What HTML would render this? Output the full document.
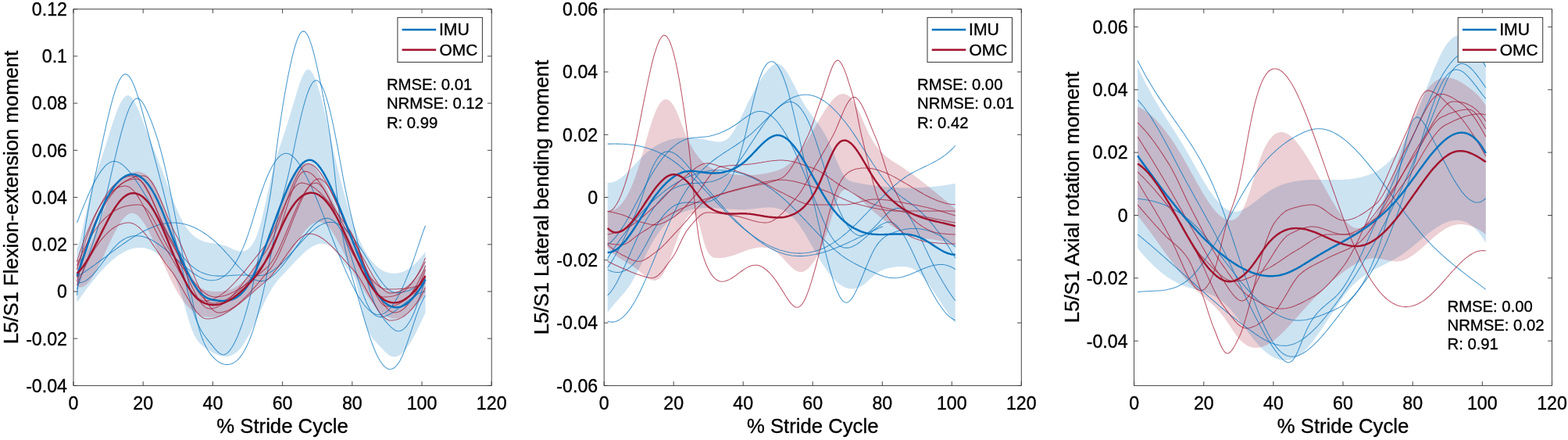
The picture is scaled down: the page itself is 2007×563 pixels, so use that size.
<!DOCTYPE html><html><head><meta charset="utf-8"><style>html,body{margin:0;padding:0;background:#fff;}svg{display:block;}text{font-family:"Liberation Sans",Arial,Helvetica,sans-serif;fill:#000;stroke:#000;stroke-width:0.35px;}</style></head><body>
<svg width="2007" height="563" viewBox="0 0 2007 563">
<rect width="2007" height="563" fill="#fff"/>
<defs><clipPath id="c0"><rect x="94.0" y="11.7" width="535.2" height="481.7"/></clipPath></defs>
<g clip-path="url(#c0)">
<path d="M98.5 319.0L100.5 313.1 102.5 305.9 104.5 297.8 106.5 289.0 108.5 279.8 110.5 270.5 112.5 261.4 114.5 252.7 116.5 244.7 118.5 237.4 120.5 230.6 122.5 224.2 124.5 218.1 126.5 212.1 128.5 206.3 130.5 200.4 132.5 194.4 134.5 188.2 136.5 181.9 138.5 175.4 140.5 169.0 142.5 162.7 144.5 156.6 146.5 150.7 148.5 145.2 150.5 140.0 152.5 135.4 154.5 131.3 156.5 127.9 158.5 125.1 160.5 123.2 162.5 122.2 164.5 122.1 166.5 123.0 168.5 124.8 170.5 127.4 172.5 130.8 174.5 134.7 176.5 139.1 178.5 143.9 180.5 149.0 182.5 154.2 184.5 159.5 186.5 164.8 188.5 170.0 190.5 175.1 192.5 180.2 194.5 185.2 196.5 190.3 198.5 195.3 200.5 200.3 202.5 205.4 204.5 210.5 206.5 215.6 208.5 220.8 210.5 226.1 212.5 231.4 214.5 236.8 216.5 242.3 218.5 247.7 220.5 253.0 222.5 258.2 224.5 263.3 226.5 268.2 228.5 272.8 230.5 277.1 232.5 281.1 234.5 284.7 236.5 288.1 238.5 291.1 240.5 293.8 242.5 296.3 244.5 298.5 246.5 300.4 248.5 302.2 250.5 303.7 252.5 305.0 254.5 306.2 256.5 307.2 258.5 308.0 260.5 308.7 262.5 309.4 264.5 309.9 266.5 310.3 268.5 310.7 270.5 311.0 272.5 311.3 274.5 311.6 276.5 311.9 278.5 312.2 280.5 312.5 282.5 312.9 284.5 313.4 286.5 313.9 288.5 314.5 290.5 315.3 292.5 316.1 294.5 317.0 296.5 318.0 298.5 318.9 300.5 319.7 302.5 320.5 304.5 321.1 306.5 321.5 308.5 321.7 310.5 321.6 312.5 321.2 314.5 320.5 316.5 319.4 318.5 317.9 320.5 315.8 322.5 313.3 324.5 310.2 326.5 306.4 328.5 301.8 330.5 296.3 332.5 289.8 334.5 282.4 336.5 274.1 338.5 265.4 340.5 256.4 342.5 247.3 344.5 238.4 346.5 229.7 348.5 221.3 350.5 213.4 352.5 206.0 354.5 199.1 356.5 192.6 358.5 186.4 360.5 180.4 362.5 174.4 364.5 168.4 366.5 162.3 368.5 156.0 370.5 149.5 372.5 143.0 374.5 136.3 376.5 129.6 378.5 122.9 380.5 116.3 382.5 110.0 384.5 104.2 386.5 99.0 388.5 94.8 390.5 91.5 392.5 89.5 394.5 88.9 396.5 89.6 398.5 91.5 400.5 94.5 402.5 98.5 404.5 103.5 406.5 109.3 408.5 115.8 410.5 122.9 412.5 130.6 414.5 138.7 416.5 147.2 418.5 155.9 420.5 164.7 422.5 173.6 424.5 182.5 426.5 191.2 428.5 199.8 430.5 208.2 432.5 216.5 434.5 224.6 436.5 232.6 438.5 240.3 440.5 247.8 442.5 255.0 444.5 262.1 446.5 268.8 448.5 275.3 450.5 281.5 452.5 287.4 454.5 293.0 456.5 298.2 458.5 303.2 460.5 307.8 462.5 312.1 464.5 316.2 466.5 320.0 468.5 323.4 470.5 326.7 472.5 329.7 474.5 332.4 476.5 334.9 478.5 337.1 480.5 339.2 482.5 341.0 484.5 342.7 486.5 344.1 488.5 345.4 490.5 346.5 492.5 347.4 494.5 348.2 496.5 348.8 498.5 349.3 500.5 349.6 502.5 349.8 504.5 349.9 506.5 349.8 508.5 349.6 510.5 349.3 512.5 348.8 514.5 348.2 516.5 347.4 518.5 346.5 520.5 345.5 522.5 344.3 524.5 343.0 526.5 341.5 528.5 339.9 530.5 338.2 532.5 336.3 534.5 334.3 536.5 332.1 538.5 329.8 540.5 327.3 542.5 324.7 544.5 322.0L544.5 399.7 542.5 404.2 540.5 408.7 538.5 413.1 536.5 417.3 534.5 421.5 532.5 425.4 530.5 429.3 528.5 432.9 526.5 436.4 524.5 439.6 522.5 442.6 520.5 445.4 518.5 447.9 516.5 450.1 514.5 452.1 512.5 453.7 510.5 455.0 508.5 455.9 506.5 456.5 504.5 456.6 502.5 456.4 500.5 455.8 498.5 454.7 496.5 453.3 494.5 451.6 492.5 449.7 490.5 447.7 488.5 445.5 486.5 443.3 484.5 441.2 482.5 439.1 480.5 437.1 478.5 434.9 476.5 432.4 474.5 429.4 472.5 425.8 470.5 421.5 468.5 416.2 466.5 409.9 464.5 402.4 462.5 393.6 460.5 383.7 458.5 373.8 456.5 365.0 454.5 358.2 452.5 353.5 450.5 350.3 448.5 347.9 446.5 346.0 444.5 343.8 442.5 341.2 440.5 338.3 438.5 335.1 436.5 331.8 434.5 328.6 432.5 325.6 430.5 322.8 428.5 320.4 426.5 318.3 424.5 316.6 422.5 315.1 420.5 313.9 418.5 313.0 416.5 312.3 414.5 311.9 412.5 311.7 410.5 311.8 408.5 312.1 406.5 312.5 404.5 313.2 402.5 314.1 400.5 315.1 398.5 316.2 396.5 317.6 394.5 319.0 392.5 320.6 390.5 322.3 388.5 324.1 386.5 325.9 384.5 327.9 382.5 329.9 380.5 331.9 378.5 334.0 376.5 336.2 374.5 338.3 372.5 340.4 370.5 342.6 368.5 344.7 366.5 346.8 364.5 348.9 362.5 351.0 360.5 353.1 358.5 355.3 356.5 357.6 354.5 360.1 352.5 362.7 350.5 365.5 348.5 368.5 346.5 371.8 344.5 375.3 342.5 379.0 340.5 382.9 338.5 387.0 336.5 391.1 334.5 395.4 332.5 399.7 330.5 404.0 328.5 408.3 326.5 412.6 324.5 416.9 322.5 421.0 320.5 425.0 318.5 428.9 316.5 432.6 314.5 436.1 312.5 439.3 310.5 442.3 308.5 444.9 306.5 447.3 304.5 449.3 302.5 451.1 300.5 452.5 298.5 453.7 296.5 454.7 294.5 455.4 292.5 455.9 290.5 456.2 288.5 456.3 286.5 456.1 284.5 455.8 282.5 455.4 280.5 454.8 278.5 454.1 276.5 453.2 274.5 452.2 272.5 451.2 270.5 450.0 268.5 448.8 266.5 447.5 264.5 446.2 262.5 444.8 260.5 443.4 258.5 441.8 256.5 440.0 254.5 437.9 252.5 435.3 250.5 432.2 248.5 428.5 246.5 424.1 244.5 418.8 242.5 412.7 240.5 406.0 238.5 398.9 236.5 391.7 234.5 384.8 232.5 378.3 230.5 372.3 228.5 366.7 226.5 361.6 224.5 356.8 222.5 352.4 220.5 348.4 218.5 344.8 216.5 341.4 214.5 338.4 212.5 335.6 210.5 333.1 208.5 330.9 206.5 328.9 204.5 327.1 202.5 325.5 200.5 324.0 198.5 322.7 196.5 321.6 194.5 320.5 192.5 319.6 190.5 318.9 188.5 318.2 186.5 317.7 184.5 317.3 182.5 317.1 180.5 316.9 178.5 316.9 176.5 317.0 174.5 317.2 172.5 317.5 170.5 317.9 168.5 318.4 166.5 319.1 164.5 319.8 162.5 320.6 160.5 321.6 158.5 322.6 156.5 323.7 154.5 324.9 152.5 326.2 150.5 327.6 148.5 329.1 146.5 330.7 144.5 332.3 142.5 334.0 140.5 335.8 138.5 337.7 136.5 339.6 134.5 341.6 132.5 343.7 130.5 345.8 128.5 348.0 126.5 350.3 124.5 352.6 122.5 355.0 120.5 357.4 118.5 359.9 116.5 362.4 114.5 365.0 112.5 367.6 110.5 370.3 108.5 373.0 106.5 375.7 104.5 378.5 102.5 381.3 100.5 384.2 98.5 387.1Z" fill="#0072BD" fill-opacity="0.2" stroke="none"/>
<path d="M98.5 332.0L100.5 332.2 102.5 331.6 104.5 330.2 106.5 328.3 108.5 325.7 110.5 322.6 112.5 319.0 114.5 315.0 116.5 310.7 118.5 306.0 120.5 301.1 122.5 296.1 124.5 290.9 126.5 285.6 128.5 280.4 130.5 275.2 132.5 270.1 134.5 265.2 136.5 260.5 138.5 256.1 140.5 252.0 142.5 248.2 144.5 244.6 146.5 241.4 148.5 238.4 150.5 235.6 152.5 233.1 154.5 230.8 156.5 228.8 158.5 226.9 160.5 225.3 162.5 224.0 164.5 222.8 166.5 221.8 168.5 221.0 170.5 220.4 172.5 219.9 174.5 219.7 176.5 219.6 178.5 219.8 180.5 220.2 182.5 220.9 184.5 221.8 186.5 223.0 188.5 224.6 190.5 226.5 192.5 228.7 194.5 231.3 196.5 234.3 198.5 237.7 200.5 241.4 202.5 245.7 204.5 250.2 206.5 255.1 208.5 260.3 210.5 265.6 212.5 271.1 214.5 276.8 216.5 282.4 218.5 288.1 220.5 293.8 222.5 299.4 224.5 304.9 226.5 310.4 228.5 315.7 230.5 320.9 232.5 326.0 234.5 330.9 236.5 335.6 238.5 340.1 240.5 344.4 242.5 348.4 244.5 352.2 246.5 355.6 248.5 358.8 250.5 361.6 252.5 364.1 254.5 366.2 256.5 367.9 258.5 369.3 260.5 370.3 262.5 371.1 264.5 371.7 266.5 372.1 268.5 372.4 270.5 372.6 272.5 372.8 274.5 372.9 276.5 373.0 278.5 373.0 280.5 373.0 282.5 372.9 284.5 372.8 286.5 372.5 288.5 372.2 290.5 371.8 292.5 371.2 294.5 370.6 296.5 369.9 298.5 369.0 300.5 368.0 302.5 366.8 304.5 365.6 306.5 364.1 308.5 362.5 310.5 360.8 312.5 358.8 314.5 356.7 316.5 354.5 318.5 352.0 320.5 349.3 322.5 346.4 324.5 343.3 326.5 340.0 328.5 336.5 330.5 332.7 332.5 328.7 334.5 324.5 336.5 319.9 338.5 315.2 340.5 310.2 342.5 305.1 344.5 299.8 346.5 294.3 348.5 288.8 350.5 283.3 352.5 277.7 354.5 272.1 356.5 266.6 358.5 261.2 360.5 255.9 362.5 250.7 364.5 245.7 366.5 240.9 368.5 236.4 370.5 232.2 372.5 228.2 374.5 224.6 376.5 221.4 378.5 218.5 380.5 216.0 382.5 213.9 384.5 212.2 386.5 210.8 388.5 209.8 390.5 209.3 392.5 209.1 394.5 209.4 396.5 210.0 398.5 211.1 400.5 212.6 402.5 214.5 404.5 216.9 406.5 219.6 408.5 222.8 410.5 226.2 412.5 229.8 414.5 233.7 416.5 237.8 418.5 241.9 420.5 246.1 422.5 250.3 424.5 254.6 426.5 258.8 428.5 263.1 430.5 267.4 432.5 271.6 434.5 275.9 436.5 280.1 438.5 284.3 440.5 288.5 442.5 292.7 444.5 296.8 446.5 301.0 448.5 305.0 450.5 309.0 452.5 313.0 454.5 316.9 456.5 320.8 458.5 324.6 460.5 328.3 462.5 331.9 464.5 335.5 466.5 339.0 468.5 342.3 470.5 345.6 472.5 348.7 474.5 351.7 476.5 354.5 478.5 357.2 480.5 359.6 482.5 361.9 484.5 364.0 486.5 365.9 488.5 367.5 490.5 369.0 492.5 370.2 494.5 371.3 496.5 372.1 498.5 372.7 500.5 373.2 502.5 373.5 504.5 373.5 506.5 373.4 508.5 373.1 510.5 372.7 512.5 372.1 514.5 371.3 516.5 370.3 518.5 369.2 520.5 367.9 522.5 366.4 524.5 364.9 526.5 363.1 528.5 361.2 530.5 359.2 532.5 357.0 534.5 354.7 536.5 352.3 538.5 349.7 540.5 347.0 542.5 344.2 544.5 341.3L544.5 376.1 542.5 378.7 540.5 381.2 538.5 383.7 536.5 386.1 534.5 388.4 532.5 390.7 530.5 392.8 528.5 394.9 526.5 396.8 524.5 398.6 522.5 400.2 520.5 401.8 518.5 403.1 516.5 404.3 514.5 405.4 512.5 406.2 510.5 406.9 508.5 407.3 506.5 407.6 504.5 407.6 502.5 407.4 500.5 407.0 498.5 406.3 496.5 405.5 494.5 404.5 492.5 403.2 490.5 401.8 488.5 400.2 486.5 398.5 484.5 396.6 482.5 394.5 480.5 392.2 478.5 389.8 476.5 387.3 474.5 384.6 472.5 381.8 470.5 378.9 468.5 375.9 466.5 372.7 464.5 369.5 462.5 366.1 460.5 362.7 458.5 359.1 456.5 355.5 454.5 351.9 452.5 348.1 450.5 344.3 448.5 340.5 446.5 336.6 444.5 332.6 442.5 328.6 440.5 324.6 438.5 320.6 436.5 316.6 434.5 312.7 432.5 308.9 430.5 305.2 428.5 301.7 426.5 298.5 424.5 295.5 422.5 292.8 420.5 290.4 418.5 288.4 416.5 286.8 414.5 285.6 412.5 284.7 410.5 284.2 408.5 284.0 406.5 284.1 404.5 284.5 402.5 285.3 400.5 286.3 398.5 287.6 396.5 289.1 394.5 291.0 392.5 293.0 390.5 295.3 388.5 297.8 386.5 300.5 384.5 303.4 382.5 306.4 380.5 309.5 378.5 312.6 376.5 315.8 374.5 319.0 372.5 322.1 370.5 325.2 368.5 328.1 366.5 331.0 364.5 333.7 362.5 336.2 360.5 338.6 358.5 341.0 356.5 343.2 354.5 345.3 352.5 347.3 350.5 349.3 348.5 351.2 346.5 353.0 344.5 354.8 342.5 356.5 340.5 358.3 338.5 360.0 336.5 361.6 334.5 363.3 332.5 365.0 330.5 366.8 328.5 368.5 326.5 370.3 324.5 372.1 322.5 374.0 320.5 375.8 318.5 377.7 316.5 379.5 314.5 381.4 312.5 383.2 310.5 385.0 308.5 386.8 306.5 388.6 304.5 390.2 302.5 391.9 300.5 393.5 298.5 395.0 296.5 396.4 294.5 397.8 292.5 399.0 290.5 400.2 288.5 401.2 286.5 402.2 284.5 403.0 282.5 403.7 280.5 404.3 278.5 404.8 276.5 405.3 274.5 405.6 272.5 405.8 270.5 405.8 268.5 405.8 266.5 405.7 264.5 405.5 262.5 405.2 260.5 404.7 258.5 404.2 256.5 403.4 254.5 402.6 252.5 401.6 250.5 400.4 248.5 399.1 246.5 397.7 244.5 396.0 242.5 394.2 240.5 392.2 238.5 390.0 236.5 387.7 234.5 385.1 232.5 382.3 230.5 379.4 228.5 376.2 226.5 372.8 224.5 369.2 222.5 365.4 220.5 361.5 218.5 357.4 216.5 353.3 214.5 349.0 212.5 344.6 210.5 340.2 208.5 335.7 206.5 331.2 204.5 326.6 202.5 322.1 200.5 317.5 198.5 313.1 196.5 308.7 194.5 304.4 192.5 300.3 190.5 296.4 188.5 292.6 186.5 289.1 184.5 285.8 182.5 282.9 180.5 280.2 178.5 277.9 176.5 276.0 174.5 274.5 172.5 273.4 170.5 272.8 168.5 272.7 166.5 273.1 164.5 273.9 162.5 275.3 160.5 277.0 158.5 279.1 156.5 281.6 154.5 284.4 152.5 287.4 150.5 290.8 148.5 294.4 146.5 298.1 144.5 302.1 142.5 306.2 140.5 310.3 138.5 314.6 136.5 318.9 134.5 323.2 132.5 327.5 130.5 331.7 128.5 335.8 126.5 339.8 124.5 343.7 122.5 347.4 120.5 350.9 118.5 354.1 116.5 357.1 114.5 359.8 112.5 362.1 110.5 364.0 108.5 365.6 106.5 366.7 104.5 367.4 102.5 367.5 100.5 367.2 98.5 366.3Z" fill="#A2142F" fill-opacity="0.2" stroke="none"/>
<path d="M98.5 377.7L100.5 358.5 102.5 340.8 104.5 324.6 106.5 309.7 108.5 296.0 110.5 283.4 112.5 271.7 114.5 260.8 116.5 250.5 118.5 240.7 120.5 231.2 122.5 222.0 124.5 212.8 126.5 203.6 128.5 194.3 130.5 185.0 132.5 175.7 134.5 166.6 136.5 157.7 138.5 149.2 140.5 140.9 142.5 133.1 144.5 125.9 146.5 119.2 148.5 113.1 150.5 107.8 152.5 103.3 154.5 99.7 156.5 97.0 158.5 95.3 160.5 94.8 162.5 95.3 164.5 96.9 166.5 99.4 168.5 102.8 170.5 106.9 172.5 111.8 174.5 117.3 176.5 123.3 178.5 129.8 180.5 136.7 182.5 143.9 184.5 151.3 186.5 158.8 188.5 166.4 190.5 174.0 192.5 181.5 194.5 189.0 196.5 196.6 198.5 204.1 200.5 211.7 202.5 219.3 204.5 226.9 206.5 234.7 208.5 242.5 210.5 250.4 212.5 258.4 214.5 266.5 216.5 274.6 218.5 282.8 220.5 291.1 222.5 299.3 224.5 307.6 226.5 315.9 228.5 324.3 230.5 332.6 232.5 340.9 234.5 349.3 236.5 357.5 238.5 365.6 240.5 373.5 242.5 381.2 244.5 388.4 246.5 395.3 248.5 401.6 250.5 407.3 252.5 412.5 254.5 417.0 256.5 421.0 258.5 424.5 260.5 427.7 262.5 430.5 264.5 433.2 266.5 435.7 268.5 438.1 270.5 440.6 272.5 443.1 274.5 445.6 276.5 447.9 278.5 450.0 280.5 451.7 282.5 453.0 284.5 453.8 286.5 453.9 288.5 453.3 290.5 452.1 292.5 450.2 294.5 447.9 296.5 445.0 298.5 441.7 300.5 437.9 302.5 433.8 304.5 429.2 306.5 424.3 308.5 419.0 310.5 413.3 312.5 407.2 314.5 400.6 316.5 393.6 318.5 386.1 320.5 378.1 322.5 369.7 324.5 360.7 326.5 351.3 328.5 341.2 330.5 330.7 332.5 320.0 334.5 309.2 336.5 298.8 338.5 288.8 340.5 279.0 342.5 269.0 344.5 258.2 346.5 246.2 348.5 232.7 350.5 217.8 352.5 202.3 354.5 187.0 356.5 172.3 358.5 158.3 360.5 145.0 362.5 132.3 364.5 120.4 366.5 109.1 368.5 98.5 370.5 88.6 372.5 79.4 374.5 70.9 376.5 63.2 378.5 56.5 380.5 50.7 382.5 46.0 384.5 42.6 386.5 40.5 388.5 39.9 390.5 40.7 392.5 43.0 394.5 46.6 396.5 51.4 398.5 57.2 400.5 64.0 402.5 71.5 404.5 79.8 406.5 88.5 408.5 97.8 410.5 107.5 412.5 117.5 414.5 127.9 416.5 138.4 418.5 149.3 420.5 161.0 422.5 173.8 424.5 188.3 426.5 204.8 428.5 223.1 430.5 241.7 432.5 259.0 434.5 274.5 436.5 288.4 438.5 300.8 440.5 311.9 442.5 321.9 444.5 330.9 446.5 339.1 448.5 346.7 450.5 353.8 452.5 360.7 454.5 367.5 456.5 374.4 458.5 381.3 460.5 388.3 462.5 395.3 464.5 402.2 466.5 409.1 468.5 415.7 470.5 422.2 472.5 428.4 474.5 434.4 476.5 440.0 478.5 445.2 480.5 450.0 482.5 454.4 484.5 458.3 486.5 461.8 488.5 464.8 490.5 467.3 492.5 469.3 494.5 470.8 496.5 471.9 498.5 472.4 500.5 472.3 502.5 471.8 504.5 470.7 506.5 469.0 508.5 466.7 510.5 463.9 512.5 460.5 514.5 456.5 516.5 451.8 518.5 446.7 520.5 441.1 522.5 435.2 524.5 429.1 526.5 422.9 528.5 416.8 530.5 410.8 532.5 405.0 534.5 399.6 536.5 394.4 538.5 389.6 540.5 385.3 542.5 381.3 544.5 377.9" fill="none" stroke="#0072BD" stroke-width="1.05" stroke-opacity="0.72"/>
<path d="M98.5 369.8L100.5 363.8 102.5 357.9 104.5 352.1 106.5 346.5 108.5 340.9 110.5 335.3 112.5 329.7 114.5 324.0 116.5 318.2 118.5 312.4 120.5 306.3 122.5 300.0 124.5 293.5 126.5 286.7 128.5 279.6 130.5 272.1 132.5 264.3 134.5 256.2 136.5 247.9 138.5 239.4 140.5 230.8 142.5 222.2 144.5 213.6 146.5 205.1 148.5 196.7 150.5 188.4 152.5 180.4 154.5 172.8 156.5 165.4 158.5 158.5 160.5 152.1 162.5 146.2 164.5 140.9 166.5 136.4 168.5 132.5 170.5 129.5 172.5 127.3 174.5 126.1 176.5 125.9 178.5 126.8 180.5 128.6 182.5 131.2 184.5 134.6 186.5 138.5 188.5 142.8 190.5 147.4 192.5 152.3 194.5 157.4 196.5 162.8 198.5 168.6 200.5 174.7 202.5 181.2 204.5 188.0 206.5 195.3 208.5 203.0 210.5 211.2 212.5 219.7 214.5 228.7 216.5 238.0 218.5 247.7 220.5 257.5 222.5 267.7 224.5 278.0 226.5 288.5 228.5 299.0 230.5 309.4 232.5 319.7 234.5 329.6 236.5 339.2 238.5 348.5 240.5 357.7 242.5 366.8 244.5 376.0 246.5 385.3 248.5 394.5 250.5 403.4 252.5 411.8 254.5 419.4 256.5 426.1 258.5 432.0 260.5 437.1 262.5 441.6 264.5 445.4 266.5 448.8 268.5 451.7 270.5 454.3 272.5 456.6 274.5 458.7 276.5 460.6 278.5 462.1 280.5 463.5 282.5 464.6 284.5 465.4 286.5 466.0 288.5 466.4 290.5 466.5 292.5 466.4 294.5 466.1 296.5 465.5 298.5 464.6 300.5 463.4 302.5 461.9 304.5 460.1 306.5 457.9 308.5 455.4 310.5 452.5 312.5 449.2 314.5 445.6 316.5 441.5 318.5 436.9 320.5 432.0 322.5 426.6 324.5 420.7 326.5 414.3 328.5 407.4 330.5 400.1 332.5 392.4 334.5 384.2 336.5 375.6 338.5 366.6 340.5 357.2 342.5 347.4 344.5 337.3 346.5 326.8 348.5 316.0 350.5 305.0 352.5 294.1 354.5 283.6 356.5 273.9 358.5 265.1 360.5 257.0 362.5 249.4 364.5 241.9 366.5 234.3 368.5 226.3 370.5 217.6 372.5 208.4 374.5 198.8 376.5 189.1 378.5 179.5 380.5 170.1 382.5 161.0 384.5 152.3 386.5 144.0 388.5 136.3 390.5 129.1 392.5 122.7 394.5 117.0 396.5 112.2 398.5 108.3 400.5 105.3 402.5 103.5 404.5 102.8 406.5 103.2 408.5 104.8 410.5 107.4 412.5 111.1 414.5 115.6 416.5 121.1 418.5 127.4 420.5 134.5 422.5 142.3 424.5 150.8 426.5 160.0 428.5 169.7 430.5 179.9 432.5 190.5 434.5 201.5 436.5 212.6 438.5 223.6 440.5 234.3 442.5 244.4 444.5 253.9 446.5 262.9 448.5 271.6 450.5 280.1 452.5 288.4 454.5 296.6 456.5 305.0 458.5 313.4 460.5 321.8 462.5 330.2 464.5 338.3 466.5 346.3 468.5 354.0 470.5 361.4 472.5 368.3 474.5 374.8 476.5 380.7 478.5 386.1 480.5 390.8 482.5 394.9 484.5 398.5 486.5 401.7 488.5 404.6 490.5 407.3 492.5 409.8 494.5 412.2 496.5 414.6 498.5 416.7 500.5 418.7 502.5 420.4 504.5 421.8 506.5 422.9 508.5 423.5 510.5 423.7 512.5 423.4 514.5 422.5 516.5 421.2 518.5 419.4 520.5 417.1 522.5 414.3 524.5 411.1 526.5 407.4 528.5 403.3 530.5 398.7 532.5 393.8 534.5 388.4 536.5 382.7 538.5 376.5 540.5 370.0 542.5 363.2 544.5 356.0" fill="none" stroke="#0072BD" stroke-width="1.05" stroke-opacity="0.72"/>
<path d="M98.5 285.1L100.5 280.0 102.5 274.9 104.5 269.9 106.5 265.0 108.5 260.1 110.5 255.4 112.5 250.7 114.5 246.2 116.5 241.9 118.5 237.8 120.5 233.8 122.5 230.0 124.5 226.5 126.5 223.2 128.5 220.1 130.5 217.3 132.5 214.8 134.5 212.6 136.5 210.7 138.5 209.1 140.5 207.9 142.5 207.0 144.5 206.6 146.5 206.4 148.5 206.7 150.5 207.2 152.5 208.1 154.5 209.2 156.5 210.6 158.5 212.2 160.5 214.1 162.5 216.2 164.5 218.4 166.5 220.8 168.5 223.3 170.5 226.0 172.5 228.7 174.5 231.6 176.5 234.6 178.5 237.6 180.5 240.7 182.5 243.9 184.5 247.2 186.5 250.5 188.5 253.9 190.5 257.3 192.5 260.8 194.5 264.3 196.5 267.8 198.5 271.3 200.5 274.9 202.5 278.4 204.5 281.9 206.5 285.5 208.5 288.9 210.5 292.4 212.5 295.8 214.5 299.2 216.5 302.5 218.5 305.8 220.5 309.0 222.5 312.2 224.5 315.2 226.5 318.2 228.5 321.0 230.5 323.8 232.5 326.5 234.5 329.0 236.5 331.4 238.5 333.7 240.5 335.9 242.5 337.9 244.5 339.7 246.5 341.4 248.5 342.9 250.5 344.4 252.5 345.7 254.5 346.8 256.5 347.9 258.5 348.8 260.5 349.6 262.5 350.3 264.5 350.9 266.5 351.5 268.5 351.9 270.5 352.3 272.5 352.6 274.5 352.8 276.5 353.0 278.5 353.1 280.5 353.1 282.5 353.2 284.5 353.1 286.5 353.1 288.5 353.0 290.5 352.9 292.5 352.7 294.5 352.6 296.5 352.5 298.5 352.3 300.5 352.2 302.5 352.1 304.5 352.0 306.5 351.9 308.5 351.9 310.5 351.9 312.5 351.9 314.5 352.0 316.5 352.1 318.5 352.3 320.5 352.4 322.5 352.6 324.5 352.7 326.5 352.8 328.5 352.8 330.5 352.8 332.5 352.6 334.5 352.4 336.5 352.0 338.5 351.5 340.5 350.9 342.5 350.1 344.5 349.1 346.5 348.0 348.5 346.8 350.5 345.4 352.5 343.9 354.5 342.4 356.5 340.7 358.5 338.9 360.5 337.0 362.5 335.0 364.5 333.0 366.5 330.9 368.5 328.8 370.5 326.6 372.5 324.4 374.5 322.2 376.5 319.9 378.5 317.6 380.5 315.4 382.5 313.1 384.5 310.9 386.5 308.7 388.5 306.6 390.5 304.4 392.5 302.4 394.5 300.4 396.5 298.5 398.5 296.6 400.5 294.9 402.5 293.3 404.5 291.7 406.5 290.3 408.5 289.0 410.5 287.9 412.5 286.9 414.5 286.0 416.5 285.3 418.5 284.8 420.5 284.5 422.5 284.3 424.5 284.4 426.5 284.6 428.5 285.1 430.5 285.8 432.5 286.6 434.5 287.7 436.5 289.0 438.5 290.4 440.5 292.0 442.5 293.8 444.5 295.8 446.5 297.9 448.5 300.1 450.5 302.5 452.5 305.0 454.5 307.6 456.5 310.3 458.5 313.1 460.5 316.1 462.5 319.1 464.5 322.2 466.5 325.4 468.5 328.7 470.5 332.0 472.5 335.4 474.5 338.8 476.5 342.2 478.5 345.6 480.5 348.9 482.5 352.1 484.5 355.2 486.5 358.1 488.5 360.9 490.5 363.5 492.5 365.9 494.5 368.0 496.5 369.8 498.5 371.3 500.5 372.5 502.5 373.4 504.5 374.0 506.5 374.4 508.5 374.6 510.5 374.5 512.5 374.4 514.5 374.1 516.5 373.6 518.5 373.2 520.5 372.6 522.5 371.9 524.5 371.2 526.5 370.3 528.5 369.4 530.5 368.4 532.5 367.2 534.5 366.0 536.5 364.7 538.5 363.3 540.5 361.8 542.5 360.2 544.5 358.5" fill="none" stroke="#0072BD" stroke-width="1.05" stroke-opacity="0.72"/>
<path d="M98.5 354.0L100.5 352.8 102.5 351.6 104.5 350.3 106.5 349.0 108.5 347.7 110.5 346.3 112.5 345.0 114.5 343.6 116.5 342.2 118.5 340.8 120.5 339.4 122.5 337.9 124.5 336.5 126.5 335.0 128.5 333.5 130.5 332.0 132.5 330.5 134.5 329.1 136.5 327.6 138.5 326.1 140.5 324.6 142.5 323.1 144.5 321.6 146.5 320.2 148.5 318.7 150.5 317.2 152.5 315.8 154.5 314.4 156.5 312.9 158.5 311.5 160.5 310.2 162.5 308.8 164.5 307.4 166.5 306.1 168.5 304.8 170.5 303.6 172.5 302.3 174.5 301.1 176.5 299.9 178.5 298.8 180.5 297.7 182.5 296.6 184.5 295.5 186.5 294.5 188.5 293.6 190.5 292.7 192.5 291.8 194.5 290.9 196.5 290.2 198.5 289.4 200.5 288.7 202.5 288.1 204.5 287.5 206.5 287.0 208.5 286.5 210.5 286.1 212.5 285.8 214.5 285.5 216.5 285.3 218.5 285.1 220.5 285.0 222.5 285.0 224.5 285.1 226.5 285.2 228.5 285.4 230.5 285.6 232.5 286.0 234.5 286.4 236.5 286.8 238.5 287.4 240.5 288.0 242.5 288.6 244.5 289.4 246.5 290.2 248.5 291.1 250.5 292.0 252.5 293.0 254.5 294.1 256.5 295.2 258.5 296.4 260.5 297.7 262.5 299.0 264.5 300.4 266.5 301.9 268.5 303.4 270.5 305.0 272.5 306.7 274.5 308.4 276.5 310.2 278.5 312.1 280.5 314.0 282.5 316.0 284.5 318.0 286.5 320.1 288.5 322.3 290.5 324.5 292.5 326.7 294.5 329.0 296.5 331.3 298.5 333.6 300.5 335.9 302.5 338.1 304.5 340.3 306.5 342.5 308.5 344.5 310.5 346.5 312.5 348.5 314.5 350.3 316.5 351.9 318.5 353.5 320.5 354.9 322.5 356.2 324.5 357.2 326.5 358.1 328.5 358.8 330.5 359.3 332.5 359.6 334.5 359.6 336.5 359.4 338.5 358.9 340.5 358.2 342.5 357.3 344.5 356.2 346.5 354.8 348.5 353.3 350.5 351.7 352.5 349.8 354.5 347.9 356.5 345.7 358.5 343.5 360.5 341.1 362.5 338.7 364.5 336.2 366.5 333.5 368.5 330.9 370.5 328.1 372.5 325.4 374.5 322.6 376.5 319.7 378.5 316.9 380.5 314.1 382.5 311.3 384.5 308.6 386.5 305.9 388.5 303.2 390.5 300.6 392.5 298.1 394.5 295.7 396.5 293.4 398.5 291.2 400.5 289.1 402.5 287.2 404.5 285.5 406.5 283.9 408.5 282.5 410.5 281.3 412.5 280.4 414.5 279.7 416.5 279.4 418.5 279.3 420.5 279.5 422.5 280.1 424.5 281.0 426.5 282.3 428.5 283.9 430.5 286.0 432.5 288.6 434.5 291.5 436.5 295.0 438.5 298.9 440.5 303.4 442.5 308.3 444.5 313.7 446.5 319.4 448.5 325.4 450.5 331.7 452.5 338.1 454.5 344.5 456.5 351.0 458.5 357.4 460.5 363.6 462.5 369.6 464.5 375.4 466.5 380.7 468.5 385.7 470.5 390.1 472.5 394.0 474.5 397.3 476.5 399.9 478.5 401.9 480.5 403.5 482.5 404.6 484.5 405.3 486.5 405.6 488.5 405.6 490.5 405.3 492.5 404.8 494.5 404.1 496.5 403.3 498.5 402.3 500.5 401.2 502.5 400.0 504.5 398.7 506.5 397.3 508.5 395.8 510.5 394.3 512.5 392.7 514.5 391.1 516.5 389.5 518.5 387.8 520.5 386.2 522.5 384.6 524.5 383.1 526.5 381.6 528.5 380.2 530.5 378.8 532.5 377.6 534.5 376.4 536.5 375.4 538.5 374.5 540.5 373.8 542.5 373.2 544.5 372.8" fill="none" stroke="#0072BD" stroke-width="1.05" stroke-opacity="0.72"/>
<path d="M98.5 361.1L100.5 361.5 102.5 361.6 104.5 361.3 106.5 360.7 108.5 359.9 110.5 358.7 112.5 357.3 114.5 355.7 116.5 353.9 118.5 351.8 120.5 349.7 122.5 347.3 124.5 344.9 126.5 342.3 128.5 339.7 130.5 337.0 132.5 334.3 134.5 331.6 136.5 328.9 138.5 326.3 140.5 323.7 142.5 321.1 144.5 318.7 146.5 316.4 148.5 314.3 150.5 312.3 152.5 310.5 154.5 308.9 156.5 307.5 158.5 306.2 160.5 305.1 162.5 304.1 164.5 303.4 166.5 302.7 168.5 302.2 170.5 301.9 172.5 301.7 174.5 301.6 176.5 301.7 178.5 301.9 180.5 302.2 182.5 302.6 184.5 303.2 186.5 303.8 188.5 304.5 190.5 305.4 192.5 306.3 194.5 307.3 196.5 308.5 198.5 309.6 200.5 310.9 202.5 312.2 204.5 313.6 206.5 315.1 208.5 316.6 210.5 318.2 212.5 319.8 214.5 321.4 216.5 323.1 218.5 324.8 220.5 326.6 222.5 328.4 224.5 330.2 226.5 332.0 228.5 333.8 230.5 335.5 232.5 337.3 234.5 339.1 236.5 340.8 238.5 342.5 240.5 344.2 242.5 345.7 244.5 347.3 246.5 348.8 248.5 350.2 250.5 351.5 252.5 352.7 254.5 353.9 256.5 354.9 258.5 355.9 260.5 356.7 262.5 357.4 264.5 358.0 266.5 358.4 268.5 358.7 270.5 358.8 272.5 358.8 274.5 358.6 276.5 358.3 278.5 357.7 280.5 357.0 282.5 356.1 284.5 354.9 286.5 353.6 288.5 352.1 290.5 350.3 292.5 348.3 294.5 346.0 296.5 343.5 298.5 340.8 300.5 337.7 302.5 334.5 304.5 330.9 306.5 327.0 308.5 322.9 310.5 318.4 312.5 313.6 314.5 308.5 316.5 303.1 318.5 297.4 320.5 291.3 322.5 284.9 324.5 278.2 326.5 271.5 328.5 264.9 330.5 258.3 332.5 252.0 334.5 246.0 336.5 240.3 338.5 234.9 340.5 229.8 342.5 225.0 344.5 220.5 346.5 216.4 348.5 212.7 350.5 209.2 352.5 206.2 354.5 203.6 356.5 201.3 358.5 199.4 360.5 198.0 362.5 196.9 364.5 196.3 366.5 196.2 368.5 196.4 370.5 197.2 372.5 198.3 374.5 199.8 376.5 201.7 378.5 203.9 380.5 206.4 382.5 209.2 384.5 212.2 386.5 215.5 388.5 219.0 390.5 222.7 392.5 226.5 394.5 230.5 396.5 234.7 398.5 238.9 400.5 243.4 402.5 247.9 404.5 252.5 406.5 257.3 408.5 262.1 410.5 267.0 412.5 271.9 414.5 276.9 416.5 282.0 418.5 287.0 420.5 292.1 422.5 297.3 424.5 302.4 426.5 307.5 428.5 312.5 430.5 317.6 432.5 322.6 434.5 327.5 436.5 332.4 438.5 337.2 440.5 341.9 442.5 346.5 444.5 351.0 446.5 355.4 448.5 359.7 450.5 363.8 452.5 367.8 454.5 371.6 456.5 375.2 458.5 378.7 460.5 381.9 462.5 385.0 464.5 387.8 466.5 390.5 468.5 392.9 470.5 395.0 472.5 396.9 474.5 398.6 476.5 400.0 478.5 401.1 480.5 401.9 482.5 402.5 484.5 402.7 486.5 402.7 488.5 402.3 490.5 401.6 492.5 400.6 494.5 399.2 496.5 397.5 498.5 395.4 500.5 393.1 502.5 390.4 504.5 387.5 506.5 384.3 508.5 380.9 510.5 377.3 512.5 373.4 514.5 369.4 516.5 365.1 518.5 360.6 520.5 355.9 522.5 351.0 524.5 345.9 526.5 340.5 528.5 335.0 530.5 329.3 532.5 323.4 534.5 317.4 536.5 311.4 538.5 305.5 540.5 299.6 542.5 294.0 544.5 288.7" fill="none" stroke="#0072BD" stroke-width="1.05" stroke-opacity="0.72"/>
<path d="M98.5 345.0L100.5 337.8 102.5 330.8 104.5 324.1 106.5 317.6 108.5 311.4 110.5 305.4 112.5 299.7 114.5 294.2 116.5 288.9 118.5 283.9 120.5 279.1 122.5 274.5 124.5 270.2 126.5 266.1 128.5 262.2 130.5 258.5 132.5 255.0 134.5 251.7 136.5 248.6 138.5 245.8 140.5 243.1 142.5 240.6 144.5 238.4 146.5 236.3 148.5 234.4 150.5 232.7 152.5 231.1 154.5 229.8 156.5 228.6 158.5 227.6 160.5 226.8 162.5 226.1 164.5 225.6 166.5 225.2 168.5 225.0 170.5 225.0 172.5 225.4 174.5 226.3 176.5 227.7 178.5 229.5 180.5 231.7 182.5 234.3 184.5 237.2 186.5 240.4 188.5 243.9 190.5 247.6 192.5 251.6 194.5 255.7 196.5 259.9 198.5 264.2 200.5 268.6 202.5 273.1 204.5 277.5 206.5 281.9 208.5 286.3 210.5 290.5 212.5 294.6 214.5 298.6 216.5 302.3 218.5 305.9 220.5 309.6 222.5 313.5 224.5 317.7 226.5 322.1 228.5 326.6 230.5 331.2 232.5 336.0 234.5 340.8 236.5 345.6 238.5 350.3 240.5 355.0 242.5 359.7 244.5 364.2 246.5 368.5 248.5 372.6 250.5 376.5 252.5 380.2 254.5 383.5 256.5 386.4 258.5 389.0 260.5 391.2 262.5 392.9 264.5 394.1 266.5 394.8 268.5 395.0 270.5 394.9 272.5 394.5 274.5 394.1 276.5 393.4 278.5 392.6 280.5 391.6 282.5 390.5 284.5 389.3 286.5 387.9 288.5 386.4 290.5 384.8 292.5 383.0 294.5 381.1 296.5 379.2 298.5 377.1 300.5 374.9 302.5 372.7 304.5 370.3 306.5 367.9 308.5 365.5 310.5 362.9 312.5 360.3 314.5 357.7 316.5 355.0 318.5 352.3 320.5 349.5 322.5 346.7 324.5 343.9 326.5 341.1 328.5 338.2 330.5 335.4 332.5 332.5 334.5 329.7 336.5 326.9 338.5 324.1 340.5 321.3 342.5 318.2 344.5 314.6 346.5 310.6 348.5 306.3 350.5 301.6 352.5 296.7 354.5 291.5 356.5 286.2 358.5 280.7 360.5 275.1 362.5 269.5 364.5 263.9 366.5 258.3 368.5 252.8 370.5 247.5 372.5 242.3 374.5 237.3 376.5 232.6 378.5 228.2 380.5 224.2 382.5 220.6 384.5 217.4 386.5 214.7 388.5 212.5 390.5 210.9 392.5 209.9 394.5 209.6 396.5 209.8 398.5 210.5 400.5 211.5 402.5 213.0 404.5 214.7 406.5 216.8 408.5 219.2 410.5 221.9 412.5 224.9 414.5 228.1 416.5 231.5 418.5 235.1 420.5 238.8 422.5 242.8 424.5 246.8 426.5 251.0 428.5 255.2 430.5 259.5 432.5 263.8 434.5 268.2 436.5 272.5 438.5 276.8 440.5 281.1 442.5 285.3 444.5 289.4 446.5 293.4 448.5 297.2 450.5 300.9 452.5 304.9 454.5 309.2 456.5 313.9 458.5 318.8 460.5 323.9 462.5 329.2 464.5 334.6 466.5 340.1 468.5 345.5 470.5 350.9 472.5 356.2 474.5 361.4 476.5 366.3 478.5 370.9 480.5 375.3 482.5 379.2 484.5 382.7 486.5 385.8 488.5 388.3 490.5 390.2 492.5 391.4 494.5 392.0 496.5 392.0 498.5 391.9 500.5 391.7 502.5 391.4 504.5 390.9 506.5 390.4 508.5 389.7 510.5 388.8 512.5 387.8 514.5 386.6 516.5 385.2 518.5 383.6 520.5 381.8 522.5 379.8 524.5 377.6 526.5 375.1 528.5 372.4 530.5 369.4 532.5 366.1 534.5 362.5 536.5 358.7 538.5 354.5 540.5 350.0 542.5 345.2 544.5 340.0" fill="none" stroke="#A2142F" stroke-width="1.05" stroke-opacity="0.72"/>
<path d="M98.5 360.0L100.5 352.4 102.5 345.0 104.5 338.0 106.5 331.2 108.5 324.6 110.5 318.3 112.5 312.3 114.5 306.5 116.5 301.0 118.5 295.7 120.5 290.7 122.5 285.8 124.5 281.3 126.5 276.9 128.5 272.7 130.5 268.8 132.5 265.0 134.5 261.5 136.5 258.2 138.5 255.0 140.5 252.1 142.5 249.3 144.5 246.7 146.5 244.3 148.5 242.0 150.5 239.9 152.5 238.0 154.5 236.2 156.5 234.6 158.5 233.1 160.5 231.8 162.5 230.6 164.5 229.5 166.5 228.6 168.5 227.8 170.5 227.1 172.5 226.5 174.5 226.0 176.5 225.6 178.5 225.3 180.5 225.1 182.5 225.0 184.5 225.0 186.5 225.5 188.5 226.7 190.5 228.5 192.5 230.8 194.5 233.6 196.5 236.8 198.5 240.5 200.5 244.4 202.5 248.7 204.5 253.2 206.5 257.8 208.5 262.6 210.5 267.4 212.5 272.3 214.5 277.2 216.5 281.9 218.5 286.5 220.5 291.0 222.5 295.2 224.5 299.1 226.5 302.8 228.5 306.8 230.5 310.9 232.5 315.3 234.5 319.8 236.5 324.4 238.5 329.1 240.5 333.9 242.5 338.8 244.5 343.6 246.5 348.4 248.5 353.2 250.5 357.9 252.5 362.5 254.5 367.0 256.5 371.3 258.5 375.4 260.5 379.3 262.5 383.0 264.5 386.4 266.5 389.4 268.5 392.2 270.5 394.6 272.5 396.5 274.5 398.1 276.5 399.2 278.5 399.9 280.5 400.0 282.5 399.9 284.5 399.6 286.5 399.1 288.5 398.5 290.5 397.8 292.5 396.9 294.5 395.9 296.5 394.8 298.5 393.5 300.5 392.2 302.5 390.7 304.5 389.1 306.5 387.5 308.5 385.7 310.5 383.9 312.5 381.9 314.5 379.9 316.5 377.9 318.5 375.8 320.5 373.6 322.5 371.4 324.5 369.1 326.5 366.8 328.5 364.5 330.5 362.2 332.5 359.8 334.5 357.4 336.5 355.0 338.5 352.7 340.5 350.3 342.5 347.9 344.5 345.6 346.5 343.1 348.5 340.3 350.5 337.2 352.5 333.7 354.5 330.0 356.5 325.9 358.5 321.7 360.5 317.2 362.5 312.6 364.5 307.8 366.5 302.9 368.5 298.0 370.5 293.0 372.5 288.0 374.5 282.9 376.5 278.0 378.5 273.1 380.5 268.3 382.5 263.6 384.5 259.1 386.5 254.8 388.5 250.7 390.5 246.9 392.5 243.3 394.5 240.1 396.5 237.2 398.5 234.7 400.5 232.6 402.5 230.9 404.5 229.7 406.5 229.0 408.5 228.8 410.5 229.2 412.5 230.2 414.5 231.8 416.5 233.8 418.5 236.4 420.5 239.3 422.5 242.7 424.5 246.4 426.5 250.4 428.5 254.6 430.5 259.1 432.5 263.8 434.5 268.6 436.5 273.5 438.5 278.5 440.5 283.5 442.5 288.4 444.5 293.3 446.5 298.1 448.5 302.7 450.5 307.1 452.5 311.3 454.5 315.3 456.5 318.9 458.5 322.6 460.5 326.5 462.5 330.6 464.5 334.8 466.5 339.1 468.5 343.5 470.5 348.0 472.5 352.4 474.5 356.9 476.5 361.3 478.5 365.6 480.5 369.8 482.5 373.9 484.5 377.8 486.5 381.4 488.5 384.9 490.5 388.0 492.5 390.9 494.5 393.4 496.5 395.6 498.5 397.4 500.5 398.7 502.5 399.6 504.5 400.0 506.5 399.9 508.5 399.6 510.5 398.9 512.5 398.0 514.5 396.8 516.5 395.3 518.5 393.5 520.5 391.4 522.5 389.1 524.5 386.5 526.5 383.6 528.5 380.4 530.5 376.9 532.5 373.2 534.5 369.2 536.5 364.9 538.5 360.3 540.5 355.5 542.5 350.4 544.5 345.0" fill="none" stroke="#A2142F" stroke-width="1.05" stroke-opacity="0.72"/>
<path d="M98.5 335.0L100.5 328.6 102.5 322.4 104.5 316.5 106.5 310.7 108.5 305.3 110.5 300.0 112.5 295.0 114.5 290.2 116.5 285.6 118.5 281.2 120.5 277.1 122.5 273.2 124.5 269.5 126.5 266.0 128.5 262.7 130.5 259.7 132.5 256.8 134.5 254.2 136.5 251.7 138.5 249.5 140.5 247.5 142.5 245.7 144.5 244.0 146.5 242.6 148.5 241.4 150.5 240.3 152.5 239.5 154.5 238.8 156.5 238.4 158.5 238.1 160.5 238.0 162.5 238.2 164.5 239.0 166.5 240.1 168.5 241.7 170.5 243.6 172.5 245.9 174.5 248.5 176.5 251.4 178.5 254.6 180.5 258.0 182.5 261.6 184.5 265.3 186.5 269.2 188.5 273.2 190.5 277.3 192.5 281.4 194.5 285.6 196.5 289.7 198.5 293.8 200.5 297.8 202.5 301.7 204.5 305.5 206.5 309.1 208.5 312.6 210.5 315.8 212.5 318.7 214.5 321.7 216.5 324.9 218.5 328.2 220.5 331.6 222.5 335.0 224.5 338.6 226.5 342.1 228.5 345.7 230.5 349.3 232.5 352.8 234.5 356.3 236.5 359.7 238.5 362.9 240.5 366.1 242.5 369.0 244.5 371.8 246.5 374.4 248.5 376.8 250.5 378.9 252.5 380.8 254.5 382.3 256.5 383.5 258.5 384.4 260.5 384.9 262.5 385.0 264.5 384.9 266.5 384.6 268.5 384.2 270.5 383.6 272.5 382.9 274.5 382.1 276.5 381.1 278.5 380.1 280.5 378.9 282.5 377.6 284.5 376.1 286.5 374.6 288.5 373.0 290.5 371.3 292.5 369.5 294.5 367.6 296.5 365.6 298.5 363.6 300.5 361.5 302.5 359.4 304.5 357.1 306.5 354.9 308.5 352.5 310.5 350.2 312.5 347.8 314.5 345.3 316.5 342.9 318.5 340.4 320.5 337.9 322.5 335.4 324.5 332.9 326.5 330.3 328.5 327.8 330.5 325.3 332.5 322.8 334.5 320.3 336.5 317.8 338.5 315.4 340.5 312.6 342.5 309.5 344.5 306.0 346.5 302.2 348.5 298.1 350.5 293.8 352.5 289.4 354.5 284.9 356.5 280.2 358.5 275.6 360.5 271.0 362.5 266.4 364.5 262.0 366.5 257.7 368.5 253.7 370.5 249.9 372.5 246.3 374.5 243.2 376.5 240.4 378.5 238.1 380.5 236.3 382.5 235.0 384.5 234.2 386.5 234.1 388.5 234.3 390.5 234.7 392.5 235.2 394.5 236.0 396.5 236.9 398.5 237.9 400.5 239.2 402.5 240.6 404.5 242.1 406.5 243.8 408.5 245.5 410.5 247.4 412.5 249.4 414.5 251.6 416.5 253.8 418.5 256.1 420.5 258.4 422.5 260.9 424.5 263.4 426.5 265.9 428.5 268.5 430.5 271.2 432.5 273.8 434.5 276.5 436.5 279.2 438.5 281.9 440.5 284.6 442.5 287.3 444.5 290.0 446.5 292.7 448.5 295.8 450.5 299.4 452.5 303.4 454.5 307.9 456.5 312.7 458.5 317.7 460.5 323.0 462.5 328.4 464.5 333.8 466.5 339.2 468.5 344.6 470.5 349.8 472.5 354.9 474.5 359.6 476.5 364.0 478.5 368.0 480.5 371.6 482.5 374.6 484.5 377.0 486.5 378.8 488.5 379.8 490.5 380.0 492.5 380.0 494.5 379.9 496.5 379.8 498.5 379.6 500.5 379.3 502.5 378.9 504.5 378.4 506.5 377.8 508.5 377.1 510.5 376.3 512.5 375.3 514.5 374.1 516.5 372.8 518.5 371.3 520.5 369.6 522.5 367.7 524.5 365.5 526.5 363.2 528.5 360.6 530.5 357.8 532.5 354.7 534.5 351.3 536.5 347.7 538.5 343.7 540.5 339.5 542.5 334.9 544.5 330.0" fill="none" stroke="#A2142F" stroke-width="1.05" stroke-opacity="0.72"/>
<path d="M98.5 355.0L100.5 347.5 102.5 340.2 104.5 333.2 106.5 326.5 108.5 320.0 110.5 313.9 112.5 308.0 114.5 302.3 116.5 296.9 118.5 291.7 120.5 286.8 122.5 282.1 124.5 277.7 126.5 273.4 128.5 269.4 130.5 265.7 132.5 262.1 134.5 258.8 136.5 255.6 138.5 252.7 140.5 249.9 142.5 247.4 144.5 245.0 146.5 242.8 148.5 240.8 150.5 239.0 152.5 237.3 154.5 235.8 156.5 234.5 158.5 233.3 160.5 232.3 162.5 231.4 164.5 230.7 166.5 230.1 168.5 229.6 170.5 229.3 172.5 229.1 174.5 229.0 176.5 229.2 178.5 230.0 180.5 231.5 182.5 233.4 184.5 235.9 186.5 238.9 188.5 242.3 190.5 246.0 192.5 250.1 194.5 254.4 196.5 259.0 198.5 263.7 200.5 268.5 202.5 273.4 204.5 278.3 206.5 283.3 208.5 288.1 210.5 292.8 212.5 297.3 214.5 301.7 216.5 305.7 218.5 309.4 220.5 312.8 222.5 316.2 224.5 319.7 226.5 323.4 228.5 327.2 230.5 331.0 232.5 334.9 234.5 338.8 236.5 342.7 238.5 346.6 240.5 350.4 242.5 354.2 244.5 357.9 246.5 361.5 248.5 365.0 250.5 368.3 252.5 371.4 254.5 374.4 256.5 377.1 258.5 379.5 260.5 381.7 262.5 383.6 264.5 385.2 266.5 386.5 268.5 387.4 270.5 387.9 272.5 388.0 274.5 387.9 276.5 387.7 278.5 387.3 280.5 386.8 282.5 386.2 284.5 385.5 286.5 384.7 288.5 383.8 290.5 382.8 292.5 381.6 294.5 380.4 296.5 379.1 298.5 377.7 300.5 376.2 302.5 374.6 304.5 372.9 306.5 371.2 308.5 369.4 310.5 367.5 312.5 365.6 314.5 363.6 316.5 361.6 318.5 359.5 320.5 357.3 322.5 355.1 324.5 352.9 326.5 350.6 328.5 348.3 330.5 345.9 332.5 343.5 334.5 341.1 336.5 338.7 338.5 336.3 340.5 333.8 342.5 331.4 344.5 328.4 346.5 324.7 348.5 320.4 350.5 315.6 352.5 310.3 354.5 304.7 356.5 298.7 358.5 292.5 360.5 286.2 362.5 279.7 364.5 273.2 366.5 266.8 368.5 260.4 370.5 254.3 372.5 248.4 374.5 242.9 376.5 237.8 378.5 233.1 380.5 229.0 382.5 225.5 384.5 222.7 386.5 220.7 388.5 219.5 390.5 219.2 392.5 219.5 394.5 220.1 396.5 221.1 398.5 222.4 400.5 223.9 402.5 225.8 404.5 228.0 406.5 230.4 408.5 233.0 410.5 235.8 412.5 238.8 414.5 242.0 416.5 245.3 418.5 248.7 420.5 252.3 422.5 256.0 424.5 259.7 426.5 263.5 428.5 267.3 430.5 271.1 432.5 274.9 434.5 278.7 436.5 282.4 438.5 286.1 440.5 289.7 442.5 293.2 444.5 296.5 446.5 299.8 448.5 302.8 450.5 305.7 452.5 308.7 454.5 311.9 456.5 315.2 458.5 318.7 460.5 322.2 462.5 325.9 464.5 329.6 466.5 333.3 468.5 337.1 470.5 340.8 472.5 344.4 474.5 348.0 476.5 351.4 478.5 354.8 480.5 357.9 482.5 360.9 484.5 363.7 486.5 366.2 488.5 368.5 490.5 370.4 492.5 372.1 494.5 373.4 496.5 374.3 498.5 374.9 500.5 375.0 502.5 374.9 504.5 374.7 506.5 374.3 508.5 373.8 510.5 373.1 512.5 372.3 514.5 371.3 516.5 370.2 518.5 368.9 520.5 367.4 522.5 365.8 524.5 364.0 526.5 362.0 528.5 359.8 530.5 357.4 532.5 354.8 534.5 352.1 536.5 349.1 538.5 345.9 540.5 342.5 542.5 338.8 544.5 335.0" fill="none" stroke="#A2142F" stroke-width="1.05" stroke-opacity="0.72"/>
<path d="M98.5 365.0L100.5 360.1 102.5 355.3 104.5 350.7 106.5 346.3 108.5 342.1 110.5 338.0 112.5 334.0 114.5 330.2 116.5 326.6 118.5 323.2 120.5 319.9 122.5 316.7 124.5 313.7 126.5 310.9 128.5 308.2 130.5 305.7 132.5 303.3 134.5 301.1 136.5 299.0 138.5 297.1 140.5 295.3 142.5 293.7 144.5 292.2 146.5 290.8 148.5 289.6 150.5 288.6 152.5 287.6 154.5 286.9 156.5 286.2 158.5 285.7 160.5 285.3 162.5 285.1 164.5 285.0 166.5 285.1 168.5 285.5 170.5 286.2 172.5 287.1 174.5 288.4 176.5 289.8 178.5 291.5 180.5 293.5 182.5 295.5 184.5 297.8 186.5 300.2 188.5 302.8 190.5 305.5 192.5 308.3 194.5 311.1 196.5 314.1 198.5 317.0 200.5 320.0 202.5 323.1 204.5 326.1 206.5 329.1 208.5 332.0 210.5 334.9 212.5 337.8 214.5 340.5 216.5 343.1 218.5 345.6 220.5 348.3 222.5 351.1 224.5 354.2 226.5 357.4 228.5 360.8 230.5 364.3 232.5 367.8 234.5 371.4 236.5 375.0 238.5 378.5 240.5 382.0 242.5 385.4 244.5 388.7 246.5 391.8 248.5 394.8 250.5 397.5 252.5 400.0 254.5 402.2 256.5 404.1 258.5 405.7 260.5 406.9 262.5 407.6 264.5 408.0 266.5 408.0 268.5 407.8 270.5 407.6 272.5 407.2 274.5 406.7 276.5 406.2 278.5 405.5 280.5 404.8 282.5 403.9 284.5 403.0 286.5 402.0 288.5 400.9 290.5 399.8 292.5 398.6 294.5 397.3 296.5 395.9 298.5 394.6 300.5 393.1 302.5 391.6 304.5 390.1 306.5 388.5 308.5 386.9 310.5 385.3 312.5 383.6 314.5 381.9 316.5 380.2 318.5 378.5 320.5 376.7 322.5 375.0 324.5 373.2 326.5 371.5 328.5 369.7 330.5 368.0 332.5 366.3 334.5 364.6 336.5 362.9 338.5 361.2 340.5 359.6 342.5 357.8 344.5 355.8 346.5 353.6 348.5 351.3 350.5 348.8 352.5 346.2 354.5 343.5 356.5 340.7 358.5 337.9 360.5 335.0 362.5 332.1 364.5 329.2 366.5 326.3 368.5 323.5 370.5 320.7 372.5 318.0 374.5 315.4 376.5 312.9 378.5 310.5 380.5 308.3 382.5 306.3 384.5 304.5 386.5 303.0 388.5 301.6 390.5 300.6 392.5 299.8 394.5 299.3 396.5 299.1 398.5 299.2 400.5 299.5 402.5 300.0 404.5 300.7 406.5 301.5 408.5 302.5 410.5 303.7 412.5 305.0 414.5 306.4 416.5 307.9 418.5 309.6 420.5 311.3 422.5 313.2 424.5 315.1 426.5 317.1 428.5 319.2 430.5 321.3 432.5 323.5 434.5 325.7 436.5 327.9 438.5 330.2 440.5 332.4 442.5 334.7 444.5 336.9 446.5 339.1 448.5 341.3 450.5 343.4 452.5 345.5 454.5 347.8 456.5 350.4 458.5 353.3 460.5 356.3 462.5 359.6 464.5 363.0 466.5 366.5 468.5 370.1 470.5 373.7 472.5 377.4 474.5 381.0 476.5 384.6 478.5 388.1 480.5 391.4 482.5 394.6 484.5 397.5 486.5 400.3 488.5 402.8 490.5 404.9 492.5 406.8 494.5 408.2 496.5 409.3 498.5 409.9 500.5 410.0 502.5 409.9 504.5 409.6 506.5 409.2 508.5 408.7 510.5 408.0 512.5 407.1 514.5 406.1 516.5 404.8 518.5 403.5 520.5 401.9 522.5 400.2 524.5 398.2 526.5 396.1 528.5 393.8 530.5 391.3 532.5 388.6 534.5 385.7 536.5 382.6 538.5 379.3 540.5 375.7 542.5 372.0 544.5 368.0" fill="none" stroke="#A2142F" stroke-width="1.05" stroke-opacity="0.72"/>
<path d="M98.5 340.0L100.5 335.0 102.5 330.3 104.5 325.7 106.5 321.4 108.5 317.2 110.5 313.2 112.5 309.5 114.5 305.9 116.5 302.5 118.5 299.2 120.5 296.2 122.5 293.3 124.5 290.5 126.5 288.0 128.5 285.5 130.5 283.3 132.5 281.1 134.5 279.1 136.5 277.3 138.5 275.6 140.5 274.0 142.5 272.5 144.5 271.1 146.5 269.9 148.5 268.8 150.5 267.7 152.5 266.8 154.5 266.0 156.5 265.3 158.5 264.6 160.5 264.0 162.5 263.6 164.5 263.2 166.5 262.8 168.5 262.5 170.5 262.3 172.5 262.2 174.5 262.1 176.5 262.0 178.5 262.0 180.5 262.4 182.5 263.4 184.5 264.8 186.5 266.6 188.5 268.8 190.5 271.4 192.5 274.3 194.5 277.5 196.5 280.9 198.5 284.5 200.5 288.2 202.5 292.1 204.5 296.0 206.5 300.0 208.5 304.0 210.5 307.9 212.5 311.7 214.5 315.4 216.5 319.0 218.5 322.3 220.5 325.3 222.5 328.1 224.5 330.6 226.5 333.0 228.5 335.5 230.5 338.1 232.5 340.7 234.5 343.3 236.5 346.0 238.5 348.6 240.5 351.2 242.5 353.9 244.5 356.4 246.5 358.9 248.5 361.4 250.5 363.7 252.5 366.0 254.5 368.1 256.5 370.1 258.5 372.0 260.5 373.7 262.5 375.2 264.5 376.5 266.5 377.7 268.5 378.6 270.5 379.3 272.5 379.8 274.5 380.0 276.5 380.0 278.5 379.8 280.5 379.6 282.5 379.3 284.5 378.9 286.5 378.4 288.5 377.9 290.5 377.2 292.5 376.5 294.5 375.7 296.5 374.8 298.5 373.9 300.5 372.9 302.5 371.8 304.5 370.6 306.5 369.5 308.5 368.2 310.5 366.9 312.5 365.6 314.5 364.2 316.5 362.8 318.5 361.3 320.5 359.8 322.5 358.2 324.5 356.7 326.5 355.0 328.5 353.4 330.5 351.8 332.5 350.1 334.5 348.4 336.5 346.7 338.5 345.0 340.5 343.3 342.5 341.6 344.5 339.5 346.5 337.0 348.5 334.2 350.5 331.0 352.5 327.5 354.5 323.7 356.5 319.7 358.5 315.5 360.5 311.0 362.5 306.5 364.5 301.8 366.5 297.0 368.5 292.2 370.5 287.4 372.5 282.5 374.5 277.7 376.5 273.0 378.5 268.5 380.5 264.0 382.5 259.8 384.5 255.7 386.5 251.9 388.5 248.4 390.5 245.2 392.5 242.3 394.5 239.8 396.5 237.7 398.5 236.0 400.5 234.8 402.5 234.2 404.5 234.0 406.5 234.5 408.5 235.6 410.5 237.3 412.5 239.6 414.5 242.3 416.5 245.5 418.5 249.1 420.5 253.0 422.5 257.2 424.5 261.7 426.5 266.4 428.5 271.3 430.5 276.3 432.5 281.4 434.5 286.5 436.5 291.6 438.5 296.6 440.5 301.5 442.5 306.3 444.5 310.9 446.5 315.3 448.5 319.3 450.5 323.1 452.5 326.4 454.5 329.3 456.5 332.0 458.5 334.6 460.5 337.3 462.5 340.1 464.5 342.8 466.5 345.5 468.5 348.2 470.5 350.9 472.5 353.4 474.5 355.9 476.5 358.2 478.5 360.4 480.5 362.4 482.5 364.2 484.5 365.8 486.5 367.2 488.5 368.3 490.5 369.2 492.5 369.7 494.5 370.0 496.5 370.0 498.5 370.0 500.5 370.0 502.5 370.0 504.5 369.9 506.5 369.9 508.5 369.8 510.5 369.8 512.5 369.6 514.5 369.5 516.5 369.3 518.5 369.1 520.5 368.9 522.5 368.6 524.5 368.3 526.5 367.9 528.5 367.5 530.5 367.0 532.5 366.5 534.5 365.9 536.5 365.3 538.5 364.6 540.5 363.8 542.5 362.9 544.5 362.0" fill="none" stroke="#A2142F" stroke-width="1.05" stroke-opacity="0.72"/>
<path d="M98.5 352.9L100.5 347.4 102.5 341.7 104.5 336.0 106.5 330.2 108.5 324.4 110.5 318.6 112.5 312.8 114.5 307.1 116.5 301.5 118.5 295.9 120.5 290.6 122.5 285.3 124.5 280.3 126.5 275.4 128.5 270.8 130.5 266.3 132.5 262.1 134.5 258.0 136.5 254.2 138.5 250.6 140.5 247.2 142.5 244.0 144.5 241.0 146.5 238.3 148.5 235.8 150.5 233.5 152.5 231.4 154.5 229.5 156.5 227.9 158.5 226.5 160.5 225.3 162.5 224.4 164.5 223.7 166.5 223.2 168.5 223.0 170.5 223.1 172.5 223.3 174.5 223.8 176.5 224.6 178.5 225.6 180.5 226.9 182.5 228.4 184.5 230.2 186.5 232.3 188.5 234.6 190.5 237.1 192.5 240.0 194.5 243.1 196.5 246.5 198.5 250.1 200.5 254.1 202.5 258.3 204.5 262.7 206.5 267.3 208.5 272.1 210.5 277.1 212.5 282.1 214.5 287.2 216.5 292.4 218.5 297.6 220.5 302.7 222.5 307.8 224.5 312.9 226.5 317.8 228.5 322.7 230.5 327.5 232.5 332.2 234.5 336.8 236.5 341.2 238.5 345.5 240.5 349.6 242.5 353.5 244.5 357.3 246.5 360.8 248.5 364.1 250.5 367.1 252.5 369.9 254.5 372.5 256.5 374.8 258.5 376.7 260.5 378.4 262.5 379.8 264.5 381.0 266.5 381.9 268.5 382.6 270.5 383.2 272.5 383.7 274.5 384.1 276.5 384.3 278.5 384.6 280.5 384.8 282.5 384.9 284.5 385.0 286.5 385.0 288.5 384.9 290.5 384.7 292.5 384.4 294.5 384.0 296.5 383.4 298.5 382.7 300.5 381.7 302.5 380.6 304.5 379.3 306.5 377.8 308.5 376.0 310.5 374.0 312.5 371.7 314.5 369.1 316.5 366.3 318.5 363.2 320.5 359.7 322.5 356.0 324.5 352.1 326.5 347.9 328.5 343.4 330.5 338.8 332.5 334.0 334.5 329.1 336.5 324.0 338.5 318.8 340.5 313.5 342.5 308.1 344.5 302.7 346.5 297.2 348.5 291.7 350.5 286.2 352.5 280.7 354.5 275.3 356.5 269.9 358.5 264.6 360.5 259.4 362.5 254.3 364.5 249.4 366.5 244.6 368.5 240.0 370.5 235.6 372.5 231.4 374.5 227.5 376.5 223.8 378.5 220.3 380.5 217.2 382.5 214.4 384.5 211.9 386.5 209.7 388.5 207.9 390.5 206.5 392.5 205.5 394.5 204.9 396.5 204.7 398.5 204.9 400.5 205.7 402.5 206.9 404.5 208.5 406.5 210.5 408.5 212.9 410.5 215.6 412.5 218.6 414.5 221.9 416.5 225.5 418.5 229.3 420.5 233.3 422.5 237.4 424.5 241.7 426.5 246.2 428.5 250.8 430.5 255.5 432.5 260.3 434.5 265.2 436.5 270.2 438.5 275.2 440.5 280.3 442.5 285.5 444.5 290.6 446.5 295.8 448.5 301.0 450.5 306.1 452.5 311.2 454.5 316.3 456.5 321.3 458.5 326.3 460.5 331.1 462.5 335.9 464.5 340.6 466.5 345.1 468.5 349.5 470.5 353.8 472.5 357.9 474.5 361.8 476.5 365.5 478.5 369.0 480.5 372.3 482.5 375.4 484.5 378.2 486.5 380.8 488.5 383.1 490.5 385.2 492.5 387.1 494.5 388.7 496.5 390.0 498.5 391.1 500.5 392.0 502.5 392.7 504.5 393.1 506.5 393.3 508.5 393.3 510.5 393.0 512.5 392.6 514.5 391.9 516.5 391.0 518.5 389.9 520.5 388.6 522.5 387.1 524.5 385.4 526.5 383.4 528.5 381.3 530.5 379.0 532.5 376.5 534.5 373.8 536.5 370.9 538.5 367.9 540.5 364.6 542.5 361.2 544.5 357.6" fill="none" stroke="#0072BD" stroke-width="2.45" stroke-linejoin="round"/>
<path d="M98.5 349.9L100.5 348.0 102.5 345.9 104.5 343.4 106.5 340.7 108.5 337.8 110.5 334.7 112.5 331.4 114.5 327.9 116.5 324.3 118.5 320.5 120.5 316.7 122.5 312.7 124.5 308.7 126.5 304.7 128.5 300.7 130.5 296.6 132.5 292.6 134.5 288.7 136.5 284.8 138.5 280.9 140.5 277.2 142.5 273.7 144.5 270.2 146.5 267.0 148.5 263.9 150.5 261.1 152.5 258.4 154.5 256.1 156.5 254.0 158.5 252.2 160.5 250.7 162.5 249.4 164.5 248.4 166.5 247.7 168.5 247.3 170.5 247.1 172.5 247.2 174.5 247.6 176.5 248.3 178.5 249.2 180.5 250.3 182.5 251.8 184.5 253.5 186.5 255.4 188.5 257.6 190.5 260.1 192.5 262.8 194.5 265.8 196.5 269.0 198.5 272.5 200.5 276.2 202.5 280.1 204.5 284.3 206.5 288.6 208.5 293.1 210.5 297.7 212.5 302.5 214.5 307.3 216.5 312.2 218.5 317.1 220.5 322.0 222.5 326.9 224.5 331.8 226.5 336.6 228.5 341.3 230.5 345.9 232.5 350.3 234.5 354.6 236.5 358.7 238.5 362.6 240.5 366.3 242.5 369.6 244.5 372.7 246.5 375.5 248.5 377.9 250.5 380.1 252.5 382.0 254.5 383.7 256.5 385.1 258.5 386.3 260.5 387.4 262.5 388.2 264.5 388.9 266.5 389.4 268.5 389.8 270.5 390.0 272.5 390.2 274.5 390.1 276.5 390.0 278.5 389.7 280.5 389.4 282.5 388.9 284.5 388.2 286.5 387.5 288.5 386.7 290.5 385.7 292.5 384.7 294.5 383.6 296.5 382.3 298.5 381.0 300.5 379.6 302.5 378.1 304.5 376.5 306.5 374.8 308.5 373.0 310.5 371.2 312.5 369.3 314.5 367.4 316.5 365.3 318.5 363.2 320.5 361.1 322.5 358.9 324.5 356.6 326.5 354.1 328.5 351.6 330.5 349.0 332.5 346.2 334.5 343.2 336.5 340.0 338.5 336.7 340.5 333.1 342.5 329.3 344.5 325.4 346.5 321.2 348.5 317.0 350.5 312.6 352.5 308.1 354.5 303.6 356.5 299.1 358.5 294.6 360.5 290.1 362.5 285.8 364.5 281.6 366.5 277.6 368.5 273.8 370.5 270.3 372.5 267.0 374.5 264.0 376.5 261.2 378.5 258.6 380.5 256.3 382.5 254.3 384.5 252.5 386.5 250.9 388.5 249.6 390.5 248.6 392.5 247.7 394.5 247.2 396.5 246.8 398.5 246.7 400.5 246.9 402.5 247.2 404.5 247.9 406.5 248.7 408.5 249.8 410.5 251.2 412.5 252.7 414.5 254.5 416.5 256.6 418.5 258.9 420.5 261.4 422.5 264.1 424.5 267.1 426.5 270.3 428.5 273.6 430.5 277.1 432.5 280.8 434.5 284.7 436.5 288.6 438.5 292.7 440.5 296.9 442.5 301.2 444.5 305.6 446.5 310.0 448.5 314.4 450.5 318.9 452.5 323.3 454.5 327.7 456.5 332.0 458.5 336.3 460.5 340.5 462.5 344.5 464.5 348.4 466.5 352.1 468.5 355.6 470.5 359.0 472.5 362.3 474.5 365.3 476.5 368.2 478.5 370.9 480.5 373.4 482.5 375.6 484.5 377.7 486.5 379.6 488.5 381.2 490.5 382.7 492.5 384.0 494.5 385.0 496.5 385.9 498.5 386.5 500.5 387.0 502.5 387.3 504.5 387.4 506.5 387.3 508.5 387.0 510.5 386.6 512.5 385.9 514.5 385.1 516.5 384.1 518.5 382.9 520.5 381.6 522.5 380.1 524.5 378.4 526.5 376.6 528.5 374.6 530.5 372.4 532.5 370.1 534.5 367.6 536.5 365.0 538.5 362.3 540.5 359.3 542.5 356.3 544.5 353.0" fill="none" stroke="#A2142F" stroke-width="2.45" stroke-linejoin="round"/>
</g>
<rect x="94.0" y="11.7" width="535.2" height="481.7" fill="none" stroke="#333333" stroke-width="0.9"/>
<text x="94.0" y="523.5" font-size="23.2" text-anchor="middle">0</text>
<text x="183.2" y="523.5" font-size="23.2" text-anchor="middle">20</text>
<text x="272.4" y="523.5" font-size="23.2" text-anchor="middle">40</text>
<text x="361.6" y="523.5" font-size="23.2" text-anchor="middle">60</text>
<text x="450.8" y="523.5" font-size="23.2" text-anchor="middle">80</text>
<text x="540.0" y="523.5" font-size="23.2" text-anchor="middle">100</text>
<text x="629.2" y="523.5" font-size="23.2" text-anchor="middle">120</text>
<text x="86.0" y="20.0" font-size="23.2" text-anchor="end">0.12</text>
<text x="86.0" y="80.2" font-size="23.2" text-anchor="end">0.1</text>
<text x="86.0" y="140.4" font-size="23.2" text-anchor="end">0.08</text>
<text x="86.0" y="200.6" font-size="23.2" text-anchor="end">0.06</text>
<text x="86.0" y="260.8" font-size="23.2" text-anchor="end">0.04</text>
<text x="86.0" y="321.1" font-size="23.2" text-anchor="end">0.02</text>
<text x="86.0" y="381.3" font-size="23.2" text-anchor="end">0</text>
<text x="86.0" y="441.5" font-size="23.2" text-anchor="end">-0.02</text>
<text x="86.0" y="501.7" font-size="23.2" text-anchor="end">-0.04</text>
<path d="M94.0 493.4V488.1M94.0 11.7V17.0M183.2 493.4V488.1M183.2 11.7V17.0M272.4 493.4V488.1M272.4 11.7V17.0M361.6 493.4V488.1M361.6 11.7V17.0M450.8 493.4V488.1M450.8 11.7V17.0M540.0 493.4V488.1M540.0 11.7V17.0M629.2 493.4V488.1M629.2 11.7V17.0M94.0 11.7H99.3M629.2 11.7H623.9M94.0 71.9H99.3M629.2 71.9H623.9M94.0 132.1H99.3M629.2 132.1H623.9M94.0 192.3H99.3M629.2 192.3H623.9M94.0 252.5H99.3M629.2 252.5H623.9M94.0 312.8H99.3M629.2 312.8H623.9M94.0 373.0H99.3M629.2 373.0H623.9M94.0 433.2H99.3M629.2 433.2H623.9M94.0 493.4H99.3M629.2 493.4H623.9" stroke="#333333" stroke-width="0.9" fill="none"/>
<text x="361.6" y="554.3" font-size="25.7" text-anchor="middle">% Stride Cycle</text>
<text transform="translate(22.8 252.5) rotate(-90)" font-size="25.7" text-anchor="middle">L5/S1 Flexion-extension moment</text>
<rect x="508.9" y="22.4" width="108.5" height="57.2" fill="#fff" stroke="#333333" stroke-width="1"/>
<path d="M514.6 38H558.2" stroke="#0072BD" stroke-width="2.6"/>
<path d="M514.6 63.7H558.2" stroke="#A2142F" stroke-width="2.6"/>
<text x="561.9" y="44.9" font-size="21.2">IMU</text>
<text x="562.5" y="71.4" font-size="20.9">OMC</text>
<text x="494.9" y="115.3" font-size="20.3">RMSE: 0.01</text>
<text x="494.9" y="139.4" font-size="20.3">NRMSE: 0.12</text>
<text x="494.9" y="163.5" font-size="20.3">R: 0.99</text>
<defs><clipPath id="c1"><rect x="773.2" y="11.7" width="534.1" height="481.7"/></clipPath></defs>
<g clip-path="url(#c1)">
<path d="M777.7 233.5L779.7 233.7 781.7 233.7 783.7 233.3 785.7 232.8 787.7 232.0 789.7 231.0 791.7 229.8 793.7 228.4 795.7 226.9 797.7 225.3 799.8 223.5 801.8 221.6 803.8 219.7 805.8 217.6 807.8 215.5 809.8 213.4 811.8 211.2 813.8 209.1 815.8 206.9 817.8 204.8 819.8 202.7 821.8 200.7 823.8 198.8 825.8 196.9 827.8 195.1 829.8 193.5 831.8 191.9 833.8 190.4 835.8 189.0 837.8 187.7 839.9 186.5 841.9 185.3 843.9 184.2 845.9 183.2 847.9 182.3 849.9 181.5 851.9 180.7 853.9 180.0 855.9 179.3 857.9 178.8 859.9 178.2 861.9 177.8 863.9 177.4 865.9 177.1 867.9 176.8 869.9 176.5 871.9 176.4 873.9 176.2 875.9 176.2 877.9 176.1 880.0 176.1 882.0 176.2 884.0 176.3 886.0 176.4 888.0 176.5 890.0 176.7 892.0 177.0 894.0 177.2 896.0 177.5 898.0 177.8 900.0 178.1 902.0 178.5 904.0 178.9 906.0 179.3 908.0 179.7 910.0 180.1 912.0 180.5 914.0 180.9 916.0 181.2 918.0 181.4 920.1 181.5 922.1 181.4 924.1 181.1 926.1 180.5 928.1 179.6 930.1 178.4 932.1 176.8 934.1 174.8 936.1 172.3 938.1 169.5 940.1 166.2 942.1 162.7 944.1 158.9 946.1 154.9 948.1 150.8 950.1 146.6 952.1 142.4 954.1 138.3 956.1 134.1 958.1 130.1 960.2 126.1 962.2 122.2 964.2 118.3 966.2 114.6 968.2 111.0 970.2 107.6 972.2 104.2 974.2 101.1 976.2 98.1 978.2 95.2 980.2 92.6 982.2 90.1 984.2 87.9 986.2 85.9 988.2 84.1 990.2 82.8 992.2 81.9 994.2 81.5 996.2 81.6 998.2 82.4 1000.2 83.8 1002.3 85.6 1004.3 88.0 1006.3 90.7 1008.3 93.8 1010.3 97.2 1012.3 100.9 1014.3 104.7 1016.3 108.6 1018.3 112.6 1020.3 116.6 1022.3 120.6 1024.3 124.5 1026.3 128.2 1028.3 131.8 1030.3 135.0 1032.3 138.1 1034.3 141.0 1036.3 143.8 1038.3 146.5 1040.3 149.1 1042.4 151.8 1044.4 154.4 1046.4 157.1 1048.4 159.9 1050.4 162.8 1052.4 165.9 1054.4 169.2 1056.4 172.8 1058.4 176.6 1060.4 180.8 1062.4 185.2 1064.4 189.9 1066.4 194.7 1068.4 199.6 1070.4 204.4 1072.4 209.1 1074.4 213.5 1076.4 217.6 1078.4 221.4 1080.4 224.6 1082.5 227.2 1084.5 229.2 1086.5 230.7 1088.5 231.7 1090.5 232.5 1092.5 233.0 1094.5 233.4 1096.5 233.8 1098.5 234.2 1100.5 234.6 1102.5 235.0 1104.5 235.3 1106.5 235.7 1108.5 236.0 1110.5 236.3 1112.5 236.6 1114.5 236.9 1116.5 237.2 1118.5 237.5 1120.5 237.7 1122.6 238.0 1124.6 238.2 1126.6 238.4 1128.6 238.6 1130.6 238.8 1132.6 239.0 1134.6 239.2 1136.6 239.4 1138.6 239.5 1140.6 239.7 1142.6 239.8 1144.6 239.9 1146.6 240.0 1148.6 240.1 1150.6 240.2 1152.6 240.2 1154.6 240.3 1156.6 240.3 1158.6 240.4 1160.6 240.4 1162.7 240.4 1164.7 240.4 1166.7 240.4 1168.7 240.3 1170.7 240.3 1172.7 240.2 1174.7 240.2 1176.7 240.1 1178.7 240.0 1180.7 239.9 1182.7 239.8 1184.7 239.6 1186.7 239.5 1188.7 239.3 1190.7 239.2 1192.7 239.0 1194.7 238.8 1196.7 238.6 1198.7 238.4 1200.7 238.1 1202.8 237.9 1204.8 237.6 1206.8 237.4 1208.8 237.1 1210.8 236.8 1212.8 236.5 1214.8 236.1 1216.8 235.8 1218.8 235.5 1220.8 235.1 1222.8 234.7L1222.8 413.4 1220.8 411.0 1218.8 408.4 1216.8 405.7 1214.8 402.9 1212.8 400.0 1210.8 397.0 1208.8 394.0 1206.8 390.9 1204.8 387.8 1202.8 384.7 1200.7 381.6 1198.7 378.5 1196.7 375.4 1194.7 372.4 1192.7 369.4 1190.7 366.5 1188.7 363.8 1186.7 361.1 1184.7 358.5 1182.7 356.1 1180.7 353.8 1178.7 351.7 1176.7 349.7 1174.7 348.0 1172.7 346.4 1170.7 345.1 1168.7 344.0 1166.7 343.1 1164.7 342.4 1162.7 341.9 1160.6 341.5 1158.6 341.2 1156.6 341.0 1154.6 341.0 1152.6 341.0 1150.6 341.2 1148.6 341.3 1146.6 341.5 1144.6 341.8 1142.6 342.1 1140.6 342.4 1138.6 342.8 1136.6 343.3 1134.6 343.8 1132.6 344.5 1130.6 345.2 1128.6 346.1 1126.6 347.1 1124.6 348.3 1122.6 349.6 1120.5 351.1 1118.5 352.7 1116.5 354.5 1114.5 356.4 1112.5 358.2 1110.5 360.1 1108.5 361.9 1106.5 363.5 1104.5 365.0 1102.5 366.2 1100.5 367.3 1098.5 368.1 1096.5 368.8 1094.5 369.3 1092.5 369.5 1090.5 369.6 1088.5 369.5 1086.5 369.2 1084.5 368.7 1082.5 368.0 1080.4 367.2 1078.4 366.1 1076.4 364.9 1074.4 363.5 1072.4 361.9 1070.4 360.2 1068.4 358.3 1066.4 356.2 1064.4 353.9 1062.4 351.5 1060.4 348.9 1058.4 346.2 1056.4 343.3 1054.4 340.3 1052.4 337.2 1050.4 333.9 1048.4 330.5 1046.4 327.1 1044.4 323.6 1042.4 320.1 1040.3 316.6 1038.3 313.0 1036.3 309.5 1034.3 306.0 1032.3 302.6 1030.3 299.3 1028.3 296.0 1026.3 292.9 1024.3 289.9 1022.3 287.1 1020.3 284.4 1018.3 282.0 1016.3 279.7 1014.3 277.7 1012.3 275.8 1010.3 274.1 1008.3 272.6 1006.3 271.3 1004.3 270.1 1002.3 269.1 1000.2 268.2 998.2 267.5 996.2 266.9 994.2 266.4 992.2 266.0 990.2 265.7 988.2 265.5 986.2 265.4 984.2 265.3 982.2 265.4 980.2 265.4 978.2 265.6 976.2 265.7 974.2 266.0 972.2 266.2 970.2 266.4 968.2 266.7 966.2 266.9 964.2 267.2 962.2 267.4 960.2 267.6 958.1 267.8 956.1 267.9 954.1 268.0 952.1 268.0 950.1 268.1 948.1 268.1 946.1 268.0 944.1 268.0 942.1 267.9 940.1 267.8 938.1 267.7 936.1 267.6 934.1 267.5 932.1 267.4 930.1 267.2 928.1 267.1 926.1 266.9 924.1 266.8 922.1 266.7 920.1 266.6 918.0 266.4 916.0 266.3 914.0 266.3 912.0 266.2 910.0 266.1 908.0 266.1 906.0 266.1 904.0 266.1 902.0 266.2 900.0 266.2 898.0 266.4 896.0 266.5 894.0 266.7 892.0 266.9 890.0 267.2 888.0 267.6 886.0 267.9 884.0 268.3 882.0 268.8 880.0 269.4 877.9 270.0 875.9 270.7 873.9 271.4 871.9 272.3 869.9 273.2 867.9 274.2 865.9 275.4 863.9 276.6 861.9 278.0 859.9 279.5 857.9 281.1 855.9 282.8 853.9 284.7 851.9 286.8 849.9 288.9 847.9 291.3 845.9 293.8 843.9 296.4 841.9 299.3 839.9 302.3 837.8 305.5 835.8 308.9 833.8 312.5 831.8 316.2 829.8 320.1 827.8 324.0 825.8 328.0 823.8 332.1 821.8 336.1 819.8 340.2 817.8 344.2 815.8 348.1 813.8 351.9 811.8 355.6 809.8 359.1 807.8 362.4 805.8 365.5 803.8 368.4 801.8 371.1 799.8 373.7 797.7 376.2 795.7 378.5 793.7 380.8 791.7 383.0 789.7 385.3 787.7 387.5 785.7 389.8 783.7 392.2 781.7 394.6 779.7 397.2 777.7 399.9Z" fill="#0072BD" fill-opacity="0.2" stroke="none"/>
<path d="M777.7 269.4L779.7 269.6 781.7 269.5 783.7 269.1 785.7 268.4 787.7 267.5 789.7 266.2 791.7 264.6 793.7 262.7 795.7 260.5 797.7 258.0 799.8 255.1 801.8 251.9 803.8 248.2 805.8 244.3 807.8 239.9 809.8 235.2 811.8 230.0 813.8 224.5 815.8 218.5 817.8 212.2 819.8 205.5 821.8 198.6 823.8 191.5 825.8 184.4 827.8 177.3 829.8 170.4 831.8 163.7 833.8 157.3 835.8 151.3 837.8 145.9 839.9 141.0 841.9 136.9 843.9 133.4 845.9 130.8 847.9 128.8 849.9 127.6 851.9 127.1 853.9 127.3 855.9 128.1 857.9 129.7 859.9 131.9 861.9 134.7 863.9 138.2 865.9 142.2 867.9 146.9 869.9 152.0 871.9 157.3 873.9 162.7 875.9 167.8 877.9 172.7 880.0 177.2 882.0 181.5 884.0 185.4 886.0 189.0 888.0 192.4 890.0 195.5 892.0 198.3 894.0 200.9 896.0 203.3 898.0 205.4 900.0 207.4 902.0 209.2 904.0 210.8 906.0 212.2 908.0 213.5 910.0 214.7 912.0 215.7 914.0 216.7 916.0 217.5 918.0 218.3 920.1 218.9 922.1 219.6 924.1 220.2 926.1 220.7 928.1 221.2 930.1 221.7 932.1 222.1 934.1 222.5 936.1 222.8 938.1 223.1 940.1 223.4 942.1 223.6 944.1 223.8 946.1 224.0 948.1 224.1 950.1 224.2 952.1 224.3 954.1 224.3 956.1 224.3 958.1 224.2 960.2 224.2 962.2 224.1 964.2 223.9 966.2 223.8 968.2 223.6 970.2 223.3 972.2 223.1 974.2 222.8 976.2 222.5 978.2 222.2 980.2 221.8 982.2 221.4 984.2 221.0 986.2 220.6 988.2 220.1 990.2 219.6 992.2 219.0 994.2 218.4 996.2 217.7 998.2 216.9 1000.2 216.0 1002.3 215.0 1004.3 213.9 1006.3 212.6 1008.3 211.2 1010.3 209.7 1012.3 208.0 1014.3 206.1 1016.3 204.1 1018.3 201.8 1020.3 199.4 1022.3 196.7 1024.3 193.9 1026.3 191.0 1028.3 187.9 1030.3 184.7 1032.3 181.4 1034.3 178.0 1036.3 174.6 1038.3 171.1 1040.3 167.5 1042.4 164.0 1044.4 160.5 1046.4 156.9 1048.4 153.5 1050.4 150.0 1052.4 146.7 1054.4 143.4 1056.4 140.3 1058.4 137.3 1060.4 134.4 1062.4 131.8 1064.4 129.3 1066.4 127.1 1068.4 125.1 1070.4 123.5 1072.4 122.1 1074.4 121.1 1076.4 120.4 1078.4 120.1 1080.4 120.2 1082.5 120.7 1084.5 121.6 1086.5 123.0 1088.5 124.8 1090.5 127.1 1092.5 129.9 1094.5 133.2 1096.5 136.9 1098.5 140.9 1100.5 145.2 1102.5 149.6 1104.5 154.2 1106.5 158.7 1108.5 163.2 1110.5 167.6 1112.5 171.7 1114.5 175.6 1116.5 179.2 1118.5 182.4 1120.5 185.4 1122.6 188.2 1124.6 190.7 1126.6 193.0 1128.6 195.2 1130.6 197.1 1132.6 198.9 1134.6 200.6 1136.6 202.1 1138.6 203.6 1140.6 204.9 1142.6 206.2 1144.6 207.5 1146.6 208.8 1148.6 210.0 1150.6 211.2 1152.6 212.5 1154.6 213.8 1156.6 215.1 1158.6 216.5 1160.6 217.9 1162.7 219.3 1164.7 220.7 1166.7 222.1 1168.7 223.6 1170.7 225.0 1172.7 226.5 1174.7 228.0 1176.7 229.6 1178.7 231.1 1180.7 232.7 1182.7 234.2 1184.7 235.8 1186.7 237.4 1188.7 239.0 1190.7 240.6 1192.7 242.2 1194.7 243.9 1196.7 245.5 1198.7 247.1 1200.7 248.8 1202.8 250.4 1204.8 252.1 1206.8 253.7 1208.8 255.4 1210.8 257.1 1212.8 258.7 1214.8 260.4 1216.8 262.0 1218.8 263.7 1220.8 265.3 1222.8 267.0L1222.8 314.2 1220.8 313.3 1218.8 312.5 1216.8 311.8 1214.8 311.1 1212.8 310.4 1210.8 309.9 1208.8 309.3 1206.8 308.8 1204.8 308.4 1202.8 308.0 1200.7 307.6 1198.7 307.2 1196.7 306.9 1194.7 306.6 1192.7 306.3 1190.7 306.0 1188.7 305.7 1186.7 305.4 1184.7 305.1 1182.7 304.8 1180.7 304.4 1178.7 304.1 1176.7 303.7 1174.7 303.3 1172.7 302.9 1170.7 302.4 1168.7 301.9 1166.7 301.3 1164.7 300.7 1162.7 300.0 1160.6 299.3 1158.6 298.5 1156.6 297.6 1154.6 296.7 1152.6 295.7 1150.6 294.6 1148.6 293.5 1146.6 292.3 1144.6 291.0 1142.6 289.7 1140.6 288.4 1138.6 287.0 1136.6 285.5 1134.6 284.0 1132.6 282.5 1130.6 280.9 1128.6 279.3 1126.6 277.7 1124.6 276.0 1122.6 274.3 1120.5 272.6 1118.5 270.9 1116.5 269.1 1114.5 267.3 1112.5 265.5 1110.5 263.7 1108.5 261.9 1106.5 260.1 1104.5 258.3 1102.5 256.4 1100.5 254.6 1098.5 252.8 1096.5 250.9 1094.5 249.1 1092.5 247.3 1090.5 245.6 1088.5 244.2 1086.5 243.0 1084.5 242.3 1082.5 242.2 1080.4 242.7 1078.4 244.0 1076.4 246.1 1074.4 249.2 1072.4 253.5 1070.4 258.8 1068.4 264.9 1066.4 271.5 1064.4 278.5 1062.4 285.4 1060.4 292.0 1058.4 298.3 1056.4 304.0 1054.4 309.4 1052.4 314.3 1050.4 318.9 1048.4 323.1 1046.4 327.0 1044.4 330.6 1042.4 333.9 1040.3 336.8 1038.3 339.5 1036.3 341.8 1034.3 343.7 1032.3 345.3 1030.3 346.6 1028.3 347.4 1026.3 347.9 1024.3 348.0 1022.3 347.8 1020.3 347.1 1018.3 346.0 1016.3 344.7 1014.3 343.1 1012.3 341.2 1010.3 339.2 1008.3 337.1 1006.3 334.9 1004.3 332.7 1002.3 330.5 1000.2 328.4 998.2 326.5 996.2 324.7 994.2 323.1 992.2 321.7 990.2 320.5 988.2 319.4 986.2 318.6 984.2 317.9 982.2 317.3 980.2 316.9 978.2 316.7 976.2 316.5 974.2 316.5 972.2 316.6 970.2 316.8 968.2 317.1 966.2 317.4 964.2 317.9 962.2 318.4 960.2 319.0 958.1 319.6 956.1 320.3 954.1 321.0 952.1 321.7 950.1 322.5 948.1 323.2 946.1 324.0 944.1 324.7 942.1 325.5 940.1 326.2 938.1 326.9 936.1 327.5 934.1 328.1 932.1 328.6 930.1 329.1 928.1 329.5 926.1 329.8 924.1 330.0 922.1 330.2 920.1 330.3 918.0 330.3 916.0 330.1 914.0 329.8 912.0 329.0 910.0 327.6 908.0 325.5 906.0 322.4 904.0 318.3 902.0 313.0 900.0 306.3 898.0 298.5 896.0 290.7 894.0 283.7 892.0 278.3 890.0 275.0 888.0 273.3 886.0 273.0 884.0 273.6 882.0 275.2 880.0 277.5 877.9 280.5 875.9 284.2 873.9 288.3 871.9 293.0 869.9 298.0 867.9 303.2 865.9 308.7 863.9 314.2 861.9 319.8 859.9 325.3 857.9 330.6 855.9 335.7 853.9 340.5 851.9 344.8 849.9 348.6 847.9 351.9 845.9 354.5 843.9 356.4 841.9 357.8 839.9 358.6 837.8 358.9 835.8 358.8 833.8 358.3 831.8 357.5 829.8 356.4 827.8 355.0 825.8 353.5 823.8 351.9 821.8 350.1 819.8 348.4 817.8 346.6 815.8 345.0 813.8 343.4 811.8 342.0 809.8 340.6 807.8 339.3 805.8 338.1 803.8 336.9 801.8 335.7 799.8 334.5 797.7 333.3 795.7 332.1 793.7 330.8 791.7 329.5 789.7 328.0 787.7 326.4 785.7 324.8 783.7 322.9 781.7 320.9 779.7 318.7 777.7 316.4Z" fill="#A2142F" fill-opacity="0.2" stroke="none"/>
<path d="M777.7 344.9L779.7 345.9 781.7 346.8 783.7 347.5 785.7 348.0 787.7 348.3 789.7 348.5 791.7 348.4 793.7 348.2 795.7 347.8 797.7 347.1 799.8 346.3 801.8 345.2 803.8 343.9 805.8 342.4 807.8 340.7 809.8 338.8 811.8 336.6 813.8 334.2 815.8 331.5 817.8 328.6 819.8 325.5 821.8 322.1 823.8 318.6 825.8 315.0 827.8 311.3 829.8 307.5 831.8 303.7 833.8 300.0 835.8 296.3 837.8 292.8 839.9 289.3 841.9 286.1 843.9 283.0 845.9 280.1 847.9 277.4 849.9 274.9 851.9 272.6 853.9 270.4 855.9 268.5 857.9 266.8 859.9 265.2 861.9 263.9 863.9 262.8 865.9 261.8 867.9 261.0 869.9 260.4 871.9 259.9 873.9 259.5 875.9 259.2 877.9 259.1 880.0 259.0 882.0 258.9 884.0 259.0 886.0 259.0 888.0 259.1 890.0 259.2 892.0 259.2 894.0 259.3 896.0 259.3 898.0 259.2 900.0 259.1 902.0 258.9 904.0 258.6 906.0 258.2 908.0 257.6 910.0 256.9 912.0 256.1 914.0 255.1 916.0 253.9 918.0 252.5 920.1 250.9 922.1 249.0 924.1 246.9 926.1 244.6 928.1 241.9 930.1 239.0 932.1 235.8 934.1 232.2 936.1 228.2 938.1 223.9 940.1 219.1 942.1 213.9 944.1 208.3 946.1 202.1 948.1 195.4 950.1 188.2 952.1 180.5 954.1 172.3 956.1 163.8 958.1 155.1 960.2 146.4 962.2 137.8 964.2 129.3 966.2 121.3 968.2 113.7 970.2 106.7 972.2 100.4 974.2 95.0 976.2 90.3 978.2 86.5 980.2 83.4 982.2 81.1 984.2 79.6 986.2 78.8 988.2 78.7 990.2 79.3 992.2 80.7 994.2 82.8 996.2 85.5 998.2 88.9 1000.2 93.0 1002.3 97.7 1004.3 103.1 1006.3 109.0 1008.3 115.6 1010.3 122.8 1012.3 130.4 1014.3 138.5 1016.3 146.9 1018.3 155.5 1020.3 164.3 1022.3 173.2 1024.3 182.1 1026.3 191.1 1028.3 200.0 1030.3 209.0 1032.3 217.9 1034.3 226.9 1036.3 235.9 1038.3 244.9 1040.3 253.8 1042.4 262.7 1044.4 271.5 1046.4 280.3 1048.4 288.9 1050.4 297.4 1052.4 305.8 1054.4 314.1 1056.4 322.2 1058.4 330.1 1060.4 337.7 1062.4 345.0 1064.4 351.9 1066.4 358.4 1068.4 364.4 1070.4 369.8 1072.4 374.6 1074.4 378.7 1076.4 382.1 1078.4 384.7 1080.4 386.4 1082.5 387.2 1084.5 387.0 1086.5 385.9 1088.5 384.1 1090.5 381.6 1092.5 378.5 1094.5 374.8 1096.5 370.8 1098.5 366.4 1100.5 361.8 1102.5 357.0 1104.5 352.1 1106.5 347.2 1108.5 342.3 1110.5 337.4 1112.5 332.7 1114.5 328.2 1116.5 323.9 1118.5 320.0 1120.5 316.5 1122.6 313.4 1124.6 310.7 1126.6 308.4 1128.6 306.4 1130.6 304.6 1132.6 303.1 1134.6 301.9 1136.6 300.7 1138.6 299.8 1140.6 298.8 1142.6 298.0 1144.6 297.2 1146.6 296.5 1148.6 295.8 1150.6 295.2 1152.6 294.6 1154.6 294.2 1156.6 293.7 1158.6 293.3 1160.6 293.0 1162.7 292.8 1164.7 292.6 1166.7 292.5 1168.7 292.4 1170.7 292.4 1172.7 292.5 1174.7 292.6 1176.7 292.8 1178.7 293.1 1180.7 293.4 1182.7 293.8 1184.7 294.2 1186.7 294.7 1188.7 295.3 1190.7 296.0 1192.7 296.7 1194.7 297.5 1196.7 298.4 1198.7 299.3 1200.7 300.3 1202.8 301.4 1204.8 302.5 1206.8 303.7 1208.8 305.0 1210.8 306.4 1212.8 307.8 1214.8 309.3 1216.8 310.9 1218.8 312.5 1220.8 314.2 1222.8 316.0" fill="none" stroke="#0072BD" stroke-width="1.05" stroke-opacity="0.72"/>
<path d="M777.7 313.1L779.7 311.6 781.7 310.0 783.7 308.1 785.7 305.9 787.7 303.6 789.7 301.1 791.7 298.4 793.7 295.6 795.7 292.6 797.7 289.5 799.8 286.2 801.8 282.8 803.8 279.4 805.8 275.8 807.8 272.2 809.8 268.5 811.8 264.7 813.8 261.0 815.8 257.2 817.8 253.3 819.8 249.5 821.8 245.7 823.8 241.9 825.8 238.2 827.8 234.5 829.8 230.8 831.8 227.2 833.8 223.8 835.8 220.4 837.8 217.1 839.9 214.0 841.9 210.9 843.9 208.0 845.9 205.3 847.9 202.6 849.9 200.1 851.9 197.8 853.9 195.5 855.9 193.4 857.9 191.4 859.9 189.5 861.9 187.8 863.9 186.1 865.9 184.6 867.9 183.3 869.9 182.0 871.9 180.9 873.9 179.9 875.9 179.0 877.9 178.3 880.0 177.7 882.0 177.2 884.0 176.8 886.0 176.4 888.0 176.2 890.0 176.0 892.0 175.9 894.0 175.7 896.0 175.6 898.0 175.5 900.0 175.3 902.0 175.1 904.0 174.9 906.0 174.6 908.0 174.2 910.0 173.7 912.0 173.3 914.0 172.7 916.0 172.1 918.0 171.5 920.1 170.7 922.1 170.0 924.1 169.1 926.1 168.3 928.1 167.3 930.1 166.3 932.1 165.3 934.1 164.2 936.1 163.0 938.1 161.8 940.1 160.5 942.1 159.2 944.1 157.8 946.1 156.3 948.1 154.9 950.1 153.4 952.1 151.9 954.1 150.5 956.1 149.1 958.1 147.7 960.2 146.5 962.2 145.4 964.2 144.5 966.2 143.6 968.2 143.0 970.2 142.6 972.2 142.4 974.2 142.4 976.2 142.7 978.2 143.2 980.2 143.9 982.2 144.8 984.2 146.0 986.2 147.4 988.2 149.0 990.2 150.8 992.2 152.8 994.2 155.0 996.2 157.5 998.2 160.1 1000.2 163.0 1002.3 166.0 1004.3 169.2 1006.3 172.6 1008.3 176.2 1010.3 180.0 1012.3 183.9 1014.3 187.9 1016.3 192.1 1018.3 196.3 1020.3 200.7 1022.3 205.3 1024.3 209.9 1026.3 214.5 1028.3 219.3 1030.3 224.1 1032.3 229.0 1034.3 234.0 1036.3 238.9 1038.3 243.9 1040.3 249.0 1042.4 254.0 1044.4 259.1 1046.4 264.1 1048.4 269.1 1050.4 274.0 1052.4 278.8 1054.4 283.5 1056.4 287.9 1058.4 292.2 1060.4 296.2 1062.4 299.9 1064.4 303.3 1066.4 306.2 1068.4 308.8 1070.4 311.0 1072.4 312.9 1074.4 314.4 1076.4 315.5 1078.4 316.3 1080.4 316.9 1082.5 317.1 1084.5 317.1 1086.5 316.9 1088.5 316.4 1090.5 315.7 1092.5 314.8 1094.5 313.8 1096.5 312.6 1098.5 311.2 1100.5 309.8 1102.5 308.2 1104.5 306.6 1106.5 304.9 1108.5 303.1 1110.5 301.4 1112.5 299.6 1114.5 297.8 1116.5 296.1 1118.5 294.4 1120.5 292.7 1122.6 291.2 1124.6 289.7 1126.6 288.3 1128.6 287.1 1130.6 286.1 1132.6 285.2 1134.6 284.5 1136.6 284.2 1138.6 284.1 1140.6 284.3 1142.6 285.0 1144.6 286.1 1146.6 287.6 1148.6 289.6 1150.6 291.8 1152.6 294.5 1154.6 297.4 1156.6 300.7 1158.6 304.1 1160.6 307.8 1162.7 311.7 1164.7 315.7 1166.7 319.8 1168.7 324.1 1170.7 328.3 1172.7 332.7 1174.7 337.0 1176.7 341.3 1178.7 345.5 1180.7 349.7 1182.7 353.9 1184.7 358.0 1186.7 362.0 1188.7 365.9 1190.7 369.7 1192.7 373.5 1194.7 377.1 1196.7 380.6 1198.7 384.0 1200.7 387.2 1202.8 390.3 1204.8 393.2 1206.8 395.9 1208.8 398.5 1210.8 400.8 1212.8 402.9 1214.8 404.8 1216.8 406.4 1218.8 407.8 1220.8 408.9 1222.8 409.7" fill="none" stroke="#0072BD" stroke-width="1.05" stroke-opacity="0.72"/>
<path d="M777.7 377.9L779.7 375.9 781.7 373.5 783.7 370.8 785.7 367.7 787.7 364.4 789.7 360.9 791.7 357.1 793.7 353.1 795.7 348.9 797.7 344.6 799.8 340.2 801.8 335.7 803.8 331.2 805.8 326.5 807.8 321.9 809.8 317.3 811.8 312.8 813.8 308.3 815.8 303.9 817.8 299.6 819.8 295.5 821.8 291.5 823.8 287.6 825.8 283.9 827.8 280.4 829.8 276.9 831.8 273.7 833.8 270.5 835.8 267.6 837.8 264.7 839.9 262.0 841.9 259.4 843.9 257.0 845.9 254.7 847.9 252.6 849.9 250.6 851.9 248.7 853.9 247.0 855.9 245.4 857.9 243.9 859.9 242.6 861.9 241.4 863.9 240.3 865.9 239.4 867.9 238.6 869.9 237.9 871.9 237.2 873.9 236.7 875.9 236.2 877.9 235.8 880.0 235.5 882.0 235.2 884.0 235.0 886.0 234.8 888.0 234.6 890.0 234.5 892.0 234.4 894.0 234.2 896.0 234.1 898.0 234.0 900.0 233.8 902.0 233.6 904.0 233.4 906.0 233.1 908.0 232.8 910.0 232.4 912.0 231.9 914.0 231.4 916.0 230.8 918.0 230.1 920.1 229.3 922.1 228.3 924.1 227.3 926.1 226.1 928.1 224.8 930.1 223.4 932.1 221.8 934.1 220.0 936.1 218.1 938.1 216.0 940.1 213.7 942.1 211.3 944.1 208.8 946.1 206.2 948.1 203.4 950.1 200.6 952.1 197.7 954.1 194.7 956.1 191.6 958.1 188.5 960.2 185.4 962.2 182.3 964.2 179.2 966.2 176.1 968.2 173.0 970.2 169.9 972.2 166.9 974.2 163.9 976.2 161.0 978.2 158.2 980.2 155.5 982.2 152.9 984.2 150.4 986.2 148.0 988.2 145.7 990.2 143.5 992.2 141.4 994.2 139.4 996.2 137.5 998.2 135.7 1000.2 134.0 1002.3 132.4 1004.3 130.9 1006.3 129.5 1008.3 128.2 1010.3 127.0 1012.3 125.9 1014.3 125.0 1016.3 124.1 1018.3 123.4 1020.3 122.7 1022.3 122.2 1024.3 121.8 1026.3 121.4 1028.3 121.2 1030.3 121.2 1032.3 121.2 1034.3 121.3 1036.3 121.6 1038.3 121.9 1040.3 122.4 1042.4 123.0 1044.4 123.7 1046.4 124.5 1048.4 125.5 1050.4 126.5 1052.4 127.7 1054.4 129.0 1056.4 130.4 1058.4 131.9 1060.4 133.4 1062.4 135.1 1064.4 136.9 1066.4 138.8 1068.4 140.8 1070.4 142.8 1072.4 145.0 1074.4 147.2 1076.4 149.6 1078.4 152.0 1080.4 154.4 1082.5 157.0 1084.5 159.6 1086.5 162.3 1088.5 165.1 1090.5 168.0 1092.5 170.9 1094.5 173.9 1096.5 176.9 1098.5 180.0 1100.5 183.1 1102.5 186.2 1104.5 189.4 1106.5 192.5 1108.5 195.7 1110.5 198.9 1112.5 202.0 1114.5 205.1 1116.5 208.3 1118.5 211.3 1120.5 214.3 1122.6 217.3 1124.6 220.2 1126.6 223.1 1128.6 225.8 1130.6 228.5 1132.6 231.1 1134.6 233.5 1136.6 235.9 1138.6 238.2 1140.6 240.3 1142.6 242.3 1144.6 244.2 1146.6 245.9 1148.6 247.6 1150.6 249.2 1152.6 250.8 1154.6 252.3 1156.6 253.8 1158.6 255.2 1160.6 256.6 1162.7 258.1 1164.7 259.5 1166.7 261.0 1168.7 262.6 1170.7 264.2 1172.7 265.8 1174.7 267.6 1176.7 269.3 1178.7 271.2 1180.7 273.1 1182.7 275.1 1184.7 277.2 1186.7 279.3 1188.7 281.6 1190.7 283.8 1192.7 286.2 1194.7 288.6 1196.7 291.1 1198.7 293.7 1200.7 296.3 1202.8 299.0 1204.8 301.8 1206.8 304.7 1208.8 307.6 1210.8 310.6 1212.8 313.7 1214.8 316.8 1216.8 320.0 1218.8 323.4 1220.8 326.7 1222.8 330.2" fill="none" stroke="#0072BD" stroke-width="1.05" stroke-opacity="0.72"/>
<path d="M777.7 411.0L779.7 411.6 781.7 412.0 783.7 412.1 785.7 411.9 787.7 411.4 789.7 410.7 791.7 409.8 793.7 408.6 795.7 407.1 797.7 405.4 799.8 403.5 801.8 401.3 803.8 398.9 805.8 396.2 807.8 393.4 809.8 390.3 811.8 387.0 813.8 383.5 815.8 379.8 817.8 375.9 819.8 371.9 821.8 367.7 823.8 363.3 825.8 358.9 827.8 354.3 829.8 349.6 831.8 344.9 833.8 340.1 835.8 335.2 837.8 330.3 839.9 325.4 841.9 320.5 843.9 315.5 845.9 310.6 847.9 305.8 849.9 301.0 851.9 296.3 853.9 291.6 855.9 287.0 857.9 282.5 859.9 278.2 861.9 273.9 863.9 269.7 865.9 265.7 867.9 261.8 869.9 258.0 871.9 254.3 873.9 250.8 875.9 247.4 877.9 244.2 880.0 241.1 882.0 238.1 884.0 235.3 886.0 232.6 888.0 230.0 890.0 227.5 892.0 225.1 894.0 222.8 896.0 220.6 898.0 218.5 900.0 216.5 902.0 214.6 904.0 212.8 906.0 211.0 908.0 209.3 910.0 207.6 912.0 206.0 914.0 204.5 916.0 203.0 918.0 201.5 920.1 200.1 922.1 198.7 924.1 197.4 926.1 196.0 928.1 194.7 930.1 193.4 932.1 192.2 934.1 190.9 936.1 189.6 938.1 188.3 940.1 187.0 942.1 185.7 944.1 184.3 946.1 183.0 948.1 181.6 950.1 180.1 952.1 178.7 954.1 177.2 956.1 175.6 958.1 174.0 960.2 172.3 962.2 170.6 964.2 168.8 966.2 166.9 968.2 165.1 970.2 163.1 972.2 161.2 974.2 159.2 976.2 157.2 978.2 155.2 980.2 153.2 982.2 151.2 984.2 149.2 986.2 147.3 988.2 145.3 990.2 143.4 992.2 141.5 994.2 139.7 996.2 137.9 998.2 136.3 1000.2 134.7 1002.3 133.4 1004.3 132.2 1006.3 131.3 1008.3 130.7 1010.3 130.3 1012.3 130.3 1014.3 130.6 1016.3 131.4 1018.3 132.5 1020.3 134.0 1022.3 135.9 1024.3 138.1 1026.3 140.7 1028.3 143.7 1030.3 147.1 1032.3 150.8 1034.3 154.8 1036.3 159.2 1038.3 164.0 1040.3 169.1 1042.4 174.6 1044.4 180.4 1046.4 186.5 1048.4 192.7 1050.4 199.2 1052.4 205.7 1054.4 212.3 1056.4 218.8 1058.4 225.2 1060.4 231.5 1062.4 237.6 1064.4 243.5 1066.4 249.1 1068.4 254.5 1070.4 259.7 1072.4 264.6 1074.4 269.2 1076.4 273.6 1078.4 277.7 1080.4 281.5 1082.5 285.0 1084.5 288.1 1086.5 291.0 1088.5 293.6 1090.5 295.8 1092.5 297.6 1094.5 299.1 1096.5 300.2 1098.5 301.0 1100.5 301.4 1102.5 301.4 1104.5 301.0 1106.5 300.4 1108.5 299.4 1110.5 298.2 1112.5 296.7 1114.5 295.0 1116.5 293.2 1118.5 291.3 1120.5 289.2 1122.6 287.1 1124.6 284.9 1126.6 282.7 1128.6 280.5 1130.6 278.3 1132.6 276.3 1134.6 274.3 1136.6 272.5 1138.6 270.9 1140.6 269.5 1142.6 268.3 1144.6 267.3 1146.6 266.7 1148.6 266.3 1150.6 266.4 1152.6 266.8 1154.6 267.6 1156.6 268.9 1158.6 270.7 1160.6 272.8 1162.7 275.4 1164.7 278.4 1166.7 281.6 1168.7 285.1 1170.7 288.9 1172.7 292.9 1174.7 297.0 1176.7 301.2 1178.7 305.5 1180.7 309.8 1182.7 314.1 1184.7 318.4 1186.7 322.6 1188.7 326.8 1190.7 330.8 1192.7 334.9 1194.7 338.8 1196.7 342.7 1198.7 346.4 1200.7 350.2 1202.8 353.8 1204.8 357.3 1206.8 360.8 1208.8 364.1 1210.8 367.4 1212.8 370.5 1214.8 373.6 1216.8 376.5 1218.8 379.4 1220.8 382.1 1222.8 384.7" fill="none" stroke="#0072BD" stroke-width="1.05" stroke-opacity="0.72"/>
<path d="M777.7 184.2L779.7 184.1 781.7 184.1 783.7 184.1 785.7 184.0 787.7 184.0 789.7 184.1 791.7 184.1 793.7 184.2 795.7 184.2 797.7 184.3 799.8 184.5 801.8 184.6 803.8 184.8 805.8 185.0 807.8 185.2 809.8 185.5 811.8 185.8 813.8 186.1 815.8 186.4 817.8 186.8 819.8 187.2 821.8 187.7 823.8 188.2 825.8 188.7 827.8 189.3 829.8 189.9 831.8 190.5 833.8 191.2 835.8 192.0 837.8 192.8 839.9 193.6 841.9 194.5 843.9 195.4 845.9 196.3 847.9 197.4 849.9 198.4 851.9 199.6 853.9 200.7 855.9 202.0 857.9 203.3 859.9 204.6 861.9 206.0 863.9 207.5 865.9 209.0 867.9 210.5 869.9 212.2 871.9 213.8 873.9 215.5 875.9 217.3 877.9 219.1 880.0 220.9 882.0 222.8 884.0 224.7 886.0 226.6 888.0 228.6 890.0 230.5 892.0 232.5 894.0 234.6 896.0 236.6 898.0 238.7 900.0 240.8 902.0 242.9 904.0 245.0 906.0 247.1 908.0 249.2 910.0 251.3 912.0 253.5 914.0 255.6 916.0 257.7 918.0 259.8 920.1 261.9 922.1 264.0 924.1 266.1 926.1 268.2 928.1 270.3 930.1 272.3 932.1 274.3 934.1 276.3 936.1 278.3 938.1 280.2 940.1 282.1 942.1 284.0 944.1 285.8 946.1 287.6 948.1 289.4 950.1 291.1 952.1 292.8 954.1 294.4 956.1 296.0 958.1 297.6 960.2 299.1 962.2 300.6 964.2 302.0 966.2 303.4 968.2 304.8 970.2 306.1 972.2 307.4 974.2 308.6 976.2 309.8 978.2 311.0 980.2 312.1 982.2 313.1 984.2 314.1 986.2 315.1 988.2 316.0 990.2 316.9 992.2 317.7 994.2 318.5 996.2 319.2 998.2 319.9 1000.2 320.5 1002.3 321.1 1004.3 321.6 1006.3 322.1 1008.3 322.5 1010.3 322.9 1012.3 323.2 1014.3 323.5 1016.3 323.7 1018.3 323.9 1020.3 324.0 1022.3 324.1 1024.3 324.1 1026.3 324.0 1028.3 323.9 1030.3 323.8 1032.3 323.5 1034.3 323.3 1036.3 322.9 1038.3 322.6 1040.3 322.1 1042.4 321.6 1044.4 321.1 1046.4 320.4 1048.4 319.8 1050.4 319.0 1052.4 318.2 1054.4 317.4 1056.4 316.4 1058.4 315.5 1060.4 314.4 1062.4 313.3 1064.4 312.1 1066.4 310.9 1068.4 309.6 1070.4 308.3 1072.4 306.8 1074.4 305.3 1076.4 303.8 1078.4 302.2 1080.4 300.5 1082.5 298.8 1084.5 297.1 1086.5 295.3 1088.5 293.5 1090.5 291.6 1092.5 289.7 1094.5 287.8 1096.5 285.8 1098.5 283.8 1100.5 281.8 1102.5 279.8 1104.5 277.7 1106.5 275.7 1108.5 273.6 1110.5 271.5 1112.5 269.4 1114.5 267.3 1116.5 265.2 1118.5 263.2 1120.5 261.1 1122.6 259.0 1124.6 257.0 1126.6 254.9 1128.6 252.9 1130.6 250.9 1132.6 248.9 1134.6 247.0 1136.6 245.0 1138.6 243.2 1140.6 241.3 1142.6 239.5 1144.6 237.7 1146.6 236.0 1148.6 234.3 1150.6 232.7 1152.6 231.1 1154.6 229.6 1156.6 228.2 1158.6 226.8 1160.6 225.4 1162.7 224.2 1164.7 223.0 1166.7 221.8 1168.7 220.7 1170.7 219.6 1172.7 218.6 1174.7 217.6 1176.7 216.6 1178.7 215.7 1180.7 214.7 1182.7 213.8 1184.7 212.8 1186.7 211.9 1188.7 210.9 1190.7 209.9 1192.7 208.9 1194.7 207.8 1196.7 206.8 1198.7 205.6 1200.7 204.4 1202.8 203.2 1204.8 201.9 1206.8 200.5 1208.8 199.1 1210.8 197.6 1212.8 196.0 1214.8 194.2 1216.8 192.4 1218.8 190.5 1220.8 188.5 1222.8 186.4" fill="none" stroke="#0072BD" stroke-width="1.05" stroke-opacity="0.72"/>
<path d="M777.7 330.7L779.7 327.5 781.7 324.4 783.7 321.3 785.7 318.3 787.7 315.3 789.7 312.3 791.7 309.4 793.7 306.5 795.7 303.7 797.7 301.0 799.8 298.3 801.8 295.6 803.8 293.0 805.8 290.4 807.8 287.8 809.8 285.3 811.8 282.9 813.8 280.5 815.8 278.2 817.8 275.8 819.8 273.6 821.8 271.4 823.8 269.2 825.8 267.1 827.8 265.0 829.8 263.0 831.8 261.0 833.8 259.0 835.8 257.1 837.8 255.3 839.9 253.5 841.9 251.7 843.9 250.0 845.9 248.3 847.9 246.7 849.9 245.1 851.9 243.5 853.9 242.1 855.9 240.6 857.9 239.2 859.9 237.8 861.9 236.5 863.9 235.3 865.9 234.0 867.9 232.8 869.9 231.7 871.9 230.6 873.9 229.6 875.9 228.6 877.9 227.6 880.0 226.7 882.0 225.8 884.0 225.0 886.0 224.2 888.0 223.5 890.0 222.8 892.0 222.2 894.0 221.6 896.0 221.0 898.0 220.5 900.0 220.0 902.0 219.6 904.0 219.2 906.0 218.9 908.0 218.6 910.0 218.3 912.0 218.1 914.0 217.9 916.0 217.8 918.0 217.7 920.1 217.7 922.1 217.7 924.1 217.8 926.1 217.9 928.1 218.0 930.1 218.2 932.1 218.4 934.1 218.7 936.1 219.0 938.1 219.4 940.1 219.8 942.1 220.2 944.1 220.7 946.1 221.3 948.1 221.8 950.1 222.5 952.1 223.1 954.1 223.8 956.1 224.6 958.1 225.4 960.2 226.2 962.2 227.1 964.2 228.0 966.2 229.0 968.2 230.0 970.2 231.0 972.2 232.1 974.2 233.3 976.2 234.4 978.2 235.7 980.2 236.9 982.2 238.2 984.2 239.6 986.2 241.0 988.2 242.4 990.2 243.9 992.2 245.4 994.2 247.0 996.2 248.6 998.2 250.2 1000.2 251.9 1002.3 253.7 1004.3 255.4 1006.3 257.2 1008.3 259.1 1010.3 261.0 1012.3 262.9 1014.3 264.9 1016.3 266.9 1018.3 268.9 1020.3 270.9 1022.3 273.0 1024.3 275.1 1026.3 277.2 1028.3 279.3 1030.3 281.4 1032.3 283.5 1034.3 285.6 1036.3 287.8 1038.3 289.9 1040.3 292.0 1042.4 294.1 1044.4 296.2 1046.4 298.3 1048.4 300.4 1050.4 302.4 1052.4 304.4 1054.4 306.5 1056.4 308.4 1058.4 310.4 1060.4 312.3 1062.4 314.2 1064.4 316.0 1066.4 317.8 1068.4 319.6 1070.4 321.3 1072.4 322.9 1074.4 324.5 1076.4 326.1 1078.4 327.6 1080.4 329.0 1082.5 330.4 1084.5 331.7 1086.5 332.9 1088.5 334.1 1090.5 335.3 1092.5 336.4 1094.5 337.5 1096.5 338.5 1098.5 339.5 1100.5 340.5 1102.5 341.4 1104.5 342.4 1106.5 343.3 1108.5 344.2 1110.5 345.1 1112.5 346.0 1114.5 346.9 1116.5 347.8 1118.5 348.6 1120.5 349.5 1122.6 350.4 1124.6 351.2 1126.6 352.0 1128.6 352.7 1130.6 353.4 1132.6 354.0 1134.6 354.5 1136.6 355.0 1138.6 355.4 1140.6 355.6 1142.6 355.8 1144.6 355.8 1146.6 355.8 1148.6 355.6 1150.6 355.3 1152.6 354.9 1154.6 354.5 1156.6 353.9 1158.6 353.3 1160.6 352.6 1162.7 351.9 1164.7 351.2 1166.7 350.4 1168.7 349.5 1170.7 348.7 1172.7 347.8 1174.7 346.9 1176.7 346.1 1178.7 345.2 1180.7 344.3 1182.7 343.5 1184.7 342.7 1186.7 342.0 1188.7 341.3 1190.7 340.7 1192.7 340.1 1194.7 339.6 1196.7 339.2 1198.7 338.9 1200.7 338.6 1202.8 338.5 1204.8 338.5 1206.8 338.6 1208.8 338.8 1210.8 339.2 1212.8 339.7 1214.8 340.4 1216.8 341.2 1218.8 342.2 1220.8 343.4 1222.8 344.8" fill="none" stroke="#0072BD" stroke-width="1.05" stroke-opacity="0.72"/>
<path d="M777.7 342.5L779.7 339.6 781.7 336.6 783.7 333.4 785.7 330.1 787.7 326.6 789.7 323.1 791.7 319.4 793.7 315.5 795.7 311.6 797.7 307.6 799.7 303.5 801.7 299.3 803.7 295.0 805.7 290.7 807.7 286.3 809.7 281.8 811.7 277.3 813.7 272.8 815.7 268.1 817.7 263.2 819.7 258.0 821.7 252.6 823.7 246.8 825.7 240.7 827.7 234.5 829.7 228.5 831.7 222.8 833.7 217.6 835.7 212.9 837.8 208.9 839.8 205.4 841.8 202.3 843.8 199.8 845.8 197.8 847.8 196.2 849.8 195.0 851.8 194.3 853.8 193.9 855.8 193.8 857.8 194.1 859.8 194.7 861.8 195.5 863.8 196.6 865.8 198.0 867.8 199.5 869.8 201.3 871.8 203.1 873.8 205.2 875.8 207.3 877.8 209.5 879.8 211.8 881.8 214.1 883.8 216.4 885.8 218.8 887.8 221.1 889.8 223.5 891.8 225.8 893.8 228.2 895.8 230.5 897.8 232.9 899.8 235.2 901.8 237.6 903.8 239.9 905.8 242.3 907.8 244.6 909.8 246.9 911.8 249.2 913.8 251.5 915.8 253.8 917.8 256.1 919.8 258.4 921.8 260.6 923.8 262.9 925.8 265.1 927.8 267.3 929.8 269.5 931.8 271.6 933.8 273.8 935.8 275.9 937.8 278.0 939.8 280.0 941.8 282.1 943.8 284.1 945.8 286.1 947.8 288.0 949.8 289.9 951.8 291.8 953.9 293.6 955.9 295.4 957.9 297.2 959.9 298.9 961.9 300.6 963.9 302.3 965.9 303.9 967.9 305.5 969.9 307.0 971.9 308.5 973.9 309.9 975.9 311.3 977.9 312.6 979.9 313.9 981.9 315.1 983.9 316.3 985.9 317.4 987.9 318.5 989.9 319.5 991.9 320.5 993.9 321.4 995.9 322.2 997.9 323.0 999.9 323.7 1001.9 324.3 1003.9 324.9 1005.9 325.5 1007.9 325.9 1009.9 326.3 1011.9 326.7 1013.9 327.0 1015.9 327.2 1017.9 327.4 1019.9 327.5 1021.9 327.6 1023.9 327.6 1025.9 327.6 1027.9 327.5 1029.9 327.4 1031.9 327.2 1033.9 327.0 1035.9 326.8 1037.9 326.5 1039.9 326.1 1041.9 325.8 1043.9 325.4 1045.9 324.9 1047.9 324.4 1049.9 323.9 1051.9 323.4 1053.9 322.8 1055.9 322.2 1057.9 321.5 1059.9 320.9 1061.9 320.2 1063.9 319.5 1065.9 318.7 1067.9 318.0 1069.9 317.2 1072.0 316.4 1074.0 315.5 1076.0 314.7 1078.0 313.8 1080.0 313.0 1082.0 312.1 1084.0 311.2 1086.0 310.2 1088.0 309.3 1090.0 308.4 1092.0 307.4 1094.0 306.5 1096.0 305.5 1098.0 304.6 1100.0 303.6 1102.0 302.7 1104.0 301.7 1106.0 300.7 1108.0 299.8 1110.0 298.8 1112.0 297.9 1114.0 296.9 1116.0 296.0 1118.0 295.1 1120.0 294.2 1122.0 293.2 1124.0 292.3 1126.0 291.5 1128.0 290.6 1130.0 289.7" fill="none" stroke="#0072BD" stroke-width="1.05" stroke-opacity="0.72"/>
<path d="M777.7 270.7L779.7 270.6 781.7 269.8 783.7 268.4 785.7 266.4 787.7 263.8 789.7 260.6 791.7 256.9 793.7 252.6 795.7 247.7 797.7 242.3 799.8 236.4 801.8 230.0 803.8 223.1 805.8 215.7 807.8 207.8 809.8 199.5 811.8 190.7 813.8 181.4 815.8 171.8 817.8 161.9 819.8 151.8 821.8 141.6 823.8 131.4 825.8 121.4 827.8 111.5 829.8 102.0 831.8 92.8 833.8 84.2 835.8 76.1 837.8 68.8 839.9 62.3 841.9 56.6 843.9 52.0 845.9 48.5 847.9 46.2 849.9 45.1 851.9 45.5 853.9 47.3 855.9 50.4 857.9 54.8 859.9 60.4 861.9 67.1 863.9 75.0 865.9 83.9 867.9 93.8 869.9 104.7 871.9 116.5 873.9 129.3 875.9 143.0 877.9 157.8 880.0 173.7 882.0 190.6 884.0 208.7 886.0 228.0 888.0 248.3 890.0 268.4 892.0 286.7 894.0 301.5 896.0 312.6 898.0 321.0 900.0 327.7 902.0 333.6 904.0 338.7 906.0 343.2 908.0 347.1 910.0 350.4 912.0 353.1 914.0 355.4 916.0 357.1 918.0 358.5 920.1 359.4 922.1 359.9 924.1 360.2 926.1 360.1 928.1 359.7 930.1 359.1 932.1 358.3 934.1 357.4 936.1 356.2 938.1 355.0 940.1 353.6 942.1 352.2 944.1 350.7 946.1 349.2 948.1 347.7 950.1 346.3 952.1 344.9 954.1 343.6 956.1 342.4 958.1 341.4 960.2 340.5 962.2 339.8 964.2 339.4 966.2 339.2 968.2 339.2 970.2 339.6 972.2 340.1 974.2 340.9 976.2 342.0 978.2 343.3 980.2 344.8 982.2 346.5 984.2 348.4 986.2 350.5 988.2 352.7 990.2 355.2 992.2 357.8 994.2 360.6 996.2 363.6 998.2 366.7 1000.2 369.9 1002.3 373.2 1004.3 376.5 1006.3 379.8 1008.3 382.8 1010.3 385.7 1012.3 388.1 1014.3 390.2 1016.3 391.8 1018.3 392.9 1020.3 393.2 1022.3 392.9 1024.3 391.7 1026.3 389.6 1028.3 386.7 1030.3 383.0 1032.3 378.5 1034.3 373.4 1036.3 367.6 1038.3 361.4 1040.3 354.6 1042.4 347.4 1044.4 340.0 1046.4 332.2 1048.4 324.2 1050.4 316.1 1052.4 308.0 1054.4 299.8 1056.4 291.8 1058.4 283.8 1060.4 276.2 1062.4 268.8 1064.4 261.8 1066.4 255.3 1068.4 249.3 1070.4 243.9 1072.4 239.2 1074.4 235.0 1076.4 231.5 1078.4 228.4 1080.4 225.7 1082.5 223.5 1084.5 221.7 1086.5 220.2 1088.5 219.0 1090.5 218.0 1092.5 217.2 1094.5 216.6 1096.5 216.1 1098.5 215.7 1100.5 215.4 1102.5 215.1 1104.5 215.0 1106.5 214.9 1108.5 214.9 1110.5 215.0 1112.5 215.2 1114.5 215.5 1116.5 215.8 1118.5 216.2 1120.5 216.7 1122.6 217.2 1124.6 217.8 1126.6 218.5 1128.6 219.2 1130.6 219.9 1132.6 220.7 1134.6 221.6 1136.6 222.5 1138.6 223.4 1140.6 224.4 1142.6 225.4 1144.6 226.4 1146.6 227.5 1148.6 228.6 1150.6 229.7 1152.6 230.9 1154.6 232.0 1156.6 233.2 1158.6 234.4 1160.6 235.6 1162.7 236.8 1164.7 238.0 1166.7 239.2 1168.7 240.4 1170.7 241.6 1172.7 242.8 1174.7 244.0 1176.7 245.2 1178.7 246.3 1180.7 247.5 1182.7 248.6 1184.7 249.7 1186.7 250.7 1188.7 251.7 1190.7 252.7 1192.7 253.7 1194.7 254.6 1196.7 255.5 1198.7 256.3 1200.7 257.1 1202.8 257.8 1204.8 258.5 1206.8 259.1 1208.8 259.7 1210.8 260.2 1212.8 260.7 1214.8 261.0 1216.8 261.3 1218.8 261.5 1220.8 261.7 1222.8 261.8" fill="none" stroke="#A2142F" stroke-width="1.05" stroke-opacity="0.72"/>
<path d="M777.7 311.0L779.7 311.6 781.7 312.0 783.7 312.4 785.7 312.6 787.7 312.8 789.7 312.9 791.7 313.0 793.7 313.0 795.7 313.0 797.7 312.9 799.8 312.4 801.8 311.5 803.8 310.4 805.8 309.0 807.8 307.5 809.8 305.9 811.8 304.3 813.8 302.7 815.8 301.2 817.8 299.9 819.8 298.6 821.8 297.4 823.8 296.1 825.8 294.8 827.8 293.5 829.8 292.2 831.8 290.9 833.8 289.5 835.8 288.2 837.8 286.9 839.9 285.6 841.9 284.3 843.9 282.9 845.9 281.7 847.9 280.4 849.9 279.1 851.9 277.9 853.9 276.6 855.9 275.5 857.9 274.3 859.9 273.2 861.9 272.0 863.9 271.0 865.9 270.0 867.9 269.0 869.9 268.0 871.9 267.1 873.9 266.2 875.9 265.4 877.9 264.5 880.0 263.6 882.0 262.8 884.0 262.0 886.0 261.2 888.0 260.4 890.0 259.6 892.0 258.8 894.0 258.1 896.0 257.3 898.0 256.6 900.0 255.8 902.0 255.1 904.0 254.4 906.0 253.7 908.0 253.0 910.0 252.3 912.0 251.7 914.0 251.0 916.0 250.4 918.0 249.7 920.1 249.1 922.1 248.4 924.1 247.8 926.1 247.2 928.1 246.6 930.1 246.0 932.1 245.3 934.1 244.7 936.1 244.2 938.1 243.6 940.1 243.0 942.1 242.4 944.1 241.9 946.1 241.4 948.1 240.9 950.1 240.5 952.1 240.1 954.1 239.7 956.1 239.3 958.1 238.9 960.2 238.5 962.2 238.2 964.2 237.8 966.2 237.5 968.2 237.1 970.2 236.7 972.2 236.4 974.2 236.0 976.2 235.6 978.2 235.1 980.2 234.7 982.2 234.2 984.2 233.6 986.2 233.1 988.2 232.5 990.2 231.8 992.2 231.2 994.2 230.4 996.2 229.6 998.2 228.8 1000.2 227.9 1002.3 226.7 1004.3 225.1 1006.3 223.2 1008.3 220.9 1010.3 218.4 1012.3 215.5 1014.3 212.4 1016.3 209.1 1018.3 205.6 1020.3 201.9 1022.3 198.0 1024.3 194.1 1026.3 190.0 1028.3 185.9 1030.3 181.8 1032.3 177.6 1034.3 173.4 1036.3 168.8 1038.3 163.6 1040.3 158.0 1042.4 152.2 1044.4 146.2 1046.4 140.3 1048.4 134.6 1050.4 129.2 1052.4 123.8 1054.4 117.9 1056.4 111.7 1058.4 105.3 1060.4 99.0 1062.4 93.1 1064.4 87.7 1066.4 83.2 1068.4 79.8 1070.4 77.7 1072.4 77.1 1074.4 78.1 1076.4 80.5 1078.4 84.0 1080.4 88.4 1082.5 93.7 1084.5 99.5 1086.5 105.8 1088.5 112.2 1090.5 118.7 1092.5 125.4 1094.5 133.6 1096.5 143.2 1098.5 153.3 1100.5 163.3 1102.5 172.5 1104.5 180.7 1106.5 188.9 1108.5 197.2 1110.5 205.5 1112.5 213.7 1114.5 221.7 1116.5 229.4 1118.5 236.8 1120.5 243.7 1122.6 250.1 1124.6 255.9 1126.6 261.1 1128.6 265.4 1130.6 268.9 1132.6 272.1 1134.6 275.1 1136.6 278.0 1138.6 280.7 1140.6 283.2 1142.6 285.6 1144.6 287.8 1146.6 289.9 1148.6 291.9 1150.6 293.6 1152.6 295.3 1154.6 296.8 1156.6 298.1 1158.6 299.3 1160.6 300.3 1162.7 301.3 1164.7 302.3 1166.7 303.2 1168.7 304.1 1170.7 304.9 1172.7 305.7 1174.7 306.4 1176.7 307.1 1178.7 307.7 1180.7 308.3 1182.7 308.8 1184.7 309.2 1186.7 309.6 1188.7 309.9 1190.7 310.1 1192.7 310.3 1194.7 310.5 1196.7 310.7 1198.7 310.8 1200.7 311.0 1202.8 311.2 1204.8 311.3 1206.8 311.5 1208.8 311.6 1210.8 311.7 1212.8 311.8 1214.8 311.9 1216.8 311.9 1218.8 312.0 1220.8 312.0 1222.8 312.0" fill="none" stroke="#A2142F" stroke-width="1.05" stroke-opacity="0.72"/>
<path d="M777.7 334.4L779.7 335.4 781.7 336.3 783.7 337.3 785.7 338.3 787.7 339.2 789.7 340.1 791.7 341.0 793.7 341.9 795.7 342.8 797.7 343.6 799.8 344.5 801.8 345.4 803.8 346.2 805.8 347.1 807.8 347.9 809.8 348.7 811.8 349.5 813.8 350.2 815.8 350.9 817.8 351.6 819.8 352.2 821.8 352.9 823.8 353.5 825.8 354.2 827.8 354.7 829.8 355.2 831.8 355.5 833.8 355.7 835.8 355.6 837.8 355.0 839.9 354.0 841.9 352.6 843.9 350.9 845.9 348.8 847.9 346.5 849.9 344.1 851.9 341.4 853.9 338.7 855.9 336.0 857.9 333.2 859.9 330.6 861.9 327.8 863.9 324.4 865.9 320.7 867.9 316.7 869.9 312.6 871.9 308.4 873.9 304.3 875.9 300.4 877.9 296.9 880.0 293.8 882.0 291.3 884.0 288.9 886.0 286.5 888.0 284.2 890.0 281.9 892.0 279.8 894.0 277.8 896.0 276.0 898.0 274.5 900.0 273.3 902.0 272.5 904.0 272.1 906.0 272.0 908.0 272.0 910.0 272.1 912.0 272.2 914.0 272.4 916.0 272.6 918.0 272.8 920.1 273.0 922.1 273.3 924.1 273.6 926.1 273.8 928.1 274.1 930.1 274.5 932.1 274.8 934.1 275.1 936.1 275.4 938.1 275.7 940.1 276.0 942.1 276.4 944.1 276.8 946.1 277.2 948.1 277.7 950.1 278.3 952.1 278.9 954.1 279.5 956.1 280.1 958.1 280.7 960.2 281.3 962.2 281.9 964.2 282.5 966.2 283.0 968.2 283.5 970.2 283.9 972.2 284.3 974.2 284.6 976.2 284.8 978.2 285.0 980.2 285.0 982.2 284.8 984.2 284.4 986.2 283.8 988.2 282.9 990.2 281.8 992.2 280.6 994.2 279.1 996.2 277.5 998.2 275.8 1000.2 273.9 1002.3 272.0 1004.3 269.9 1006.3 267.7 1008.3 265.5 1010.3 263.2 1012.3 260.9 1014.3 258.6 1016.3 256.3 1018.3 254.0 1020.3 251.7 1022.3 249.2 1024.3 246.4 1026.3 243.3 1028.3 240.1 1030.3 236.6 1032.3 233.1 1034.3 229.4 1036.3 225.7 1038.3 222.0 1040.3 218.3 1042.4 214.6 1044.4 211.1 1046.4 207.7 1048.4 204.3 1050.4 200.9 1052.4 197.5 1054.4 194.1 1056.4 190.7 1058.4 187.2 1060.4 183.8 1062.4 180.3 1064.4 176.8 1066.4 173.1 1068.4 169.1 1070.4 164.6 1072.4 159.8 1074.4 155.0 1076.4 150.0 1078.4 145.2 1080.4 140.6 1082.5 136.3 1084.5 132.5 1086.5 129.3 1088.5 126.8 1090.5 125.1 1092.5 124.3 1094.5 124.6 1096.5 125.7 1098.5 127.7 1100.5 130.3 1102.5 133.5 1104.5 137.3 1106.5 141.5 1108.5 146.0 1110.5 150.8 1112.5 155.7 1114.5 160.8 1116.5 165.8 1118.5 170.6 1120.5 175.3 1122.6 180.4 1124.6 186.0 1126.6 192.1 1128.6 198.5 1130.6 205.0 1132.6 211.5 1134.6 217.7 1136.6 223.5 1138.6 228.8 1140.6 233.3 1142.6 237.6 1144.6 241.8 1146.6 246.0 1148.6 250.0 1150.6 254.0 1152.6 257.8 1154.6 261.4 1156.6 264.9 1158.6 268.2 1160.6 271.2 1162.7 274.0 1164.7 276.6 1166.7 278.9 1168.7 280.9 1170.7 282.5 1172.7 284.1 1174.7 285.7 1176.7 287.1 1178.7 288.5 1180.7 289.9 1182.7 291.1 1184.7 292.3 1186.7 293.4 1188.7 294.4 1190.7 295.3 1192.7 296.1 1194.7 296.8 1196.7 297.4 1198.7 297.8 1200.7 298.1 1202.8 298.4 1204.8 298.7 1206.8 298.9 1208.8 299.1 1210.8 299.4 1212.8 299.5 1214.8 299.7 1216.8 299.8 1218.8 299.9 1220.8 300.0 1222.8 300.0" fill="none" stroke="#A2142F" stroke-width="1.05" stroke-opacity="0.72"/>
<path d="M777.7 270.5L779.7 270.8 781.7 271.2 783.7 271.6 785.7 272.0 787.7 272.5 789.7 273.0 791.7 273.5 793.7 274.1 795.7 274.6 797.7 275.3 799.8 276.0 801.8 276.8 803.8 277.7 805.8 278.6 807.8 279.5 809.8 280.4 811.8 281.3 813.8 282.1 815.8 282.8 817.8 283.4 819.8 283.9 821.8 284.5 823.8 285.0 825.8 285.6 827.8 286.1 829.8 286.5 831.8 286.9 833.8 287.2 835.8 287.5 837.8 287.6 839.9 287.6 841.9 287.3 843.9 286.9 845.9 286.3 847.9 285.6 849.9 284.7 851.9 283.7 853.9 282.6 855.9 281.5 857.9 280.4 859.9 279.3 861.9 278.1 863.9 276.7 865.9 275.2 867.9 273.5 869.9 271.6 871.9 269.7 873.9 267.6 875.9 265.5 877.9 263.3 880.0 261.1 882.0 258.8 884.0 256.6 886.0 254.3 888.0 252.2 890.0 250.0 892.0 247.8 894.0 245.3 896.0 242.7 898.0 239.9 900.0 237.1 902.0 234.1 904.0 231.2 906.0 228.4 908.0 225.6 910.0 223.1 912.0 220.7 914.0 218.5 916.0 216.6 918.0 215.1 920.1 214.0 922.1 213.3 924.1 213.0 926.1 212.7 928.1 212.4 930.1 212.2 932.1 212.0 934.1 211.8 936.1 211.7 938.1 211.5 940.1 211.4 942.1 211.3 944.1 211.1 946.1 211.0 948.1 210.9 950.1 210.8 952.1 210.7 954.1 210.5 956.1 210.4 958.1 210.2 960.2 210.0 962.2 209.8 964.2 209.5 966.2 209.2 968.2 208.9 970.2 208.6 972.2 208.3 974.2 208.0 976.2 207.6 978.2 207.3 980.2 207.0 982.2 206.6 984.2 206.3 986.2 206.1 988.2 205.8 990.2 205.6 992.2 205.4 994.2 205.2 996.2 205.1 998.2 205.0 1000.2 205.0 1002.3 205.0 1004.3 205.2 1006.3 205.4 1008.3 205.6 1010.3 205.9 1012.3 206.3 1014.3 206.7 1016.3 207.2 1018.3 207.7 1020.3 208.3 1022.3 208.9 1024.3 209.5 1026.3 210.2 1028.3 210.8 1030.3 211.5 1032.3 212.2 1034.3 213.0 1036.3 213.7 1038.3 214.4 1040.3 215.1 1042.4 215.9 1044.4 216.8 1046.4 217.8 1048.4 218.9 1050.4 220.0 1052.4 221.3 1054.4 222.5 1056.4 223.9 1058.4 225.2 1060.4 226.6 1062.4 228.1 1064.4 229.5 1066.4 230.9 1068.4 232.4 1070.4 233.8 1072.4 235.2 1074.4 236.5 1076.4 237.8 1078.4 239.1 1080.4 240.3 1082.5 241.5 1084.5 242.7 1086.5 243.9 1088.5 245.1 1090.5 246.4 1092.5 247.6 1094.5 248.9 1096.5 250.1 1098.5 251.3 1100.5 252.5 1102.5 253.7 1104.5 254.8 1106.5 255.9 1108.5 257.0 1110.5 258.0 1112.5 258.9 1114.5 259.9 1116.5 260.7 1118.5 261.5 1120.5 262.2 1122.6 262.9 1124.6 263.5 1126.6 264.1 1128.6 264.7 1130.6 265.2 1132.6 265.8 1134.6 266.3 1136.6 266.8 1138.6 267.2 1140.6 267.7 1142.6 268.2 1144.6 268.6 1146.6 269.1 1148.6 269.5 1150.6 269.9 1152.6 270.4 1154.6 270.8 1156.6 271.2 1158.6 271.7 1160.6 272.1 1162.7 272.6 1164.7 273.1 1166.7 273.5 1168.7 274.0 1170.7 274.4 1172.7 274.8 1174.7 275.3 1176.7 275.7 1178.7 276.2 1180.7 276.6 1182.7 277.0 1184.7 277.5 1186.7 277.9 1188.7 278.3 1190.7 278.7 1192.7 279.1 1194.7 279.6 1196.7 280.0 1198.7 280.4 1200.7 280.8 1202.8 281.2 1204.8 281.6 1206.8 282.0 1208.8 282.4 1210.8 282.8 1212.8 283.1 1214.8 283.5 1216.8 283.9 1218.8 284.3 1220.8 284.6 1222.8 285.0" fill="none" stroke="#A2142F" stroke-width="1.05" stroke-opacity="0.72"/>
<path d="M777.7 313.0L779.7 314.7 781.7 316.3 783.7 317.8 785.7 319.4 787.7 320.8 789.7 322.1 791.7 323.4 793.7 324.6 795.7 325.7 797.7 326.8 799.8 327.8 801.8 328.9 803.8 330.0 805.8 331.0 807.8 331.9 809.8 332.8 811.8 333.4 813.8 334.0 815.8 334.3 817.8 334.4 819.8 334.2 821.8 333.7 823.8 332.9 825.8 332.0 827.8 330.8 829.8 329.5 831.8 328.1 833.8 326.6 835.8 325.1 837.8 323.6 839.9 322.1 841.9 320.6 843.9 319.0 845.9 317.3 847.9 315.4 849.9 313.5 851.9 311.4 853.9 309.3 855.9 307.2 857.9 305.0 859.9 302.8 861.9 300.6 863.9 298.4 865.9 296.3 867.9 294.1 869.9 292.1 871.9 290.0 873.9 287.8 875.9 285.5 877.9 283.2 880.0 280.8 882.0 278.4 884.0 276.0 886.0 273.6 888.0 271.2 890.0 269.0 892.0 266.8 894.0 264.7 896.0 262.7 898.0 260.9 900.0 259.2 902.0 257.8 904.0 256.5 906.0 255.5 908.0 254.5 910.0 253.6 912.0 252.8 914.0 251.9 916.0 251.2 918.0 250.4 920.1 249.8 922.1 249.1 924.1 248.5 926.1 247.9 928.1 247.3 930.1 246.7 932.1 246.1 934.1 245.6 936.1 245.1 938.1 244.5 940.1 244.0 942.1 243.5 944.1 242.9 946.1 242.4 948.1 241.8 950.1 241.2 952.1 240.6 954.1 240.0 956.1 239.4 958.1 238.7 960.2 238.1 962.2 237.5 964.2 236.9 966.2 236.3 968.2 235.7 970.2 235.2 972.2 234.6 974.2 234.1 976.2 233.6 978.2 233.1 980.2 232.6 982.2 232.2 984.2 231.8 986.2 231.4 988.2 231.1 990.2 230.8 992.2 230.6 994.2 230.4 996.2 230.3 998.2 230.2 1000.2 230.2 1002.3 230.2 1004.3 230.3 1006.3 230.5 1008.3 230.7 1010.3 231.0 1012.3 231.3 1014.3 231.7 1016.3 232.1 1018.3 232.5 1020.3 233.0 1022.3 233.5 1024.3 234.1 1026.3 234.6 1028.3 235.2 1030.3 235.8 1032.3 236.4 1034.3 237.1 1036.3 237.7 1038.3 238.3 1040.3 239.0 1042.4 239.6 1044.4 240.3 1046.4 240.9 1048.4 241.5 1050.4 242.1 1052.4 242.7 1054.4 243.4 1056.4 244.2 1058.4 245.0 1060.4 245.8 1062.4 246.6 1064.4 247.5 1066.4 248.4 1068.4 249.3 1070.4 250.3 1072.4 251.2 1074.4 252.2 1076.4 253.1 1078.4 254.0 1080.4 254.9 1082.5 255.8 1084.5 256.7 1086.5 257.5 1088.5 258.3 1090.5 259.1 1092.5 259.8 1094.5 260.5 1096.5 261.1 1098.5 261.6 1100.5 262.1 1102.5 262.6 1104.5 263.0 1106.5 263.5 1108.5 264.0 1110.5 264.4 1112.5 264.9 1114.5 265.3 1116.5 265.7 1118.5 266.2 1120.5 266.6 1122.6 267.0 1124.6 267.3 1126.6 267.7 1128.6 268.1 1130.6 268.4 1132.6 268.7 1134.6 268.9 1136.6 269.2 1138.6 269.4 1140.6 269.6 1142.6 269.7 1144.6 269.9 1146.6 269.9 1148.6 270.0 1150.6 270.0 1152.6 270.0 1154.6 270.0 1156.6 270.0 1158.6 270.0 1160.6 270.0 1162.7 270.0 1164.7 270.0 1166.7 270.0 1168.7 270.0 1170.7 270.0 1172.7 270.0 1174.7 270.0 1176.7 270.0 1178.7 270.0 1180.7 270.0 1182.7 270.0 1184.7 270.0 1186.7 270.0 1188.7 270.0 1190.7 270.0 1192.7 270.0 1194.7 270.0 1196.7 270.0 1198.7 270.0 1200.7 270.0 1202.8 270.0 1204.8 270.0 1206.8 270.0 1208.8 270.0 1210.8 270.0 1212.8 270.0 1214.8 270.0 1216.8 270.0 1218.8 270.0 1220.8 270.0 1222.8 270.0" fill="none" stroke="#A2142F" stroke-width="1.05" stroke-opacity="0.72"/>
<path d="M777.7 300.0L779.7 299.7 781.7 299.3 783.7 298.8 785.7 298.2 787.7 297.6 789.7 297.0 791.7 296.3 793.7 295.5 795.7 294.8 797.7 294.0 799.8 293.1 801.8 292.2 803.8 291.2 805.8 290.1 807.8 288.8 809.8 287.5 811.8 286.1 813.8 284.7 815.8 283.1 817.8 281.6 819.8 279.9 821.8 278.2 823.8 276.5 825.8 274.7 827.8 272.9 829.8 271.1 831.8 269.3 833.8 267.5 835.8 265.7 837.8 263.9 839.9 262.1 841.9 260.3 843.9 258.4 845.9 256.4 847.9 254.3 849.9 252.2 851.9 250.1 853.9 247.9 855.9 245.7 857.9 243.6 859.9 241.5 861.9 239.4 863.9 237.4 865.9 235.5 867.9 233.7 869.9 232.1 871.9 230.4 873.9 228.7 875.9 227.0 877.9 225.2 880.0 223.5 882.0 221.7 884.0 220.0 886.0 218.4 888.0 216.8 890.0 215.3 892.0 213.9 894.0 212.6 896.0 211.5 898.0 210.6 900.0 209.8 902.0 209.3 904.0 209.0 906.0 208.9 908.0 209.1 910.0 209.4 912.0 209.9 914.0 210.5 916.0 211.1 918.0 211.8 920.1 212.4 922.1 213.0 924.1 213.6 926.1 214.2 928.1 214.7 930.1 215.3 932.1 215.8 934.1 216.4 936.1 217.0 938.1 217.6 940.1 218.2 942.1 218.8 944.1 219.4 946.1 220.1 948.1 220.7 950.1 221.4 952.1 222.1 954.1 222.8 956.1 223.5 958.1 224.3 960.2 225.1 962.2 225.9 964.2 226.8 966.2 227.7 968.2 228.7 970.2 229.7 972.2 230.8 974.2 231.9 976.2 233.0 978.2 234.2 980.2 235.3 982.2 236.5 984.2 237.6 986.2 238.8 988.2 239.9 990.2 241.0 992.2 242.1 994.2 243.2 996.2 244.2 998.2 245.2 1000.2 246.1 1002.3 247.1 1004.3 248.0 1006.3 249.1 1008.3 250.1 1010.3 251.2 1012.3 252.3 1014.3 253.3 1016.3 254.4 1018.3 255.4 1020.3 256.4 1022.3 257.4 1024.3 258.2 1026.3 259.1 1028.3 259.8 1030.3 260.4 1032.3 261.0 1034.3 261.4 1036.3 261.8 1038.3 261.9 1040.3 262.0 1042.4 262.0 1044.4 262.0 1046.4 262.0 1048.4 262.0 1050.4 262.0 1052.4 262.0 1054.4 262.0 1056.4 262.0 1058.4 262.0 1060.4 262.0 1062.4 262.0 1064.4 262.0 1066.4 262.0 1068.4 262.0 1070.4 262.0 1072.4 262.0 1074.4 262.0 1076.4 262.0 1078.4 262.0 1080.4 262.0 1082.5 261.9 1084.5 261.8 1086.5 261.5 1088.5 261.2 1090.5 260.8 1092.5 260.4 1094.5 259.9 1096.5 259.4 1098.5 258.9 1100.5 258.4 1102.5 257.8 1104.5 257.3 1106.5 256.9 1108.5 256.4 1110.5 256.0 1112.5 255.6 1114.5 255.4 1116.5 255.1 1118.5 255.0 1120.5 255.0 1122.6 255.0 1124.6 255.1 1126.6 255.2 1128.6 255.3 1130.6 255.5 1132.6 255.7 1134.6 255.9 1136.6 256.1 1138.6 256.4 1140.6 256.7 1142.6 257.0 1144.6 257.3 1146.6 257.6 1148.6 258.0 1150.6 258.3 1152.6 258.7 1154.6 259.1 1156.6 259.5 1158.6 259.8 1160.6 260.2 1162.7 260.6 1164.7 261.0 1166.7 261.4 1168.7 261.8 1170.7 262.1 1172.7 262.5 1174.7 262.9 1176.7 263.3 1178.7 263.7 1180.7 264.2 1182.7 264.6 1184.7 265.1 1186.7 265.6 1188.7 266.0 1190.7 266.5 1192.7 267.1 1194.7 267.6 1196.7 268.1 1198.7 268.7 1200.7 269.2 1202.8 269.8 1204.8 270.4 1206.8 271.0 1208.8 271.6 1210.8 272.2 1212.8 272.8 1214.8 273.4 1216.8 274.1 1218.8 274.7 1220.8 275.3 1222.8 276.0" fill="none" stroke="#A2142F" stroke-width="1.05" stroke-opacity="0.72"/>
<path d="M777.7 323.0L779.7 323.0 781.7 322.6 783.7 322.0 785.7 321.2 787.7 320.1 789.7 318.7 791.7 317.2 793.7 315.4 795.7 313.4 797.7 311.2 799.8 308.9 801.8 306.4 803.8 303.8 805.8 301.1 807.8 298.2 809.8 295.3 811.8 292.3 813.8 289.2 815.8 286.0 817.8 282.8 819.8 279.6 821.8 276.4 823.8 273.1 825.8 269.9 827.8 266.7 829.8 263.6 831.8 260.5 833.8 257.5 835.8 254.5 837.8 251.7 839.9 249.0 841.9 246.4 843.9 243.9 845.9 241.5 847.9 239.2 849.9 237.1 851.9 235.0 853.9 233.1 855.9 231.3 857.9 229.6 859.9 228.0 861.9 226.5 863.9 225.2 865.9 224.0 867.9 222.9 869.9 222.0 871.9 221.1 873.9 220.4 875.9 219.8 877.9 219.4 880.0 219.1 882.0 218.9 884.0 218.8 886.0 218.9 888.0 219.0 890.0 219.1 892.0 219.4 894.0 219.6 896.0 219.9 898.0 220.2 900.0 220.5 902.0 220.8 904.0 221.0 906.0 221.2 908.0 221.4 910.0 221.5 912.0 221.5 914.0 221.5 916.0 221.5 918.0 221.4 920.1 221.2 922.1 221.0 924.1 220.7 926.1 220.3 928.1 219.9 930.1 219.4 932.1 218.8 934.1 218.1 936.1 217.3 938.1 216.5 940.1 215.5 942.1 214.5 944.1 213.3 946.1 212.1 948.1 210.7 950.1 209.2 952.1 207.7 954.1 206.0 956.1 204.1 958.1 202.2 960.2 200.2 962.2 198.2 964.2 196.0 966.2 193.9 968.2 191.8 970.2 189.7 972.2 187.6 974.2 185.6 976.2 183.7 978.2 181.8 980.2 180.1 982.2 178.5 984.2 177.1 986.2 175.8 988.2 174.8 990.2 174.0 992.2 173.4 994.2 173.0 996.2 173.0 998.2 173.2 1000.2 173.8 1002.3 174.6 1004.3 175.7 1006.3 177.0 1008.3 178.6 1010.3 180.4 1012.3 182.5 1014.3 184.7 1016.3 187.1 1018.3 189.7 1020.3 192.5 1022.3 195.4 1024.3 198.4 1026.3 201.5 1028.3 204.8 1030.3 208.1 1032.3 211.5 1034.3 215.0 1036.3 218.5 1038.3 222.1 1040.3 225.7 1042.4 229.3 1044.4 232.8 1046.4 236.4 1048.4 239.9 1050.4 243.4 1052.4 246.8 1054.4 250.2 1056.4 253.4 1058.4 256.6 1060.4 259.6 1062.4 262.5 1064.4 265.3 1066.4 267.9 1068.4 270.4 1070.4 272.8 1072.4 275.1 1074.4 277.2 1076.4 279.3 1078.4 281.2 1080.4 283.0 1082.5 284.7 1084.5 286.3 1086.5 287.8 1088.5 289.1 1090.5 290.4 1092.5 291.6 1094.5 292.7 1096.5 293.7 1098.5 294.7 1100.5 295.5 1102.5 296.3 1104.5 297.0 1106.5 297.6 1108.5 298.1 1110.5 298.6 1112.5 299.0 1114.5 299.3 1116.5 299.6 1118.5 299.8 1120.5 299.9 1122.6 300.0 1124.6 300.1 1126.6 300.1 1128.6 300.1 1130.6 300.1 1132.6 300.0 1134.6 300.0 1136.6 299.9 1138.6 299.8 1140.6 299.7 1142.6 299.6 1144.6 299.5 1146.6 299.5 1148.6 299.4 1150.6 299.4 1152.6 299.4 1154.6 299.4 1156.6 299.5 1158.6 299.6 1160.6 299.8 1162.7 300.0 1164.7 300.3 1166.7 300.7 1168.7 301.1 1170.7 301.6 1172.7 302.1 1174.7 302.8 1176.7 303.6 1178.7 304.4 1180.7 305.3 1182.7 306.4 1184.7 307.5 1186.7 308.7 1188.7 310.0 1190.7 311.2 1192.7 312.6 1194.7 313.9 1196.7 315.2 1198.7 316.5 1200.7 317.8 1202.8 319.0 1204.8 320.2 1206.8 321.3 1208.8 322.3 1210.8 323.2 1212.8 324.0 1214.8 324.6 1216.8 325.2 1218.8 325.5 1220.8 325.7 1222.8 325.7" fill="none" stroke="#0072BD" stroke-width="2.45" stroke-linejoin="round"/>
<path d="M777.7 291.9L779.7 293.8 781.7 295.3 783.7 296.4 785.7 297.1 787.7 297.4 789.7 297.4 791.7 297.1 793.7 296.5 795.7 295.6 797.7 294.4 799.8 293.0 801.8 291.3 803.8 289.4 805.8 287.3 807.8 285.1 809.8 282.7 811.8 280.1 813.8 277.4 815.8 274.7 817.8 271.8 819.8 268.9 821.8 265.9 823.8 262.8 825.8 259.8 827.8 256.8 829.8 253.8 831.8 250.8 833.8 247.9 835.8 245.0 837.8 242.3 839.9 239.6 841.9 237.1 843.9 234.8 845.9 232.6 847.9 230.6 849.9 228.8 851.9 227.2 853.9 225.9 855.9 224.8 857.9 224.0 859.9 223.4 861.9 223.2 863.9 223.3 865.9 223.6 867.9 224.2 869.9 225.0 871.9 226.1 873.9 227.5 875.9 229.1 877.9 230.9 880.0 232.9 882.0 235.1 884.0 237.6 886.0 240.1 888.0 242.7 890.0 245.4 892.0 248.1 894.0 250.7 896.0 253.3 898.0 255.8 900.0 258.1 902.0 260.2 904.0 262.1 906.0 263.9 908.0 265.4 910.0 266.8 912.0 268.0 914.0 269.1 916.0 270.0 918.0 270.8 920.1 271.5 922.1 272.0 924.1 272.5 926.1 272.8 928.1 273.1 930.1 273.3 932.1 273.4 934.1 273.5 936.1 273.5 938.1 273.5 940.1 273.5 942.1 273.4 944.1 273.4 946.1 273.3 948.1 273.3 950.1 273.3 952.1 273.3 954.1 273.3 956.1 273.5 958.1 273.6 960.2 273.8 962.2 274.1 964.2 274.3 966.2 274.6 968.2 275.0 970.2 275.3 972.2 275.6 974.2 276.0 976.2 276.3 978.2 276.7 980.2 277.0 982.2 277.3 984.2 277.6 986.2 277.8 988.2 278.0 990.2 278.2 992.2 278.3 994.2 278.4 996.2 278.4 998.2 278.3 1000.2 278.2 1002.3 278.0 1004.3 277.7 1006.3 277.3 1008.3 276.8 1010.3 276.2 1012.3 275.5 1014.3 274.7 1016.3 273.8 1018.3 272.8 1020.3 271.6 1022.3 270.3 1024.3 268.9 1026.3 267.3 1028.3 265.5 1030.3 263.5 1032.3 261.3 1034.3 258.9 1036.3 256.3 1038.3 253.5 1040.3 250.4 1042.4 247.1 1044.4 243.5 1046.4 239.6 1048.4 235.4 1050.4 231.0 1052.4 226.3 1054.4 221.5 1056.4 216.6 1058.4 211.8 1060.4 207.0 1062.4 202.4 1064.4 198.0 1066.4 193.9 1068.4 190.2 1070.4 187.0 1072.4 184.3 1074.4 182.3 1076.4 180.8 1078.4 179.9 1080.4 179.6 1082.5 179.7 1084.5 180.4 1086.5 181.4 1088.5 182.9 1090.5 184.7 1092.5 186.9 1094.5 189.3 1096.5 192.0 1098.5 194.9 1100.5 198.0 1102.5 201.2 1104.5 204.6 1106.5 208.0 1108.5 211.4 1110.5 214.9 1112.5 218.3 1114.5 221.7 1116.5 224.9 1118.5 228.0 1120.5 231.1 1122.6 233.9 1124.6 236.7 1126.6 239.4 1128.6 241.9 1130.6 244.3 1132.6 246.7 1134.6 248.9 1136.6 251.0 1138.6 253.1 1140.6 255.0 1142.6 256.8 1144.6 258.6 1146.6 260.3 1148.6 261.9 1150.6 263.4 1152.6 264.8 1154.6 266.2 1156.6 267.5 1158.6 268.7 1160.6 269.9 1162.7 271.0 1164.7 272.0 1166.7 273.0 1168.7 273.9 1170.7 274.8 1172.7 275.6 1174.7 276.4 1176.7 277.2 1178.7 277.9 1180.7 278.6 1182.7 279.2 1184.7 279.8 1186.7 280.4 1188.7 280.9 1190.7 281.5 1192.7 282.0 1194.7 282.5 1196.7 283.0 1198.7 283.5 1200.7 283.9 1202.8 284.4 1204.8 284.9 1206.8 285.3 1208.8 285.8 1210.8 286.3 1212.8 286.7 1214.8 287.2 1216.8 287.8 1218.8 288.3 1220.8 288.8 1222.8 289.4" fill="none" stroke="#A2142F" stroke-width="2.45" stroke-linejoin="round"/>
</g>
<rect x="773.2" y="11.7" width="534.1" height="481.7" fill="none" stroke="#333333" stroke-width="0.9"/>
<text x="773.2" y="523.5" font-size="23.2" text-anchor="middle">0</text>
<text x="862.2" y="523.5" font-size="23.2" text-anchor="middle">20</text>
<text x="951.2" y="523.5" font-size="23.2" text-anchor="middle">40</text>
<text x="1040.2" y="523.5" font-size="23.2" text-anchor="middle">60</text>
<text x="1129.3" y="523.5" font-size="23.2" text-anchor="middle">80</text>
<text x="1218.3" y="523.5" font-size="23.2" text-anchor="middle">100</text>
<text x="1307.3" y="523.5" font-size="23.2" text-anchor="middle">120</text>
<text x="765.2" y="20.0" font-size="23.2" text-anchor="end">0.06</text>
<text x="765.2" y="100.3" font-size="23.2" text-anchor="end">0.04</text>
<text x="765.2" y="180.6" font-size="23.2" text-anchor="end">0.02</text>
<text x="765.2" y="260.8" font-size="23.2" text-anchor="end">0</text>
<text x="765.2" y="341.1" font-size="23.2" text-anchor="end">-0.02</text>
<text x="765.2" y="421.4" font-size="23.2" text-anchor="end">-0.04</text>
<text x="765.2" y="501.7" font-size="23.2" text-anchor="end">-0.06</text>
<path d="M773.2 493.4V488.1M773.2 11.7V17.0M862.2 493.4V488.1M862.2 11.7V17.0M951.2 493.4V488.1M951.2 11.7V17.0M1040.2 493.4V488.1M1040.2 11.7V17.0M1129.3 493.4V488.1M1129.3 11.7V17.0M1218.3 493.4V488.1M1218.3 11.7V17.0M1307.3 493.4V488.1M1307.3 11.7V17.0M773.2 11.7H778.5M1307.3 11.7H1302.0M773.2 92.0H778.5M1307.3 92.0H1302.0M773.2 172.3H778.5M1307.3 172.3H1302.0M773.2 252.5H778.5M1307.3 252.5H1302.0M773.2 332.8H778.5M1307.3 332.8H1302.0M773.2 413.1H778.5M1307.3 413.1H1302.0M773.2 493.4H778.5M1307.3 493.4H1302.0" stroke="#333333" stroke-width="0.9" fill="none"/>
<text x="1040.2" y="554.3" font-size="25.7" text-anchor="middle">% Stride Cycle</text>
<text transform="translate(701.8 252.5) rotate(-90)" font-size="25.7" text-anchor="middle">L5/S1 Lateral bending moment</text>
<rect x="1187.0" y="22.4" width="108.5" height="57.2" fill="#fff" stroke="#333333" stroke-width="1"/>
<path d="M1192.7 38H1236.3" stroke="#0072BD" stroke-width="2.6"/>
<path d="M1192.7 63.7H1236.3" stroke="#A2142F" stroke-width="2.6"/>
<text x="1240.0" y="44.9" font-size="21.2">IMU</text>
<text x="1240.6" y="71.4" font-size="20.9">OMC</text>
<text x="1174.1" y="115.3" font-size="20.3">RMSE: 0.00</text>
<text x="1174.1" y="139.4" font-size="20.3">NRMSE: 0.01</text>
<text x="1174.1" y="163.5" font-size="20.3">R: 0.42</text>
<defs><clipPath id="c2"><rect x="1451.6" y="11.7" width="534.9" height="481.7"/></clipPath></defs>
<g clip-path="url(#c2)">
<path d="M1456.1 84.8L1458.1 89.3 1460.1 93.6 1462.1 97.8 1464.1 101.9 1466.1 105.9 1468.1 109.8 1470.2 113.6 1472.2 117.3 1474.2 120.9 1476.2 124.4 1478.2 127.8 1480.2 131.2 1482.2 134.5 1484.2 137.8 1486.2 141.0 1488.2 144.2 1490.2 147.4 1492.2 150.5 1494.2 153.7 1496.3 156.8 1498.3 159.9 1500.3 163.0 1502.3 166.2 1504.3 169.3 1506.3 172.5 1508.3 175.7 1510.3 179.0 1512.3 182.3 1514.3 185.6 1516.3 189.0 1518.3 192.5 1520.3 196.0 1522.4 199.6 1524.4 203.1 1526.4 206.7 1528.4 210.3 1530.4 213.9 1532.4 217.5 1534.4 221.0 1536.4 224.5 1538.4 228.0 1540.4 231.4 1542.4 234.7 1544.4 237.9 1546.4 241.1 1548.5 244.2 1550.5 247.1 1552.5 249.9 1554.5 252.6 1556.5 255.1 1558.5 257.5 1560.5 259.8 1562.5 261.8 1564.5 263.7 1566.5 265.4 1568.5 266.8 1570.5 268.1 1572.5 269.1 1574.6 269.9 1576.6 270.4 1578.6 270.7 1580.6 270.8 1582.6 270.7 1584.6 270.3 1586.6 269.8 1588.6 269.2 1590.6 268.3 1592.6 267.4 1594.6 266.3 1596.6 265.1 1598.6 263.8 1600.7 262.4 1602.7 261.0 1604.7 259.5 1606.7 257.9 1608.7 256.4 1610.7 254.8 1612.7 253.2 1614.7 251.6 1616.7 250.1 1618.7 248.6 1620.7 247.2 1622.7 245.8 1624.7 244.5 1626.8 243.3 1628.8 242.1 1630.8 241.0 1632.8 240.0 1634.8 239.0 1636.8 238.2 1638.8 237.3 1640.8 236.5 1642.8 235.8 1644.8 235.1 1646.8 234.5 1648.8 233.9 1650.8 233.4 1652.9 232.9 1654.9 232.5 1656.9 232.1 1658.9 231.8 1660.9 231.4 1662.9 231.2 1664.9 230.9 1666.9 230.7 1668.9 230.5 1670.9 230.4 1672.9 230.2 1674.9 230.1 1676.9 230.1 1678.9 230.0 1681.0 229.9 1683.0 229.9 1685.0 229.9 1687.0 229.9 1689.0 229.9 1691.0 229.9 1693.0 229.9 1695.0 230.0 1697.0 230.0 1699.0 230.0 1701.0 230.0 1703.0 230.0 1705.0 230.1 1707.1 230.1 1709.1 230.1 1711.1 230.0 1713.1 230.0 1715.1 230.0 1717.1 229.9 1719.1 229.8 1721.1 229.7 1723.1 229.6 1725.1 229.4 1727.1 229.2 1729.1 229.0 1731.1 228.7 1733.2 228.4 1735.2 228.1 1737.2 227.7 1739.2 227.3 1741.2 226.9 1743.2 226.4 1745.2 225.8 1747.2 225.3 1749.2 224.6 1751.2 223.9 1753.2 223.2 1755.2 222.3 1757.2 221.4 1759.3 220.5 1761.3 219.4 1763.3 218.3 1765.3 217.1 1767.3 215.7 1769.3 214.3 1771.3 212.7 1773.3 211.1 1775.3 209.3 1777.3 207.3 1779.3 205.3 1781.3 203.1 1783.3 200.7 1785.4 198.2 1787.4 195.5 1789.4 192.6 1791.4 189.6 1793.4 186.4 1795.4 183.0 1797.4 179.4 1799.4 175.7 1801.4 171.7 1803.4 167.5 1805.4 163.1 1807.4 158.6 1809.4 153.9 1811.5 149.2 1813.5 144.3 1815.5 139.3 1817.5 134.2 1819.5 129.1 1821.5 124.0 1823.5 118.8 1825.5 113.7 1827.5 108.5 1829.5 103.4 1831.5 98.4 1833.5 93.4 1835.5 88.6 1837.6 83.8 1839.6 79.2 1841.6 74.8 1843.6 70.6 1845.6 66.7 1847.6 63.1 1849.6 59.8 1851.6 56.8 1853.6 54.2 1855.6 51.9 1857.6 49.9 1859.6 48.3 1861.6 46.9 1863.7 45.9 1865.7 45.2 1867.7 44.8 1869.7 44.7 1871.7 45.0 1873.7 45.5 1875.7 46.3 1877.7 47.4 1879.7 48.8 1881.7 50.5 1883.7 52.5 1885.7 54.7 1887.7 57.3 1889.8 60.1 1891.8 63.2 1893.8 66.6 1895.8 70.2 1897.8 74.1 1899.8 78.3 1901.8 82.7L1901.8 310.9 1899.8 307.6 1897.8 304.4 1895.8 301.5 1893.8 298.9 1891.8 296.4 1889.8 294.2 1887.7 292.1 1885.7 290.3 1883.7 288.6 1881.7 287.2 1879.7 285.9 1877.7 284.8 1875.7 283.9 1873.7 283.2 1871.7 282.6 1869.7 282.1 1867.7 281.9 1865.7 281.7 1863.7 281.7 1861.6 281.9 1859.6 282.1 1857.6 282.5 1855.6 283.0 1853.6 283.6 1851.6 284.4 1849.6 285.2 1847.6 286.1 1845.6 287.1 1843.6 288.2 1841.6 289.4 1839.6 290.6 1837.6 291.9 1835.5 293.3 1833.5 294.7 1831.5 296.2 1829.5 297.7 1827.5 299.3 1825.5 300.9 1823.5 302.5 1821.5 304.2 1819.5 305.8 1817.5 307.5 1815.5 309.2 1813.5 310.9 1811.5 312.5 1809.4 314.2 1807.4 315.9 1805.4 317.5 1803.4 319.1 1801.4 320.7 1799.4 322.2 1797.4 323.7 1795.4 325.1 1793.4 326.5 1791.4 327.8 1789.4 329.1 1787.4 330.3 1785.4 331.4 1783.3 332.6 1781.3 333.6 1779.3 334.7 1777.3 335.7 1775.3 336.7 1773.3 337.7 1771.3 338.7 1769.3 339.7 1767.3 340.7 1765.3 341.7 1763.3 342.7 1761.3 343.7 1759.3 344.8 1757.2 345.9 1755.2 347.0 1753.2 348.2 1751.2 349.4 1749.2 350.7 1747.2 352.0 1745.2 353.5 1743.2 354.9 1741.2 356.5 1739.2 358.1 1737.2 359.9 1735.2 361.7 1733.2 363.6 1731.1 365.6 1729.1 367.8 1727.1 370.1 1725.1 372.4 1723.1 374.9 1721.1 377.5 1719.1 380.2 1717.1 382.9 1715.1 385.8 1713.1 388.7 1711.1 391.6 1709.1 394.6 1707.1 397.6 1705.0 400.7 1703.0 403.7 1701.0 406.8 1699.0 409.9 1697.0 413.0 1695.0 416.0 1693.0 419.0 1691.0 422.0 1689.0 424.9 1687.0 427.8 1685.0 430.6 1683.0 433.4 1681.0 436.0 1678.9 438.6 1676.9 441.1 1674.9 443.4 1672.9 445.7 1670.9 447.8 1668.9 449.8 1666.9 451.6 1664.9 453.3 1662.9 454.8 1660.9 456.1 1658.9 457.3 1656.9 458.3 1654.9 459.2 1652.9 459.9 1650.8 460.4 1648.8 460.8 1646.8 461.0 1644.8 461.1 1642.8 461.0 1640.8 460.8 1638.8 460.5 1636.8 460.0 1634.8 459.3 1632.8 458.5 1630.8 457.6 1628.8 456.6 1626.8 455.4 1624.7 454.1 1622.7 452.6 1620.7 451.0 1618.7 449.3 1616.7 447.5 1614.7 445.6 1612.7 443.5 1610.7 441.3 1608.7 439.1 1606.7 436.7 1604.7 434.2 1602.7 431.7 1600.7 429.1 1598.6 426.5 1596.6 423.8 1594.6 421.1 1592.6 418.4 1590.6 415.7 1588.6 413.0 1586.6 410.4 1584.6 407.7 1582.6 405.1 1580.6 402.6 1578.6 400.1 1576.6 397.8 1574.6 395.5 1572.5 393.3 1570.5 391.2 1568.5 389.2 1566.5 387.4 1564.5 385.7 1562.5 384.2 1560.5 382.8 1558.5 381.4 1556.5 380.2 1554.5 379.1 1552.5 378.1 1550.5 377.1 1548.5 376.2 1546.4 375.4 1544.4 374.7 1542.4 374.0 1540.4 373.3 1538.4 372.7 1536.4 372.1 1534.4 371.6 1532.4 371.0 1530.4 370.4 1528.4 369.9 1526.4 369.3 1524.4 368.8 1522.4 368.2 1520.3 367.5 1518.3 366.9 1516.3 366.1 1514.3 365.4 1512.3 364.5 1510.3 363.7 1508.3 362.7 1506.3 361.7 1504.3 360.6 1502.3 359.5 1500.3 358.3 1498.3 357.1 1496.3 355.8 1494.2 354.4 1492.2 353.0 1490.2 351.5 1488.2 350.0 1486.2 348.4 1484.2 346.7 1482.2 345.0 1480.2 343.2 1478.2 341.4 1476.2 339.5 1474.2 337.6 1472.2 335.6 1470.2 333.5 1468.1 331.4 1466.1 329.2 1464.1 327.0 1462.1 324.7 1460.1 322.4 1458.1 320.0 1456.1 317.6Z" fill="#0072BD" fill-opacity="0.2" stroke="none"/>
<path d="M1456.1 136.5L1458.1 137.4 1460.1 138.3 1462.1 139.4 1464.1 140.6 1466.1 141.9 1468.1 143.4 1470.2 144.9 1472.2 146.5 1474.2 148.3 1476.2 150.1 1478.2 152.0 1480.2 154.1 1482.2 156.2 1484.2 158.5 1486.2 160.8 1488.2 163.2 1490.2 165.7 1492.2 168.3 1494.2 171.0 1496.3 173.7 1498.3 176.6 1500.3 179.5 1502.3 182.5 1504.3 185.6 1506.3 188.7 1508.3 192.0 1510.3 195.3 1512.3 198.6 1514.3 202.0 1516.3 205.5 1518.3 209.1 1520.3 212.7 1522.4 216.3 1524.4 220.0 1526.4 223.6 1528.4 227.3 1530.4 230.9 1532.4 234.5 1534.4 238.0 1536.4 241.6 1538.4 245.0 1540.4 248.4 1542.4 251.6 1544.4 254.8 1546.4 257.9 1548.5 260.8 1550.5 263.6 1552.5 266.2 1554.5 268.7 1556.5 271.0 1558.5 273.1 1560.5 275.0 1562.5 276.7 1564.5 278.2 1566.5 279.5 1568.5 280.5 1570.5 281.2 1572.5 281.7 1574.6 281.9 1576.6 281.7 1578.6 281.3 1580.6 280.4 1582.6 279.1 1584.6 277.4 1586.6 275.0 1588.6 272.1 1590.6 268.5 1592.6 264.2 1594.6 259.3 1596.6 254.0 1598.6 248.2 1600.7 242.0 1602.7 235.5 1604.7 229.0 1606.7 222.4 1608.7 215.9 1610.7 209.7 1612.7 203.8 1614.7 198.5 1616.7 193.6 1618.7 189.3 1620.7 185.4 1622.7 181.9 1624.7 178.9 1626.8 176.4 1628.8 174.2 1630.8 172.4 1632.8 171.0 1634.8 170.0 1636.8 169.4 1638.8 169.0 1640.8 169.0 1642.8 169.3 1644.8 169.9 1646.8 170.8 1648.8 171.9 1650.8 173.3 1652.9 174.9 1654.9 176.7 1656.9 178.7 1658.9 181.0 1660.9 183.4 1662.9 185.9 1664.9 188.6 1666.9 191.4 1668.9 194.3 1670.9 197.4 1672.9 200.5 1674.9 203.8 1676.9 207.1 1678.9 210.5 1681.0 214.0 1683.0 217.5 1685.0 221.0 1687.0 224.6 1689.0 228.2 1691.0 231.9 1693.0 235.5 1695.0 239.1 1697.0 242.8 1699.0 246.3 1701.0 249.9 1703.0 253.4 1705.0 256.9 1707.1 260.3 1709.1 263.6 1711.1 266.9 1713.1 270.1 1715.1 273.1 1717.1 276.0 1719.1 278.7 1721.1 281.3 1723.1 283.6 1725.1 285.7 1727.1 287.5 1729.1 289.0 1731.1 290.2 1733.2 291.2 1735.2 291.8 1737.2 292.1 1739.2 292.1 1741.2 291.9 1743.2 291.3 1745.2 290.5 1747.2 289.4 1749.2 288.0 1751.2 286.3 1753.2 284.3 1755.2 282.1 1757.2 279.6 1759.3 276.8 1761.3 273.8 1763.3 270.5 1765.3 266.9 1767.3 263.1 1769.3 259.0 1771.3 254.7 1773.3 250.1 1775.3 245.2 1777.3 240.2 1779.3 234.9 1781.3 229.4 1783.3 223.7 1785.4 217.9 1787.4 212.0 1789.4 206.1 1791.4 200.1 1793.4 194.0 1795.4 188.0 1797.4 182.0 1799.4 176.1 1801.4 170.2 1803.4 164.5 1805.4 158.9 1807.4 153.5 1809.4 148.3 1811.5 143.4 1813.5 138.7 1815.5 134.2 1817.5 130.1 1819.5 126.2 1821.5 122.7 1823.5 119.4 1825.5 116.3 1827.5 113.6 1829.5 111.1 1831.5 108.9 1833.5 106.9 1835.5 105.1 1837.6 103.6 1839.6 102.4 1841.6 101.4 1843.6 100.5 1845.6 99.9 1847.6 99.5 1849.6 99.3 1851.6 99.2 1853.6 99.3 1855.6 99.6 1857.6 100.0 1859.6 100.6 1861.6 101.3 1863.7 102.1 1865.7 103.0 1867.7 104.0 1869.7 105.1 1871.7 106.3 1873.7 107.6 1875.7 108.9 1877.7 110.3 1879.7 111.7 1881.7 113.2 1883.7 114.7 1885.7 116.4 1887.7 118.1 1889.8 120.0 1891.8 122.1 1893.8 124.2 1895.8 126.6 1897.8 129.2 1899.8 132.0 1901.8 135.0L1901.8 300.1 1899.8 298.5 1897.8 297.1 1895.8 295.7 1893.8 294.4 1891.8 293.3 1889.8 292.2 1887.7 291.2 1885.7 290.3 1883.7 289.5 1881.7 288.9 1879.7 288.3 1877.7 287.8 1875.7 287.4 1873.7 287.2 1871.7 287.0 1869.7 287.0 1867.7 287.1 1865.7 287.3 1863.7 287.6 1861.6 288.0 1859.6 288.6 1857.6 289.2 1855.6 290.0 1853.6 290.9 1851.6 292.0 1849.6 293.1 1847.6 294.4 1845.6 295.7 1843.6 297.1 1841.6 298.6 1839.6 300.2 1837.6 301.8 1835.5 303.5 1833.5 305.2 1831.5 306.9 1829.5 308.7 1827.5 310.5 1825.5 312.4 1823.5 314.2 1821.5 316.0 1819.5 317.7 1817.5 319.5 1815.5 321.2 1813.5 322.8 1811.5 324.4 1809.4 325.9 1807.4 327.3 1805.4 328.6 1803.4 329.8 1801.4 330.9 1799.4 331.9 1797.4 332.7 1795.4 333.4 1793.4 333.9 1791.4 334.3 1789.4 334.5 1787.4 334.5 1785.4 334.5 1783.3 334.3 1781.3 334.1 1779.3 333.7 1777.3 333.3 1775.3 332.9 1773.3 332.5 1771.3 332.1 1769.3 331.6 1767.3 331.3 1765.3 330.9 1763.3 330.7 1761.3 330.5 1759.3 330.5 1757.2 330.6 1755.2 330.7 1753.2 331.0 1751.2 331.4 1749.2 331.9 1747.2 332.5 1745.2 333.2 1743.2 333.9 1741.2 334.8 1739.2 335.7 1737.2 336.7 1735.2 337.8 1733.2 338.9 1731.1 340.1 1729.1 341.3 1727.1 342.6 1725.1 344.0 1723.1 345.4 1721.1 346.8 1719.1 348.3 1717.1 349.8 1715.1 351.3 1713.1 352.9 1711.1 354.6 1709.1 356.3 1707.1 358.0 1705.0 359.7 1703.0 361.5 1701.0 363.3 1699.0 365.2 1697.0 367.0 1695.0 369.0 1693.0 370.9 1691.0 372.9 1689.0 374.9 1687.0 376.9 1685.0 378.9 1683.0 381.0 1681.0 383.1 1678.9 385.2 1676.9 387.3 1674.9 389.5 1672.9 391.7 1670.9 393.9 1668.9 396.1 1666.9 398.3 1664.9 400.5 1662.9 402.8 1660.9 405.0 1658.9 407.3 1656.9 409.5 1654.9 411.8 1652.9 414.0 1650.8 416.2 1648.8 418.3 1646.8 420.5 1644.8 422.6 1642.8 424.6 1640.8 426.6 1638.8 428.5 1636.8 430.3 1634.8 432.1 1632.8 433.8 1630.8 435.4 1628.8 436.9 1626.8 438.2 1624.7 439.5 1622.7 440.7 1620.7 441.7 1618.7 442.6 1616.7 443.4 1614.7 444.1 1612.7 444.5 1610.7 444.9 1608.7 445.0 1606.7 445.0 1604.7 444.9 1602.7 444.5 1600.7 443.9 1598.6 443.2 1596.6 442.2 1594.6 441.1 1592.6 439.7 1590.6 438.1 1588.6 436.3 1586.6 434.2 1584.6 431.9 1582.6 429.4 1580.6 426.6 1578.6 423.7 1576.6 420.7 1574.6 417.6 1572.5 414.5 1570.5 411.5 1568.5 408.6 1566.5 405.8 1564.5 403.2 1562.5 400.7 1560.5 398.4 1558.5 396.2 1556.5 394.0 1554.5 392.0 1552.5 390.1 1550.5 388.2 1548.5 386.4 1546.4 384.7 1544.4 382.9 1542.4 381.2 1540.4 379.5 1538.4 377.8 1536.4 376.1 1534.4 374.3 1532.4 372.5 1530.4 370.6 1528.4 368.7 1526.4 366.6 1524.4 364.6 1522.4 362.4 1520.3 360.2 1518.3 357.9 1516.3 355.6 1514.3 353.2 1512.3 350.8 1510.3 348.3 1508.3 345.8 1506.3 343.2 1504.3 340.6 1502.3 338.0 1500.3 335.3 1498.3 332.7 1496.3 330.0 1494.2 327.2 1492.2 324.5 1490.2 321.7 1488.2 318.9 1486.2 316.2 1484.2 313.4 1482.2 310.6 1480.2 307.8 1478.2 305.0 1476.2 302.3 1474.2 299.5 1472.2 296.8 1470.2 294.0 1468.1 291.3 1466.1 288.6 1464.1 286.0 1462.1 283.4 1460.1 280.8 1458.1 278.2 1456.1 275.7Z" fill="#A2142F" fill-opacity="0.2" stroke="none"/>
<path d="M1456.1 77.5L1458.1 81.5 1460.1 85.3 1462.1 89.1 1464.1 92.8 1466.1 96.4 1468.1 100.0 1470.2 103.4 1472.2 106.8 1474.2 110.1 1476.2 113.4 1478.2 116.6 1480.2 119.8 1482.2 122.9 1484.2 125.9 1486.2 128.9 1488.2 131.9 1490.2 134.9 1492.2 137.8 1494.2 140.7 1496.3 143.6 1498.3 146.5 1500.3 149.4 1502.3 152.2 1504.3 155.1 1506.3 157.9 1508.3 160.8 1510.3 163.7 1512.3 166.6 1514.3 169.5 1516.3 172.5 1518.3 175.5 1520.3 178.5 1522.4 181.5 1524.4 184.6 1526.4 187.8 1528.4 191.0 1530.4 194.3 1532.4 197.7 1534.4 201.1 1536.4 204.6 1538.4 208.2 1540.4 212.0 1542.4 215.8 1544.4 219.7 1546.4 223.8 1548.5 228.0 1550.5 232.3 1552.5 236.8 1554.5 241.4 1556.5 246.2 1558.5 251.2 1560.5 256.3 1562.5 261.6 1564.5 267.0 1566.5 272.6 1568.5 278.3 1570.5 284.1 1572.5 290.0 1574.6 296.0 1576.6 302.0 1578.6 308.0 1580.6 314.0 1582.6 320.1 1584.6 326.1 1586.6 332.2 1588.6 338.2 1590.6 344.2 1592.6 350.1 1594.6 355.9 1596.6 361.7 1598.6 367.5 1600.7 373.1 1602.7 378.6 1604.7 384.1 1606.7 389.4 1608.7 394.6 1610.7 399.6 1612.7 404.5 1614.7 409.2 1616.7 413.8 1618.7 418.2 1620.7 422.3 1622.7 426.3 1624.7 430.1 1626.8 433.6 1628.8 437.0 1630.8 440.0 1632.8 442.9 1634.8 445.4 1636.8 447.7 1638.8 449.7 1640.8 451.4 1642.8 452.8 1644.8 454.0 1646.8 455.0 1648.8 455.6 1650.8 456.1 1652.9 456.3 1654.9 456.3 1656.9 456.1 1658.9 455.8 1660.9 455.2 1662.9 454.5 1664.9 453.6 1666.9 452.5 1668.9 451.3 1670.9 450.0 1672.9 448.6 1674.9 447.1 1676.9 445.4 1678.9 443.7 1681.0 441.8 1683.0 439.9 1685.0 437.9 1687.0 435.8 1689.0 433.7 1691.0 431.5 1693.0 429.2 1695.0 426.9 1697.0 424.5 1699.0 422.1 1701.0 419.6 1703.0 417.1 1705.0 414.5 1707.1 412.0 1709.1 409.4 1711.1 406.7 1713.1 404.1 1715.1 401.5 1717.1 398.8 1719.1 396.2 1721.1 393.5 1723.1 390.9 1725.1 388.3 1727.1 385.7 1729.1 383.1 1731.1 380.6 1733.2 378.1 1735.2 375.6 1737.2 373.0 1739.2 370.5 1741.2 367.9 1743.2 365.3 1745.2 362.7 1747.2 359.9 1749.2 357.1 1751.2 354.2 1753.2 351.2 1755.2 348.0 1757.2 344.8 1759.3 341.3 1761.3 337.7 1763.3 334.0 1765.3 330.0 1767.3 326.0 1769.3 321.7 1771.3 317.4 1773.3 312.8 1775.3 308.2 1777.3 303.4 1779.3 298.5 1781.3 293.4 1783.3 288.2 1785.4 282.9 1787.4 277.5 1789.4 272.0 1791.4 266.4 1793.4 260.7 1795.4 254.9 1797.4 249.0 1799.4 243.0 1801.4 236.9 1803.4 230.8 1805.4 224.5 1807.4 218.2 1809.4 211.9 1811.5 205.5 1813.5 199.0 1815.5 192.4 1817.5 185.9 1819.5 179.3 1821.5 172.8 1823.5 166.3 1825.5 159.9 1827.5 153.6 1829.5 147.5 1831.5 141.5 1833.5 135.7 1835.5 130.1 1837.6 124.8 1839.6 119.8 1841.6 115.0 1843.6 110.6 1845.6 106.6 1847.6 102.9 1849.6 99.7 1851.6 96.9 1853.6 94.5 1855.6 92.6 1857.6 91.1 1859.6 90.0 1861.6 89.3 1863.7 89.1 1865.7 89.2 1867.7 89.6 1869.7 90.4 1871.7 91.5 1873.7 92.9 1875.7 94.6 1877.7 96.5 1879.7 98.6 1881.7 100.8 1883.7 103.2 1885.7 105.7 1887.7 108.3 1889.8 110.9 1891.8 113.6 1893.8 116.3 1895.8 118.9 1897.8 121.5 1899.8 124.0 1901.8 126.4" fill="none" stroke="#0072BD" stroke-width="1.05" stroke-opacity="0.72"/>
<path d="M1456.1 127.8L1458.1 129.9 1460.1 132.2 1462.1 134.5 1464.1 137.0 1466.1 139.7 1468.1 142.5 1470.2 145.3 1472.2 148.3 1474.2 151.4 1476.2 154.6 1478.2 157.9 1480.2 161.2 1482.2 164.7 1484.2 168.2 1486.2 171.7 1488.2 175.4 1490.2 179.0 1492.2 182.8 1494.2 186.5 1496.3 190.3 1498.3 194.1 1500.3 198.0 1502.3 201.8 1504.3 205.7 1506.3 209.5 1508.3 213.3 1510.3 217.2 1512.3 221.0 1514.3 224.8 1516.3 228.5 1518.3 232.2 1520.3 235.9 1522.4 239.6 1524.4 243.2 1526.4 246.8 1528.4 250.4 1530.4 254.0 1532.4 257.6 1534.4 261.2 1536.4 264.8 1538.4 268.4 1540.4 272.0 1542.4 275.6 1544.4 279.3 1546.4 282.9 1548.5 286.6 1550.5 290.3 1552.5 294.0 1554.5 297.8 1556.5 301.6 1558.5 305.4 1560.5 309.3 1562.5 313.3 1564.5 317.3 1566.5 321.3 1568.5 325.4 1570.5 329.6 1572.5 333.7 1574.6 337.9 1576.6 342.1 1578.6 346.4 1580.6 350.7 1582.6 354.9 1584.6 359.2 1586.6 363.5 1588.6 367.7 1590.6 372.0 1592.6 376.2 1594.6 380.4 1596.6 384.6 1598.6 388.7 1600.7 392.9 1602.7 396.9 1604.7 400.9 1606.7 404.9 1608.7 408.8 1610.7 412.6 1612.7 416.4 1614.7 420.1 1616.7 423.7 1618.7 427.2 1620.7 430.7 1622.7 434.0 1624.7 437.3 1626.8 440.4 1628.8 443.4 1630.8 446.3 1632.8 449.1 1634.8 451.8 1636.8 454.3 1638.8 456.7 1640.8 458.8 1642.8 460.7 1644.8 462.3 1646.8 463.3 1648.8 463.7 1650.8 463.5 1652.9 462.5 1654.9 460.7 1656.9 457.9 1658.9 454.3 1660.9 450.1 1662.9 445.5 1664.9 440.5 1666.9 435.4 1668.9 430.4 1670.9 425.6 1672.9 421.2 1674.9 417.2 1676.9 413.5 1678.9 410.2 1681.0 407.1 1683.0 404.3 1685.0 401.8 1687.0 399.5 1689.0 397.4 1691.0 395.4 1693.0 393.5 1695.0 391.8 1697.0 390.1 1699.0 388.5 1701.0 386.8 1703.0 385.2 1705.0 383.5 1707.1 381.8 1709.1 380.0 1711.1 378.0 1713.1 375.9 1715.1 373.6 1717.1 371.1 1719.1 368.4 1721.1 365.4 1723.1 362.3 1725.1 359.1 1727.1 355.6 1729.1 352.1 1731.1 348.3 1733.2 344.5 1735.2 340.5 1737.2 336.5 1739.2 332.4 1741.2 328.1 1743.2 323.9 1745.2 319.5 1747.2 315.2 1749.2 310.8 1751.2 306.4 1753.2 301.9 1755.2 297.4 1757.2 292.9 1759.3 288.4 1761.3 283.8 1763.3 279.2 1765.3 274.6 1767.3 270.0 1769.3 265.4 1771.3 260.8 1773.3 256.1 1775.3 251.4 1777.3 246.7 1779.3 242.1 1781.3 237.4 1783.3 232.7 1785.4 228.0 1787.4 223.3 1789.4 218.6 1791.4 213.9 1793.4 209.2 1795.4 204.5 1797.4 199.9 1799.4 195.2 1801.4 190.6 1803.4 185.9 1805.4 181.3 1807.4 176.7 1809.4 172.1 1811.5 167.6 1813.5 163.0 1815.5 158.5 1817.5 154.0 1819.5 149.6 1821.5 145.2 1823.5 140.8 1825.5 136.4 1827.5 132.1 1829.5 127.9 1831.5 123.7 1833.5 119.7 1835.5 115.7 1837.6 111.7 1839.6 107.9 1841.6 104.3 1843.6 100.7 1845.6 97.2 1847.6 93.9 1849.6 90.8 1851.6 87.7 1853.6 84.9 1855.6 82.2 1857.6 79.7 1859.6 77.4 1861.6 75.2 1863.7 73.3 1865.7 71.6 1867.7 70.0 1869.7 68.8 1871.7 67.7 1873.7 66.9 1875.7 66.3 1877.7 66.0 1879.7 66.0 1881.7 66.2 1883.7 66.8 1885.7 67.6 1887.7 68.7 1889.8 70.1 1891.8 71.9 1893.8 73.9 1895.8 76.3 1897.8 79.0 1899.8 82.1 1901.8 85.6" fill="none" stroke="#0072BD" stroke-width="1.05" stroke-opacity="0.72"/>
<path d="M1456.1 254.2L1458.1 254.5 1460.1 254.7 1462.1 255.0 1464.1 255.3 1466.1 255.6 1468.1 255.9 1470.2 256.3 1472.2 256.7 1474.2 257.1 1476.2 257.6 1478.2 258.1 1480.2 258.7 1482.2 259.3 1484.2 259.9 1486.2 260.6 1488.2 261.3 1490.2 262.1 1492.2 262.9 1494.2 263.8 1496.3 264.7 1498.3 265.6 1500.3 266.6 1502.3 267.7 1504.3 268.8 1506.3 270.0 1508.3 271.3 1510.3 272.6 1512.3 273.9 1514.3 275.3 1516.3 276.8 1518.3 278.4 1520.3 280.0 1522.4 281.7 1524.4 283.5 1526.4 285.3 1528.4 287.2 1530.4 289.2 1532.4 291.2 1534.4 293.3 1536.4 295.5 1538.4 297.7 1540.4 300.0 1542.4 302.3 1544.4 304.7 1546.4 307.1 1548.5 309.5 1550.5 312.0 1552.5 314.5 1554.5 317.0 1556.5 319.5 1558.5 322.1 1560.5 324.7 1562.5 327.3 1564.5 329.9 1566.5 332.5 1568.5 335.2 1570.5 337.8 1572.5 340.4 1574.6 343.0 1576.6 345.6 1578.6 348.2 1580.6 350.8 1582.6 353.3 1584.6 355.8 1586.6 358.3 1588.6 360.8 1590.6 363.2 1592.6 365.6 1594.6 367.9 1596.6 370.2 1598.6 372.4 1600.7 374.6 1602.7 376.8 1604.7 378.9 1606.7 380.9 1608.7 382.9 1610.7 384.8 1612.7 386.6 1614.7 388.4 1616.7 390.1 1618.7 391.8 1620.7 393.4 1622.7 394.9 1624.7 396.3 1626.8 397.7 1628.8 399.1 1630.8 400.3 1632.8 401.5 1634.8 402.6 1636.8 403.6 1638.8 404.6 1640.8 405.5 1642.8 406.3 1644.8 407.0 1646.8 407.7 1648.8 408.3 1650.8 408.7 1652.9 409.2 1654.9 409.5 1656.9 409.7 1658.9 409.9 1660.9 410.0 1662.9 410.0 1664.9 409.9 1666.9 409.7 1668.9 409.5 1670.9 409.2 1672.9 408.9 1674.9 408.4 1676.9 408.0 1678.9 407.4 1681.0 406.9 1683.0 406.2 1685.0 405.6 1687.0 404.9 1689.0 404.2 1691.0 403.4 1693.0 402.7 1695.0 401.9 1697.0 401.1 1699.0 400.3 1701.0 399.5 1703.0 398.6 1705.0 397.8 1707.1 396.9 1709.1 396.0 1711.1 395.0 1713.1 394.0 1715.1 392.9 1717.1 391.8 1719.1 390.5 1721.1 389.1 1723.1 387.7 1725.1 386.1 1727.1 384.3 1729.1 382.5 1731.1 380.4 1733.2 378.2 1735.2 375.9 1737.2 373.3 1739.2 370.6 1741.2 367.6 1743.2 364.5 1745.2 361.1 1747.2 357.5 1749.2 353.6 1751.2 349.5 1753.2 345.2 1755.2 340.6 1757.2 335.8 1759.3 330.8 1761.3 325.5 1763.3 320.0 1765.3 314.2 1767.3 308.2 1769.3 301.9 1771.3 295.4 1773.3 288.7 1775.3 281.7 1777.3 274.4 1779.3 266.9 1781.3 259.2 1783.3 251.2 1785.4 243.0 1787.4 234.5 1789.4 225.7 1791.4 216.8 1793.4 207.7 1795.4 198.6 1797.4 189.8 1799.4 181.5 1801.4 173.7 1803.4 166.8 1805.4 160.8 1807.4 156.0 1809.4 152.6 1811.5 150.6 1813.5 149.9 1815.5 150.2 1817.5 151.6 1819.5 153.6 1821.5 156.3 1823.5 159.4 1825.5 162.7 1827.5 166.2 1829.5 169.8 1831.5 173.5 1833.5 177.3 1835.5 181.1 1837.6 185.0 1839.6 189.0 1841.6 192.9 1843.6 196.9 1845.6 200.9 1847.6 204.8 1849.6 208.8 1851.6 212.6 1853.6 216.5 1855.6 220.2 1857.6 223.9 1859.6 227.4 1861.6 230.9 1863.7 234.2 1865.7 237.4 1867.7 240.4 1869.7 243.2 1871.7 245.9 1873.7 248.3 1875.7 250.6 1877.7 252.6 1879.7 254.3 1881.7 255.8 1883.7 257.1 1885.7 258.0 1887.7 258.7 1889.8 259.0 1891.8 259.0 1893.8 258.7 1895.8 258.0 1897.8 256.9 1899.8 255.5 1901.8 253.6" fill="none" stroke="#0072BD" stroke-width="1.05" stroke-opacity="0.72"/>
<path d="M1456.1 373.8L1458.1 373.5 1460.1 373.3 1462.1 373.1 1464.1 372.9 1466.1 372.8 1468.1 372.7 1470.2 372.6 1472.2 372.5 1474.2 372.4 1476.2 372.3 1478.2 372.3 1480.2 372.1 1482.2 372.0 1484.2 371.9 1486.2 371.7 1488.2 371.5 1490.2 371.2 1492.2 370.9 1494.2 370.5 1496.3 370.1 1498.3 369.6 1500.3 369.1 1502.3 368.4 1504.3 367.7 1506.3 366.9 1508.3 366.0 1510.3 365.0 1512.3 363.9 1514.3 362.7 1516.3 361.4 1518.3 360.0 1520.3 358.4 1522.4 356.7 1524.4 354.9 1526.4 352.9 1528.4 350.7 1530.4 348.5 1532.4 346.1 1534.4 343.6 1536.4 340.9 1538.4 338.1 1540.4 335.3 1542.4 332.3 1544.4 329.2 1546.4 326.1 1548.5 322.9 1550.5 319.5 1552.5 316.2 1554.5 312.7 1556.5 309.2 1558.5 305.7 1560.5 302.1 1562.5 298.5 1564.5 294.8 1566.5 291.2 1568.5 287.5 1570.5 283.8 1572.5 280.1 1574.6 276.4 1576.6 272.7 1578.6 269.0 1580.6 265.3 1582.6 261.7 1584.6 258.1 1586.6 254.5 1588.6 251.0 1590.6 247.6 1592.6 244.2 1594.6 240.8 1596.6 237.6 1598.6 234.4 1600.7 231.3 1602.7 228.3 1604.7 225.4 1606.7 222.5 1608.7 219.8 1610.7 217.1 1612.7 214.5 1614.7 212.0 1616.7 209.6 1618.7 207.3 1620.7 205.0 1622.7 202.8 1624.7 200.7 1626.8 198.6 1628.8 196.7 1630.8 194.8 1632.8 192.9 1634.8 191.1 1636.8 189.4 1638.8 187.8 1640.8 186.2 1642.8 184.6 1644.8 183.1 1646.8 181.7 1648.8 180.3 1650.8 179.0 1652.9 177.8 1654.9 176.5 1656.9 175.4 1658.9 174.3 1660.9 173.2 1662.9 172.1 1664.9 171.2 1666.9 170.2 1668.9 169.3 1670.9 168.5 1672.9 167.7 1674.9 167.0 1676.9 166.3 1678.9 165.8 1681.0 165.4 1683.0 165.0 1685.0 164.8 1687.0 164.7 1689.0 164.7 1691.0 164.8 1693.0 165.0 1695.0 165.4 1697.0 165.8 1699.0 166.4 1701.0 167.0 1703.0 167.8 1705.0 168.7 1707.1 169.6 1709.1 170.7 1711.1 171.8 1713.1 173.0 1715.1 174.4 1717.1 175.8 1719.1 177.2 1721.1 178.8 1723.1 180.4 1725.1 182.1 1727.1 183.9 1729.1 185.8 1731.1 187.7 1733.2 189.7 1735.2 191.7 1737.2 193.8 1739.2 195.9 1741.2 198.1 1743.2 200.4 1745.2 202.7 1747.2 205.1 1749.2 207.4 1751.2 209.9 1753.2 212.4 1755.2 214.9 1757.2 217.4 1759.3 220.0 1761.3 222.6 1763.3 225.2 1765.3 227.9 1767.3 230.5 1769.3 233.2 1771.3 235.9 1773.3 238.7 1775.3 241.4 1777.3 244.1 1779.3 246.9 1781.3 249.6 1783.3 252.4 1785.4 255.1 1787.4 257.9 1789.4 260.6 1791.4 263.4 1793.4 266.1 1795.4 268.8 1797.4 271.5 1799.4 274.1 1801.4 276.8 1803.4 279.4 1805.4 282.0 1807.4 284.6 1809.4 287.1 1811.5 289.6 1813.5 292.1 1815.5 294.5 1817.5 296.9 1819.5 299.3 1821.5 301.6 1823.5 303.8 1825.5 306.0 1827.5 308.2 1829.5 310.3 1831.5 312.4 1833.5 314.4 1835.5 316.4 1837.6 318.4 1839.6 320.3 1841.6 322.2 1843.6 324.1 1845.6 325.9 1847.6 327.8 1849.6 329.5 1851.6 331.3 1853.6 333.0 1855.6 334.7 1857.6 336.4 1859.6 338.1 1861.6 339.7 1863.7 341.3 1865.7 342.9 1867.7 344.5 1869.7 346.1 1871.7 347.6 1873.7 349.2 1875.7 350.7 1877.7 352.3 1879.7 353.8 1881.7 355.3 1883.7 356.8 1885.7 358.3 1887.7 359.8 1889.8 361.3 1891.8 362.8 1893.8 364.3 1895.8 365.8 1897.8 367.3 1899.8 368.8 1901.8 370.4" fill="none" stroke="#0072BD" stroke-width="1.05" stroke-opacity="0.72"/>
<path d="M1456.1 299.8L1458.1 301.4 1460.1 303.1 1462.1 304.7 1464.1 306.4 1466.1 308.1 1468.1 309.8 1470.2 311.5 1472.2 313.2 1474.2 314.9 1476.2 316.7 1478.2 318.4 1480.2 320.1 1482.2 321.9 1484.2 323.6 1486.2 325.4 1488.2 327.2 1490.2 328.9 1492.2 330.7 1494.2 332.5 1496.3 334.3 1498.3 336.0 1500.3 337.8 1502.3 339.6 1504.3 341.4 1506.3 343.2 1508.3 345.0 1510.3 346.8 1512.3 348.6 1514.3 350.4 1516.3 352.2 1518.3 354.0 1520.3 355.8 1522.4 357.6 1524.4 359.4 1526.4 361.2 1528.4 363.0 1530.4 364.8 1532.4 366.6 1534.4 368.4 1536.4 370.2 1538.4 371.9 1540.4 373.7 1542.4 375.5 1544.4 377.2 1546.4 379.0 1548.5 380.7 1550.5 382.5 1552.5 384.2 1554.5 386.0 1556.5 387.7 1558.5 389.4 1560.5 391.1 1562.5 392.8 1564.5 394.5 1566.5 396.2 1568.5 397.8 1570.5 399.5 1572.5 401.1 1574.6 402.8 1576.6 404.4 1578.6 406.0 1580.6 407.6 1582.6 409.2 1584.6 410.8 1586.6 412.3 1588.6 413.9 1590.6 415.4 1592.6 417.0 1594.6 418.5 1596.6 420.0 1598.6 421.4 1600.7 422.9 1602.7 424.3 1604.7 425.7 1606.7 427.1 1608.7 428.5 1610.7 429.8 1612.7 431.1 1614.7 432.3 1616.7 433.5 1618.7 434.7 1620.7 435.7 1622.7 436.8 1624.7 437.7 1626.8 438.6 1628.8 439.4 1630.8 440.1 1632.8 440.7 1634.8 441.2 1636.8 441.7 1638.8 442.0 1640.8 442.2 1642.8 442.3 1644.8 442.4 1646.8 442.2 1648.8 442.0 1650.8 441.6 1652.9 441.1 1654.9 440.5 1656.9 439.8 1658.9 438.9 1660.9 437.9 1662.9 436.9 1664.9 435.7 1666.9 434.4 1668.9 433.0 1670.9 431.5 1672.9 429.9 1674.9 428.2 1676.9 426.5 1678.9 424.6 1681.0 422.7 1683.0 420.7 1685.0 418.6 1687.0 416.5 1689.0 414.3 1691.0 412.1 1693.0 409.7 1695.0 407.4 1697.0 405.0 1699.0 402.5 1701.0 400.0 1703.0 397.5 1705.0 394.9 1707.1 392.3 1709.1 389.6 1711.1 386.9 1713.1 384.2 1715.1 381.4 1717.1 378.6 1719.1 375.7 1721.1 372.8 1723.1 369.9 1725.1 366.9 1727.1 363.9 1729.1 360.9 1731.1 357.8 1733.2 354.6 1735.2 351.5 1737.2 348.2 1739.2 345.0 1741.2 341.7 1743.2 338.4 1745.2 335.0 1747.2 331.6 1749.2 328.2 1751.2 324.7 1753.2 321.2 1755.2 317.6 1757.2 314.0 1759.3 310.4 1761.3 306.7 1763.3 303.0 1765.3 299.2 1767.3 295.4 1769.3 291.6 1771.3 287.7 1773.3 283.8 1775.3 279.8 1777.3 275.9 1779.3 271.8 1781.3 267.8 1783.3 263.7 1785.4 259.5 1787.4 255.3 1789.4 251.1 1791.4 246.9 1793.4 242.6 1795.4 238.2 1797.4 233.9 1799.4 229.5 1801.4 225.0 1803.4 220.5 1805.4 216.0 1807.4 211.4 1809.4 206.8 1811.5 202.2 1813.5 197.5 1815.5 192.8 1817.5 188.0 1819.5 183.2 1821.5 178.4 1823.5 173.5 1825.5 168.6 1827.5 163.7 1829.5 158.7 1831.5 153.7 1833.5 148.6 1835.5 143.5 1837.6 138.4 1839.6 133.2 1841.6 128.0 1843.6 122.8 1845.6 117.7 1847.6 112.8 1849.6 108.0 1851.6 103.5 1853.6 99.3 1855.6 95.5 1857.6 92.2 1859.6 89.3 1861.6 86.8 1863.7 84.8 1865.7 83.3 1867.7 82.2 1869.7 81.6 1871.7 81.5 1873.7 81.7 1875.7 82.4 1877.7 83.5 1879.7 84.8 1881.7 86.5 1883.7 88.4 1885.7 90.5 1887.7 92.9 1889.8 95.4 1891.8 98.1 1893.8 100.8 1895.8 103.6 1897.8 106.5 1899.8 109.4 1901.8 112.2" fill="none" stroke="#0072BD" stroke-width="1.05" stroke-opacity="0.72"/>
<path d="M1456.1 232.0L1458.1 235.5 1460.1 239.0 1462.1 242.4 1464.1 245.8 1466.1 249.2 1468.1 252.5 1470.2 255.8 1472.2 259.1 1474.2 262.5 1476.2 265.8 1478.2 269.1 1480.2 272.5 1482.2 275.9 1484.2 279.3 1486.2 282.8 1488.2 286.4 1490.2 290.0 1492.2 293.7 1494.2 297.4 1496.3 301.3 1498.3 305.2 1500.3 309.3 1502.3 313.4 1504.3 317.7 1506.3 322.1 1508.3 326.7 1510.3 331.2 1512.3 335.8 1514.3 340.3 1516.3 344.7 1518.3 348.9 1520.3 353.0 1522.4 356.8 1524.4 360.2 1526.4 363.3 1528.4 366.0 1530.4 368.3 1532.4 370.0 1534.4 371.2 1536.4 371.7 1538.4 371.6 1540.4 370.8 1542.4 369.3 1544.4 367.1 1546.4 364.3 1548.5 360.7 1550.5 356.4 1552.5 351.4 1554.5 345.7 1556.5 339.3 1558.5 332.1 1560.5 324.3 1562.5 316.1 1564.5 307.7 1566.5 299.5 1568.5 291.6 1570.5 284.3 1572.5 277.9 1574.6 272.0 1576.6 266.4 1578.6 260.9 1580.6 255.0 1582.6 248.5 1584.6 241.1 1586.6 232.6 1588.6 223.0 1590.6 212.7 1592.6 201.8 1594.6 190.7 1596.6 179.5 1598.6 168.4 1600.7 157.8 1602.7 147.9 1604.7 138.8 1606.7 130.7 1608.7 123.3 1610.7 116.8 1612.7 111.0 1614.7 105.9 1616.7 101.6 1618.7 97.9 1620.7 94.9 1622.7 92.4 1624.7 90.5 1626.8 89.2 1628.8 88.3 1630.8 87.9 1632.8 87.9 1634.8 88.3 1636.8 89.0 1638.8 90.1 1640.8 91.5 1642.8 93.3 1644.8 95.4 1646.8 97.7 1648.8 100.4 1650.8 103.3 1652.9 106.5 1654.9 109.9 1656.9 113.6 1658.9 117.5 1660.9 121.6 1662.9 125.9 1664.9 130.4 1666.9 135.0 1668.9 139.8 1670.9 144.8 1672.9 149.8 1674.9 155.0 1676.9 160.3 1678.9 165.7 1681.0 171.2 1683.0 176.7 1685.0 182.3 1687.0 188.0 1689.0 193.7 1691.0 199.4 1693.0 205.1 1695.0 210.8 1697.0 216.6 1699.0 222.3 1701.0 228.1 1703.0 233.8 1705.0 239.5 1707.1 245.2 1709.1 250.9 1711.1 256.6 1713.1 262.1 1715.1 267.7 1717.1 273.2 1719.1 278.6 1721.1 284.0 1723.1 289.3 1725.1 294.5 1727.1 299.6 1729.1 304.6 1731.1 309.5 1733.2 314.4 1735.2 319.1 1737.2 323.7 1739.2 328.1 1741.2 332.5 1743.2 336.7 1745.2 340.7 1747.2 344.6 1749.2 348.4 1751.2 352.0 1753.2 355.4 1755.2 358.7 1757.2 361.8 1759.3 364.7 1761.3 367.5 1763.3 370.2 1765.3 372.6 1767.3 375.0 1769.3 377.1 1771.3 379.2 1773.3 381.0 1775.3 382.8 1777.3 384.4 1779.3 385.8 1781.3 387.1 1783.3 388.3 1785.4 389.3 1787.4 390.2 1789.4 390.9 1791.4 391.5 1793.4 392.0 1795.4 392.3 1797.4 392.5 1799.4 392.6 1801.4 392.5 1803.4 392.3 1805.4 392.0 1807.4 391.6 1809.4 391.0 1811.5 390.3 1813.5 389.5 1815.5 388.6 1817.5 387.5 1819.5 386.4 1821.5 385.1 1823.5 383.7 1825.5 382.2 1827.5 380.5 1829.5 378.8 1831.5 377.0 1833.5 375.1 1835.5 373.1 1837.6 371.1 1839.6 368.9 1841.6 366.8 1843.6 364.6 1845.6 362.4 1847.6 360.1 1849.6 357.8 1851.6 355.5 1853.6 353.3 1855.6 351.0 1857.6 348.7 1859.6 346.5 1861.6 344.3 1863.7 342.2 1865.7 340.1 1867.7 338.0 1869.7 336.1 1871.7 334.2 1873.7 332.4 1875.7 330.7 1877.7 329.1 1879.7 327.6 1881.7 326.2 1883.7 325.0 1885.7 323.9 1887.7 322.9 1889.8 322.1 1891.8 321.5 1893.8 321.0 1895.8 320.7 1897.8 320.6 1899.8 320.7 1901.8 321.0" fill="none" stroke="#A2142F" stroke-width="1.05" stroke-opacity="0.72"/>
<path d="M1456.1 157.0L1458.1 158.9 1460.1 160.9 1462.1 163.1 1464.1 165.3 1466.1 167.5 1468.1 169.9 1470.2 172.4 1472.2 174.9 1474.2 177.5 1476.2 180.2 1478.2 182.9 1480.2 185.7 1482.2 188.6 1484.2 191.5 1486.2 194.5 1488.2 197.5 1490.2 200.6 1492.2 203.7 1494.2 206.9 1496.3 210.1 1498.3 213.5 1500.3 217.1 1502.3 220.9 1504.3 224.8 1506.3 228.8 1508.3 233.0 1510.3 237.2 1512.3 241.5 1514.3 245.8 1516.3 250.0 1518.3 254.3 1520.3 258.5 1522.4 262.5 1524.4 266.5 1526.4 270.4 1528.4 274.2 1530.4 278.1 1532.4 282.0 1534.4 285.9 1536.4 289.8 1538.4 293.6 1540.4 297.5 1542.4 301.3 1544.4 305.1 1546.4 308.9 1548.5 312.5 1550.5 316.1 1552.5 319.7 1554.5 323.1 1556.5 326.4 1558.5 329.6 1560.5 332.7 1562.5 335.7 1564.5 338.6 1566.5 341.4 1568.5 344.3 1570.5 347.2 1572.5 350.1 1574.6 352.9 1576.6 355.6 1578.6 358.3 1580.6 361.0 1582.6 363.5 1584.6 365.9 1586.6 368.3 1588.6 370.5 1590.6 372.5 1592.6 374.5 1594.6 376.2 1596.6 377.8 1598.6 379.2 1600.7 380.4 1602.7 381.5 1604.7 382.7 1606.7 383.8 1608.7 384.9 1610.7 385.9 1612.7 387.0 1614.7 388.0 1616.7 388.9 1618.7 389.8 1620.7 390.7 1622.7 391.5 1624.7 392.2 1626.8 392.8 1628.8 393.4 1630.8 393.9 1632.8 394.3 1634.8 394.6 1636.8 394.9 1638.8 395.0 1640.8 395.0 1642.8 394.9 1644.8 394.7 1646.8 394.4 1648.8 394.0 1650.8 393.5 1652.9 392.9 1654.9 392.2 1656.9 391.5 1658.9 390.7 1660.9 389.8 1662.9 388.9 1664.9 388.0 1666.9 387.0 1668.9 386.0 1670.9 384.9 1672.9 383.9 1674.9 382.8 1676.9 381.7 1678.9 380.6 1681.0 379.5 1683.0 378.3 1685.0 376.9 1687.0 375.5 1689.0 374.0 1691.0 372.4 1693.0 370.6 1695.0 368.8 1697.0 366.9 1699.0 364.9 1701.0 362.9 1703.0 360.7 1705.0 358.5 1707.1 356.2 1709.1 353.8 1711.1 351.4 1713.1 348.9 1715.1 346.4 1717.1 343.8 1719.1 341.2 1721.1 338.5 1723.1 335.6 1725.1 332.4 1727.1 329.1 1729.1 325.5 1731.1 321.8 1733.2 318.0 1735.2 314.0 1737.2 309.9 1739.2 305.7 1741.2 301.4 1743.2 297.0 1745.2 292.6 1747.2 288.1 1749.2 283.7 1751.2 279.2 1753.2 274.7 1755.2 270.3 1757.2 265.9 1759.3 261.6 1761.3 257.3 1763.3 253.0 1765.3 248.6 1767.3 244.1 1769.3 239.5 1771.3 235.0 1773.3 230.4 1775.3 225.7 1777.3 221.1 1779.3 216.4 1781.3 211.8 1783.3 207.1 1785.4 202.5 1787.4 197.9 1789.4 193.3 1791.4 188.7 1793.4 184.3 1795.4 179.9 1797.4 175.5 1799.4 171.2 1801.4 166.9 1803.4 162.2 1805.4 157.2 1807.4 152.0 1809.4 146.7 1811.5 141.5 1813.5 136.5 1815.5 131.7 1817.5 127.4 1819.5 123.5 1821.5 120.4 1823.5 118.0 1825.5 116.4 1827.5 115.9 1829.5 116.1 1831.5 116.5 1833.5 117.2 1835.5 118.2 1837.6 119.3 1839.6 120.7 1841.6 122.2 1843.6 123.9 1845.6 125.7 1847.6 127.6 1849.6 129.5 1851.6 131.6 1853.6 133.6 1855.6 135.6 1857.6 137.7 1859.6 139.7 1861.6 141.6 1863.7 143.7 1865.7 145.9 1867.7 148.2 1869.7 150.5 1871.7 153.0 1873.7 155.6 1875.7 158.2 1877.7 161.0 1879.7 163.8 1881.7 166.7 1883.7 169.7 1885.7 172.8 1887.7 175.9 1889.8 179.2 1891.8 182.5 1893.8 185.8 1895.8 189.3 1897.8 192.8 1899.8 196.4 1901.8 200.0" fill="none" stroke="#A2142F" stroke-width="1.05" stroke-opacity="0.72"/>
<path d="M1456.1 175.0L1458.1 178.1 1460.1 181.3 1462.1 184.5 1464.1 187.7 1466.1 190.9 1468.1 194.1 1470.2 197.3 1472.2 200.6 1474.2 203.8 1476.2 207.1 1478.2 210.4 1480.2 213.7 1482.2 217.0 1484.2 220.3 1486.2 223.7 1488.2 227.0 1490.2 230.4 1492.2 233.8 1494.2 237.2 1496.3 240.7 1498.3 244.2 1500.3 247.7 1502.3 251.2 1504.3 254.7 1506.3 258.3 1508.3 261.9 1510.3 265.4 1512.3 269.0 1514.3 272.6 1516.3 276.1 1518.3 279.7 1520.3 283.2 1522.4 286.8 1524.4 290.3 1526.4 293.8 1528.4 297.2 1530.4 300.7 1532.4 304.1 1534.4 307.6 1536.4 311.1 1538.4 314.7 1540.4 318.2 1542.4 321.8 1544.4 325.3 1546.4 328.7 1548.5 332.1 1550.5 335.5 1552.5 338.7 1554.5 341.9 1556.5 345.0 1558.5 347.9 1560.5 350.7 1562.5 353.6 1564.5 356.6 1566.5 359.7 1568.5 362.9 1570.5 366.0 1572.5 369.1 1574.6 372.0 1576.6 374.8 1578.6 377.3 1580.6 379.6 1582.6 381.5 1584.6 383.1 1586.6 384.2 1588.6 384.9 1590.6 385.0 1592.6 384.3 1594.6 383.0 1596.6 381.0 1598.6 378.4 1600.7 375.5 1602.7 372.1 1604.7 368.4 1606.7 364.6 1608.7 360.6 1610.7 356.6 1612.7 352.6 1614.7 348.8 1616.7 345.2 1618.7 341.9 1620.7 339.0 1622.7 336.0 1624.7 332.9 1626.8 329.7 1628.8 326.5 1630.8 323.3 1632.8 320.1 1634.8 317.0 1636.8 314.0 1638.8 311.2 1640.8 308.6 1642.8 306.2 1644.8 304.0 1646.8 302.2 1648.8 300.7 1650.8 299.6 1652.9 298.5 1654.9 297.5 1656.9 296.5 1658.9 295.5 1660.9 294.7 1662.9 293.8 1664.9 293.0 1666.9 292.3 1668.9 291.7 1670.9 291.2 1672.9 290.7 1674.9 290.4 1676.9 290.1 1678.9 290.0 1681.0 290.0 1683.0 290.2 1685.0 290.4 1687.0 290.8 1689.0 291.3 1691.0 291.9 1693.0 292.5 1695.0 293.2 1697.0 293.9 1699.0 294.6 1701.0 295.4 1703.0 296.1 1705.0 296.9 1707.1 297.5 1709.1 298.2 1711.1 298.7 1713.1 299.2 1715.1 299.6 1717.1 299.8 1719.1 300.0 1721.1 300.0 1723.1 299.8 1725.1 299.5 1727.1 299.1 1729.1 298.5 1731.1 297.8 1733.2 297.0 1735.2 296.1 1737.2 295.1 1739.2 294.0 1741.2 292.9 1743.2 291.7 1745.2 290.4 1747.2 289.1 1749.2 287.7 1751.2 286.3 1753.2 284.9 1755.2 283.4 1757.2 282.0 1759.3 280.5 1761.3 279.1 1763.3 277.4 1765.3 275.6 1767.3 273.6 1769.3 271.4 1771.3 269.1 1773.3 266.7 1775.3 264.2 1777.3 261.6 1779.3 258.9 1781.3 256.2 1783.3 253.4 1785.4 250.5 1787.4 247.7 1789.4 244.8 1791.4 241.9 1793.4 239.1 1795.4 236.3 1797.4 233.5 1799.4 230.8 1801.4 228.1 1803.4 225.3 1805.4 222.3 1807.4 219.2 1809.4 216.0 1811.5 212.7 1813.5 209.4 1815.5 206.0 1817.5 202.6 1819.5 199.2 1821.5 195.8 1823.5 192.5 1825.5 189.2 1827.5 185.9 1829.5 182.8 1831.5 179.7 1833.5 176.8 1835.5 174.0 1837.6 171.4 1839.6 169.0 1841.6 166.8 1843.6 164.7 1845.6 163.0 1847.6 161.5 1849.6 160.2 1851.6 159.2 1853.6 158.2 1855.6 157.2 1857.6 156.2 1859.6 155.2 1861.6 154.3 1863.7 153.4 1865.7 152.5 1867.7 151.7 1869.7 150.9 1871.7 150.2 1873.7 149.5 1875.7 148.8 1877.7 148.2 1879.7 147.7 1881.7 147.2 1883.7 146.8 1885.7 146.4 1887.7 146.1 1889.8 145.9 1891.8 145.8 1893.8 145.7 1895.8 145.8 1897.8 146.1 1899.8 146.5 1901.8 147.0" fill="none" stroke="#A2142F" stroke-width="1.05" stroke-opacity="0.72"/>
<path d="M1456.1 200.0L1458.1 202.7 1460.1 205.5 1462.1 208.3 1464.1 211.1 1466.1 213.9 1468.1 216.8 1470.2 219.7 1472.2 222.6 1474.2 225.6 1476.2 228.6 1478.2 231.6 1480.2 234.7 1482.2 237.8 1484.2 240.9 1486.2 244.0 1488.2 247.2 1490.2 250.4 1492.2 253.6 1494.2 256.9 1496.3 260.2 1498.3 263.5 1500.3 266.9 1502.3 270.3 1504.3 273.7 1506.3 277.2 1508.3 280.7 1510.3 284.2 1512.3 287.7 1514.3 291.3 1516.3 294.9 1518.3 298.5 1520.3 302.2 1522.4 305.8 1524.4 309.5 1526.4 313.2 1528.4 317.0 1530.4 320.7 1532.4 324.6 1534.4 328.7 1536.4 332.9 1538.4 337.2 1540.4 341.6 1542.4 346.1 1544.4 350.6 1546.4 355.1 1548.5 359.5 1550.5 363.8 1552.5 368.1 1554.5 372.2 1556.5 376.1 1558.5 379.8 1560.5 383.2 1562.5 386.4 1564.5 389.3 1566.5 392.0 1568.5 394.8 1570.5 397.6 1572.5 400.3 1574.6 403.1 1576.6 405.7 1578.6 408.2 1580.6 410.6 1582.6 412.8 1584.6 414.8 1586.6 416.5 1588.6 417.9 1590.6 419.0 1592.6 419.7 1594.6 420.0 1596.6 419.9 1598.6 419.7 1600.7 419.2 1602.7 418.6 1604.7 417.8 1606.7 416.9 1608.7 415.9 1610.7 414.7 1612.7 413.4 1614.7 412.1 1616.7 410.6 1618.7 409.1 1620.7 407.6 1622.7 406.0 1624.7 404.3 1626.8 402.7 1628.8 401.0 1630.8 399.3 1632.8 397.4 1634.8 395.0 1636.8 392.4 1638.8 389.4 1640.8 386.3 1642.8 383.0 1644.8 379.6 1646.8 376.2 1648.8 372.7 1650.8 369.2 1652.9 365.9 1654.9 362.6 1656.9 359.6 1658.9 356.7 1660.9 354.2 1662.9 351.9 1664.9 350.1 1666.9 348.5 1668.9 347.0 1670.9 345.6 1672.9 344.3 1674.9 343.0 1676.9 341.8 1678.9 340.7 1681.0 339.6 1683.0 338.5 1685.0 337.5 1687.0 336.5 1689.0 335.5 1691.0 334.5 1693.0 333.6 1695.0 332.6 1697.0 331.6 1699.0 330.5 1701.0 329.5 1703.0 328.4 1705.0 327.5 1707.1 326.6 1709.1 325.7 1711.1 324.8 1713.1 324.0 1715.1 323.1 1717.1 322.3 1719.1 321.5 1721.1 320.6 1723.1 319.7 1725.1 318.8 1727.1 317.8 1729.1 316.8 1731.1 315.7 1733.2 314.6 1735.2 313.3 1737.2 312.0 1739.2 310.6 1741.2 309.1 1743.2 307.3 1745.2 305.2 1747.2 302.9 1749.2 300.5 1751.2 297.8 1753.2 294.9 1755.2 291.9 1757.2 288.8 1759.3 285.6 1761.3 282.2 1763.3 278.8 1765.3 275.3 1767.3 271.8 1769.3 268.3 1771.3 264.8 1773.3 261.3 1775.3 257.8 1777.3 254.4 1779.3 251.1 1781.3 247.8 1783.3 244.4 1785.4 241.0 1787.4 237.5 1789.4 233.8 1791.4 230.2 1793.4 226.5 1795.4 222.8 1797.4 219.0 1799.4 215.3 1801.4 211.6 1803.4 207.9 1805.4 204.2 1807.4 200.6 1809.4 197.1 1811.5 193.6 1813.5 190.2 1815.5 186.9 1817.5 183.8 1819.5 180.8 1821.5 177.8 1823.5 174.7 1825.5 171.4 1827.5 168.1 1829.5 164.8 1831.5 161.4 1833.5 158.1 1835.5 154.7 1837.6 151.5 1839.6 148.4 1841.6 145.4 1843.6 142.6 1845.6 140.0 1847.6 137.6 1849.6 135.5 1851.6 133.6 1853.6 132.2 1855.6 131.0 1857.6 130.3 1859.6 130.0 1861.6 130.0 1863.7 130.1 1865.7 130.2 1867.7 130.4 1869.7 130.7 1871.7 131.1 1873.7 131.6 1875.7 132.3 1877.7 133.0 1879.7 133.9 1881.7 134.9 1883.7 136.0 1885.7 137.4 1887.7 138.9 1889.8 140.6 1891.8 142.4 1893.8 144.5 1895.8 146.8 1897.8 149.3 1899.8 152.0 1901.8 155.0" fill="none" stroke="#A2142F" stroke-width="1.05" stroke-opacity="0.72"/>
<path d="M1456.1 220.0L1458.1 221.9 1460.1 223.9 1462.1 225.9 1464.1 227.9 1466.1 230.0 1468.1 232.1 1470.2 234.3 1472.2 236.5 1474.2 238.7 1476.2 241.0 1478.2 243.2 1480.2 245.6 1482.2 247.9 1484.2 250.3 1486.2 252.7 1488.2 255.1 1490.2 257.6 1492.2 260.1 1494.2 262.6 1496.3 265.2 1498.3 267.8 1500.3 270.3 1502.3 273.1 1504.3 275.9 1506.3 278.9 1508.3 282.1 1510.3 285.3 1512.3 288.6 1514.3 291.9 1516.3 295.3 1518.3 298.7 1520.3 302.1 1522.4 305.4 1524.4 308.7 1526.4 311.9 1528.4 315.0 1530.4 318.0 1532.4 320.8 1534.4 323.5 1536.4 326.0 1538.4 328.3 1540.4 330.4 1542.4 332.5 1544.4 334.5 1546.4 336.6 1548.5 338.7 1550.5 340.8 1552.5 342.8 1554.5 344.8 1556.5 346.8 1558.5 348.7 1560.5 350.4 1562.5 352.1 1564.5 353.7 1566.5 355.1 1568.5 356.4 1570.5 357.5 1572.5 358.4 1574.6 359.1 1576.6 359.6 1578.6 359.9 1580.6 360.0 1582.6 359.9 1584.6 359.7 1586.6 359.3 1588.6 358.9 1590.6 358.4 1592.6 357.7 1594.6 357.0 1596.6 356.3 1598.6 355.4 1600.7 354.6 1602.7 353.6 1604.7 352.7 1606.7 351.7 1608.7 350.7 1610.7 349.6 1612.7 348.6 1614.7 347.6 1616.7 346.6 1618.7 345.6 1620.7 344.7 1622.7 343.6 1624.7 342.6 1626.8 341.4 1628.8 340.3 1630.8 339.0 1632.8 337.7 1634.8 336.4 1636.8 335.1 1638.8 333.8 1640.8 332.4 1642.8 331.0 1644.8 329.6 1646.8 328.3 1648.8 326.9 1650.8 325.6 1652.9 324.3 1654.9 323.0 1656.9 321.8 1658.9 320.6 1660.9 319.5 1662.9 318.3 1664.9 317.1 1666.9 315.8 1668.9 314.5 1670.9 313.1 1672.9 311.8 1674.9 310.5 1676.9 309.1 1678.9 307.9 1681.0 306.6 1683.0 305.5 1685.0 304.4 1687.0 303.4 1689.0 302.5 1691.0 301.7 1693.0 301.1 1695.0 300.6 1697.0 300.2 1699.0 300.0 1701.0 300.0 1703.0 300.0 1705.0 300.0 1707.1 300.0 1709.1 300.0 1711.1 300.0 1713.1 300.0 1715.1 300.0 1717.1 300.0 1719.1 300.0 1721.1 300.0 1723.1 300.0 1725.1 300.0 1727.1 300.0 1729.1 300.0 1731.1 299.9 1733.2 299.6 1735.2 298.9 1737.2 297.9 1739.2 296.6 1741.2 295.1 1743.2 293.3 1745.2 291.4 1747.2 289.2 1749.2 286.9 1751.2 284.5 1753.2 282.0 1755.2 279.4 1757.2 276.7 1759.3 274.0 1761.3 271.3 1763.3 268.6 1765.3 265.9 1767.3 263.4 1769.3 260.9 1771.3 258.4 1773.3 255.9 1775.3 253.2 1777.3 250.4 1779.3 247.6 1781.3 244.6 1783.3 241.6 1785.4 238.6 1787.4 235.5 1789.4 232.3 1791.4 229.1 1793.4 225.9 1795.4 222.7 1797.4 219.5 1799.4 216.3 1801.4 213.1 1803.4 210.0 1805.4 206.9 1807.4 203.8 1809.4 200.8 1811.5 197.8 1813.5 194.7 1815.5 191.4 1817.5 188.0 1819.5 184.5 1821.5 181.0 1823.5 177.5 1825.5 174.0 1827.5 170.7 1829.5 167.4 1831.5 164.3 1833.5 161.3 1835.5 158.6 1837.6 156.2 1839.6 154.0 1841.6 152.2 1843.6 150.8 1845.6 149.7 1847.6 148.8 1849.6 147.9 1851.6 147.0 1853.6 146.1 1855.6 145.3 1857.6 144.6 1859.6 143.9 1861.6 143.2 1863.7 142.6 1865.7 142.0 1867.7 141.5 1869.7 141.1 1871.7 140.7 1873.7 140.4 1875.7 140.2 1877.7 140.1 1879.7 140.0 1881.7 140.2 1883.7 141.0 1885.7 142.4 1887.7 144.2 1889.8 146.4 1891.8 149.0 1893.8 151.9 1895.8 155.0 1897.8 158.2 1899.8 161.6 1901.8 165.0" fill="none" stroke="#A2142F" stroke-width="1.05" stroke-opacity="0.72"/>
<path d="M1456.1 262.0L1458.1 264.4 1460.1 266.7 1462.1 269.1 1464.1 271.4 1466.1 273.7 1468.1 276.0 1470.2 278.3 1472.2 280.5 1474.2 282.8 1476.2 285.0 1478.2 287.3 1480.2 289.5 1482.2 291.6 1484.2 293.8 1486.2 296.0 1488.2 298.1 1490.2 300.2 1492.2 302.3 1494.2 304.2 1496.3 306.0 1498.3 307.7 1500.3 309.4 1502.3 311.1 1504.3 312.8 1506.3 314.6 1508.3 316.4 1510.3 318.4 1512.3 320.4 1514.3 322.6 1516.3 325.0 1518.3 327.7 1520.3 330.5 1522.4 333.9 1524.4 337.9 1526.4 342.4 1528.4 347.3 1530.4 352.5 1532.4 358.1 1534.4 363.7 1536.4 369.5 1538.4 375.3 1540.4 380.9 1542.4 386.6 1544.4 392.8 1546.4 399.3 1548.5 405.7 1550.5 411.6 1552.5 416.9 1554.5 421.8 1556.5 427.0 1558.5 432.2 1560.5 437.2 1562.5 441.8 1564.5 445.8 1566.5 449.0 1568.5 451.2 1570.5 452.2 1572.5 451.9 1574.6 450.5 1576.6 448.3 1578.6 445.4 1580.6 442.0 1582.6 438.2 1584.6 434.3 1586.6 430.4 1588.6 425.7 1590.6 420.0 1592.6 413.7 1594.6 406.9 1596.6 400.0 1598.6 392.9 1600.7 385.1 1602.7 376.9 1604.7 368.4 1606.7 360.1 1608.7 352.2 1610.7 344.3 1612.7 336.3 1614.7 328.5 1616.7 321.2 1618.7 314.6 1620.7 308.8 1622.7 303.4 1624.7 298.2 1626.8 293.5 1628.8 289.3 1630.8 285.8 1632.8 283.0 1634.8 280.5 1636.8 278.1 1638.8 276.0 1640.8 274.0 1642.8 272.3 1644.8 270.7 1646.8 269.5 1648.8 268.5 1650.8 267.7 1652.9 267.0 1654.9 266.4 1656.9 265.8 1658.9 265.2 1660.9 264.7 1662.9 264.2 1664.9 263.7 1666.9 263.3 1668.9 263.0 1670.9 262.7 1672.9 262.4 1674.9 262.2 1676.9 262.1 1678.9 262.0 1681.0 262.0 1683.0 262.3 1685.0 262.9 1687.0 263.6 1689.0 264.6 1691.0 265.7 1693.0 267.0 1695.0 268.3 1697.0 269.8 1699.0 271.3 1701.0 272.8 1703.0 274.3 1705.0 275.7 1707.1 277.1 1709.1 278.3 1711.1 279.5 1713.1 280.4 1715.1 281.2 1717.1 281.7 1719.1 282.0 1721.1 282.0 1723.1 281.8 1725.1 281.5 1727.1 281.1 1729.1 280.6 1731.1 280.0 1733.2 279.2 1735.2 278.3 1737.2 277.4 1739.2 276.4 1741.2 275.2 1743.2 274.0 1745.2 272.8 1747.2 271.5 1749.2 270.1 1751.2 268.6 1753.2 267.2 1755.2 265.7 1757.2 264.1 1759.3 262.6 1761.3 260.9 1763.3 258.9 1765.3 256.5 1767.3 253.7 1769.3 250.7 1771.3 247.3 1773.3 243.7 1775.3 240.0 1777.3 236.0 1779.3 231.9 1781.3 227.7 1783.3 223.5 1785.4 219.2 1787.4 214.9 1789.4 210.6 1791.4 206.4 1793.4 202.3 1795.4 198.4 1797.4 194.6 1799.4 191.0 1801.4 187.5 1803.4 183.9 1805.4 180.0 1807.4 176.0 1809.4 171.9 1811.5 167.7 1813.5 163.4 1815.5 159.2 1817.5 155.0 1819.5 150.8 1821.5 146.8 1823.5 142.9 1825.5 139.2 1827.5 135.7 1829.5 132.5 1831.5 129.6 1833.5 127.0 1835.5 124.7 1837.6 122.9 1839.6 121.6 1841.6 120.7 1843.6 120.3 1845.6 120.4 1847.6 120.6 1849.6 121.1 1851.6 121.7 1853.6 122.5 1855.6 123.3 1857.6 124.3 1859.6 125.4 1861.6 126.6 1863.7 127.9 1865.7 129.1 1867.7 130.5 1869.7 131.8 1871.7 133.2 1873.7 134.8 1875.7 136.6 1877.7 138.7 1879.7 140.9 1881.7 143.3 1883.7 145.8 1885.7 148.6 1887.7 151.4 1889.8 154.4 1891.8 157.6 1893.8 160.9 1895.8 164.3 1897.8 167.7 1899.8 171.3 1901.8 175.0" fill="none" stroke="#A2142F" stroke-width="1.05" stroke-opacity="0.72"/>
<path d="M1456.1 199.3L1458.1 202.1 1460.1 204.9 1462.1 207.7 1464.1 210.5 1466.1 213.3 1468.1 216.0 1470.2 218.8 1472.2 221.5 1474.2 224.3 1476.2 227.0 1478.2 229.7 1480.2 232.4 1482.2 235.1 1484.2 237.8 1486.2 240.4 1488.2 243.0 1490.2 245.7 1492.2 248.3 1494.2 250.9 1496.3 253.4 1498.3 256.0 1500.3 258.5 1502.3 261.0 1504.3 263.5 1506.3 266.0 1508.3 268.4 1510.3 270.9 1512.3 273.3 1514.3 275.7 1516.3 278.0 1518.3 280.4 1520.3 282.7 1522.4 284.9 1524.4 287.2 1526.4 289.4 1528.4 291.6 1530.4 293.8 1532.4 296.0 1534.4 298.1 1536.4 300.2 1538.4 302.3 1540.4 304.3 1542.4 306.3 1544.4 308.3 1546.4 310.2 1548.5 312.1 1550.5 314.0 1552.5 315.8 1554.5 317.6 1556.5 319.4 1558.5 321.1 1560.5 322.8 1562.5 324.4 1564.5 326.1 1566.5 327.6 1568.5 329.2 1570.5 330.7 1572.5 332.2 1574.6 333.6 1576.6 335.0 1578.6 336.3 1580.6 337.6 1582.6 338.9 1584.6 340.1 1586.6 341.2 1588.6 342.3 1590.6 343.4 1592.6 344.4 1594.6 345.4 1596.6 346.3 1598.6 347.2 1600.7 348.0 1602.7 348.8 1604.7 349.5 1606.7 350.1 1608.7 350.7 1610.7 351.3 1612.7 351.7 1614.7 352.2 1616.7 352.5 1618.7 352.8 1620.7 353.0 1622.7 353.2 1624.7 353.3 1626.8 353.3 1628.8 353.2 1630.8 353.1 1632.8 352.9 1634.8 352.7 1636.8 352.4 1638.8 352.0 1640.8 351.5 1642.8 350.9 1644.8 350.3 1646.8 349.6 1648.8 348.8 1650.8 348.0 1652.9 347.1 1654.9 346.1 1656.9 345.1 1658.9 344.1 1660.9 343.0 1662.9 341.9 1664.9 340.7 1666.9 339.5 1668.9 338.3 1670.9 337.1 1672.9 335.8 1674.9 334.6 1676.9 333.3 1678.9 332.1 1681.0 330.8 1683.0 329.6 1685.0 328.4 1687.0 327.1 1689.0 326.0 1691.0 324.8 1693.0 323.6 1695.0 322.5 1697.0 321.3 1699.0 320.2 1701.0 319.1 1703.0 317.9 1705.0 316.8 1707.1 315.7 1709.1 314.6 1711.1 313.5 1713.1 312.4 1715.1 311.3 1717.1 310.2 1719.1 309.0 1721.1 307.9 1723.1 306.8 1725.1 305.6 1727.1 304.5 1729.1 303.3 1731.1 302.1 1733.2 300.9 1735.2 299.7 1737.2 298.4 1739.2 297.1 1741.2 295.8 1743.2 294.5 1745.2 293.2 1747.2 291.8 1749.2 290.4 1751.2 289.0 1753.2 287.5 1755.2 286.0 1757.2 284.5 1759.3 282.9 1761.3 281.3 1763.3 279.6 1765.3 278.0 1767.3 276.2 1769.3 274.4 1771.3 272.6 1773.3 270.7 1775.3 268.8 1777.3 266.8 1779.3 264.8 1781.3 262.7 1783.3 260.6 1785.4 258.4 1787.4 256.1 1789.4 253.8 1791.4 251.4 1793.4 249.0 1795.4 246.5 1797.4 243.9 1799.4 241.3 1801.4 238.6 1803.4 235.9 1805.4 233.2 1807.4 230.5 1809.4 227.7 1811.5 224.9 1813.5 222.2 1815.5 219.4 1817.5 216.6 1819.5 213.9 1821.5 211.2 1823.5 208.5 1825.5 205.8 1827.5 203.2 1829.5 200.6 1831.5 198.1 1833.5 195.7 1835.5 193.3 1837.6 191.0 1839.6 188.8 1841.6 186.6 1843.6 184.6 1845.6 182.7 1847.6 180.8 1849.6 179.1 1851.6 177.5 1853.6 176.1 1855.6 174.7 1857.6 173.5 1859.6 172.5 1861.6 171.6 1863.7 170.9 1865.7 170.3 1867.7 169.9 1869.7 169.7 1871.7 169.7 1873.7 169.9 1875.7 170.2 1877.7 170.8 1879.7 171.6 1881.7 172.6 1883.7 173.8 1885.7 175.3 1887.7 177.0 1889.8 179.0 1891.8 181.2 1893.8 183.6 1895.8 186.4 1897.8 189.4 1899.8 192.7 1901.8 196.2" fill="none" stroke="#0072BD" stroke-width="2.45" stroke-linejoin="round"/>
<path d="M1456.1 209.5L1458.1 210.8 1460.1 212.2 1462.1 213.8 1464.1 215.6 1466.1 217.5 1468.1 219.5 1470.2 221.7 1472.2 224.1 1474.2 226.6 1476.2 229.2 1478.2 231.9 1480.2 234.7 1482.2 237.6 1484.2 240.6 1486.2 243.7 1488.2 246.9 1490.2 250.1 1492.2 253.4 1494.2 256.8 1496.3 260.2 1498.3 263.7 1500.3 267.2 1502.3 270.8 1504.3 274.3 1506.3 277.9 1508.3 281.5 1510.3 285.1 1512.3 288.7 1514.3 292.3 1516.3 295.8 1518.3 299.4 1520.3 302.9 1522.4 306.4 1524.4 309.8 1526.4 313.2 1528.4 316.5 1530.4 319.7 1532.4 322.9 1534.4 326.0 1536.4 329.0 1538.4 331.9 1540.4 334.7 1542.4 337.4 1544.4 340.0 1546.4 342.5 1548.5 344.8 1550.5 347.0 1552.5 349.0 1554.5 350.9 1556.5 352.7 1558.5 354.3 1560.5 355.7 1562.5 356.9 1564.5 358.0 1566.5 358.8 1568.5 359.5 1570.5 359.9 1572.5 360.2 1574.6 360.2 1576.6 360.0 1578.6 359.6 1580.6 359.0 1582.6 358.2 1584.6 357.2 1586.6 356.0 1588.6 354.6 1590.6 353.1 1592.6 351.4 1594.6 349.5 1596.6 347.4 1598.6 345.2 1600.7 342.8 1602.7 340.3 1604.7 337.6 1606.7 334.8 1608.7 331.9 1610.7 329.0 1612.7 326.0 1614.7 323.0 1616.7 320.1 1618.7 317.3 1620.7 314.5 1622.7 312.0 1624.7 309.6 1626.8 307.5 1628.8 305.4 1630.8 303.6 1632.8 301.9 1634.8 300.3 1636.8 298.9 1638.8 297.7 1640.8 296.5 1642.8 295.6 1644.8 294.7 1646.8 294.0 1648.8 293.4 1650.8 292.9 1652.9 292.5 1654.9 292.3 1656.9 292.1 1658.9 292.0 1660.9 292.1 1662.9 292.2 1664.9 292.4 1666.9 292.7 1668.9 293.0 1670.9 293.4 1672.9 293.9 1674.9 294.5 1676.9 295.1 1678.9 295.8 1681.0 296.5 1683.0 297.2 1685.0 298.0 1687.0 298.8 1689.0 299.7 1691.0 300.6 1693.0 301.5 1695.0 302.4 1697.0 303.3 1699.0 304.2 1701.0 305.1 1703.0 306.0 1705.0 306.9 1707.1 307.8 1709.1 308.6 1711.1 309.4 1713.1 310.2 1715.1 311.0 1717.1 311.7 1719.1 312.3 1721.1 312.9 1723.1 313.4 1725.1 313.9 1727.1 314.3 1729.1 314.6 1731.1 314.9 1733.2 315.0 1735.2 315.1 1737.2 315.0 1739.2 314.9 1741.2 314.6 1743.2 314.2 1745.2 313.8 1747.2 313.2 1749.2 312.4 1751.2 311.6 1753.2 310.6 1755.2 309.5 1757.2 308.4 1759.3 307.1 1761.3 305.7 1763.3 304.2 1765.3 302.6 1767.3 300.9 1769.3 299.1 1771.3 297.3 1773.3 295.3 1775.3 293.3 1777.3 291.2 1779.3 289.0 1781.3 286.8 1783.3 284.4 1785.4 282.0 1787.4 279.6 1789.4 277.0 1791.4 274.5 1793.4 271.8 1795.4 269.1 1797.4 266.4 1799.4 263.6 1801.4 260.8 1803.4 258.0 1805.4 255.1 1807.4 252.3 1809.4 249.4 1811.5 246.5 1813.5 243.7 1815.5 240.8 1817.5 238.0 1819.5 235.2 1821.5 232.4 1823.5 229.7 1825.5 227.0 1827.5 224.4 1829.5 221.8 1831.5 219.3 1833.5 216.9 1835.5 214.6 1837.6 212.3 1839.6 210.1 1841.6 208.1 1843.6 206.1 1845.6 204.3 1847.6 202.5 1849.6 200.9 1851.6 199.5 1853.6 198.1 1855.6 196.9 1857.6 195.9 1859.6 195.0 1861.6 194.3 1863.7 193.8 1865.7 193.4 1867.7 193.2 1869.7 193.2 1871.7 193.3 1873.7 193.5 1875.7 193.9 1877.7 194.4 1879.7 195.0 1881.7 195.8 1883.7 196.6 1885.7 197.5 1887.7 198.5 1889.8 199.6 1891.8 200.8 1893.8 202.0 1895.8 203.3 1897.8 204.6 1899.8 205.9 1901.8 207.3" fill="none" stroke="#A2142F" stroke-width="2.45" stroke-linejoin="round"/>
</g>
<rect x="1451.6" y="11.7" width="534.9" height="481.7" fill="none" stroke="#333333" stroke-width="0.9"/>
<text x="1451.6" y="523.5" font-size="23.2" text-anchor="middle">0</text>
<text x="1540.8" y="523.5" font-size="23.2" text-anchor="middle">20</text>
<text x="1629.9" y="523.5" font-size="23.2" text-anchor="middle">40</text>
<text x="1719.0" y="523.5" font-size="23.2" text-anchor="middle">60</text>
<text x="1808.2" y="523.5" font-size="23.2" text-anchor="middle">80</text>
<text x="1897.3" y="523.5" font-size="23.2" text-anchor="middle">100</text>
<text x="1986.5" y="523.5" font-size="23.2" text-anchor="middle">120</text>
<text x="1443.6" y="42.7" font-size="23.2" text-anchor="end">0.06</text>
<text x="1443.6" y="123.1" font-size="23.2" text-anchor="end">0.04</text>
<text x="1443.6" y="203.4" font-size="23.2" text-anchor="end">0.02</text>
<text x="1443.6" y="283.8" font-size="23.2" text-anchor="end">0</text>
<text x="1443.6" y="364.1" font-size="23.2" text-anchor="end">-0.02</text>
<text x="1443.6" y="444.5" font-size="23.2" text-anchor="end">-0.04</text>
<path d="M1451.6 493.4V488.1M1451.6 11.7V17.0M1540.8 493.4V488.1M1540.8 11.7V17.0M1629.9 493.4V488.1M1629.9 11.7V17.0M1719.0 493.4V488.1M1719.0 11.7V17.0M1808.2 493.4V488.1M1808.2 11.7V17.0M1897.3 493.4V488.1M1897.3 11.7V17.0M1986.5 493.4V488.1M1986.5 11.7V17.0M1451.6 34.4H1456.9M1986.5 34.4H1981.2M1451.6 114.8H1456.9M1986.5 114.8H1981.2M1451.6 195.1H1456.9M1986.5 195.1H1981.2M1451.6 275.5H1456.9M1986.5 275.5H1981.2M1451.6 355.8H1456.9M1986.5 355.8H1981.2M1451.6 436.2H1456.9M1986.5 436.2H1981.2" stroke="#333333" stroke-width="0.9" fill="none"/>
<text x="1719.0" y="554.3" font-size="25.7" text-anchor="middle">% Stride Cycle</text>
<text transform="translate(1380.6 252.5) rotate(-90)" font-size="25.7" text-anchor="middle">L5/S1 Axial rotation moment</text>
<rect x="1866.2" y="22.4" width="108.5" height="57.2" fill="#fff" stroke="#333333" stroke-width="1"/>
<path d="M1871.9 38H1915.5" stroke="#0072BD" stroke-width="2.6"/>
<path d="M1871.9 63.7H1915.5" stroke="#A2142F" stroke-width="2.6"/>
<text x="1919.2" y="44.9" font-size="21.2">IMU</text>
<text x="1919.8" y="71.4" font-size="20.9">OMC</text>
<text x="1852.5" y="398.8" font-size="20.3">RMSE: 0.00</text>
<text x="1852.5" y="422.9" font-size="20.3">NRMSE: 0.02</text>
<text x="1852.5" y="447.0" font-size="20.3">R: 0.91</text>
</svg></body></html>
